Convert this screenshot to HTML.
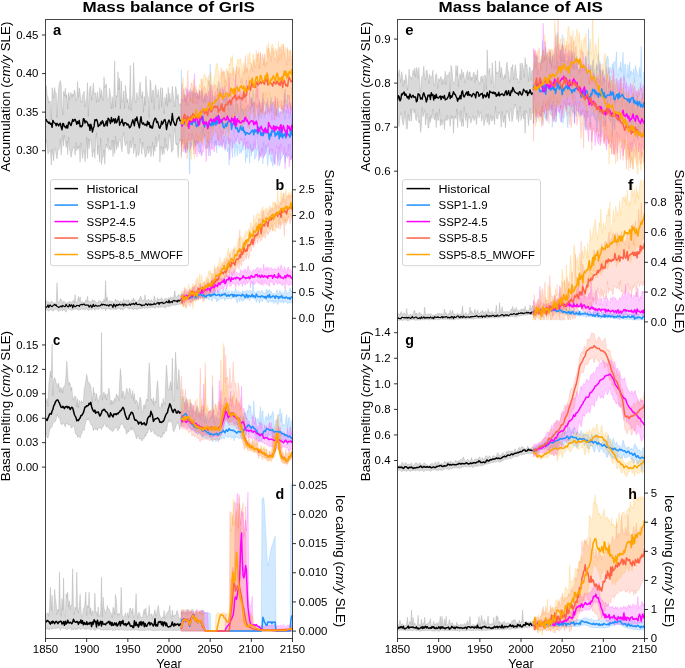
<!DOCTYPE html>
<html><head><meta charset="utf-8"><style>html,body{margin:0;padding:0;background:#fff;}svg{display:block;will-change:transform;}</style></head><body><svg width="685" height="668" viewBox="0 0 685 668" font-family='"Liberation Sans", sans-serif'>
<rect width="685" height="668" fill="#fff"/>
<clipPath id="clipa"><rect x="45.5" y="19.2" width="247.0" height="154.8"/></clipPath><g clip-path="url(#clipa)"><path d="M45.5,99.3L46.3,85.5L47.1,94.7L48.0,97.0L48.8,103.0L49.6,101.1L50.4,101.7L51.3,120.0L52.1,87.7L52.9,91.5L53.7,98.1L54.6,87.5L55.4,92.6L56.2,93.2L57.0,117.3L57.9,98.3L58.7,87.7L59.5,82.7L60.3,80.7L61.1,84.2L62.0,106.2L62.8,115.0L63.6,91.5L64.4,96.1L65.3,88.2L66.1,97.4L66.9,94.5L67.7,109.1L68.6,92.5L69.4,100.1L70.2,93.4L71.0,92.4L71.8,97.3L72.7,93.6L73.5,96.4L74.3,89.9L75.1,92.1L76.0,101.0L76.8,98.7L77.6,81.5L78.4,97.2L79.3,87.9L80.1,93.0L80.9,101.1L81.7,102.7L82.5,95.3L83.4,94.1L84.2,91.1L85.0,107.1L85.8,101.4L86.7,97.1L87.5,82.7L88.3,116.4L89.1,92.6L90.0,86.7L90.8,85.9L91.6,100.5L92.4,93.2L93.3,83.0L94.1,93.3L94.9,92.6L95.7,93.2L96.5,102.7L97.4,91.7L98.2,98.1L99.0,101.8L99.8,87.6L100.7,98.3L101.5,89.9L102.3,96.7L103.1,100.8L104.0,76.9L104.8,87.9L105.6,85.6L106.4,83.7L107.2,97.3L108.1,99.9L108.9,98.7L109.7,88.3L110.5,95.4L111.4,108.9L112.2,96.7L113.0,108.3L113.8,94.9L114.7,60.7L115.5,107.1L116.3,95.3L117.1,97.0L118.0,71.7L118.8,90.0L119.6,78.0L120.4,108.9L121.2,80.9L122.1,102.2L122.9,100.5L123.7,91.0L124.5,108.6L125.4,85.3L126.2,92.1L127.0,102.7L127.8,98.7L128.7,109.2L129.5,98.8L130.3,65.2L131.1,110.9L131.9,100.0L132.8,95.1L133.6,62.6L134.4,84.9L135.2,100.2L136.1,102.6L136.9,92.5L137.7,99.4L138.5,99.0L139.4,87.2L140.2,82.0L141.0,94.1L141.8,98.0L142.7,91.5L143.5,112.3L144.3,96.5L145.1,105.3L145.9,76.1L146.8,90.2L147.6,95.1L148.4,98.0L149.2,117.7L150.1,79.8L150.9,82.5L151.7,102.5L152.5,90.5L153.4,90.2L154.2,109.5L155.0,88.4L155.8,84.8L156.7,94.4L157.5,96.9L158.3,89.6L159.1,109.4L159.9,95.5L160.8,87.4L161.6,106.9L162.4,87.9L163.2,99.9L164.1,114.0L164.9,97.2L165.7,104.6L166.5,93.6L167.4,106.3L168.2,87.4L169.0,102.6L169.8,93.3L170.6,101.4L171.5,99.1L172.3,86.2L173.1,94.5L173.9,99.7L174.8,106.9L175.6,86.5L176.4,90.1L177.2,99.1L178.1,94.3L178.9,105.1L179.7,104.9L180.5,103.3L180.5,141.2L179.7,139.0L178.9,146.1L178.1,157.5L177.2,143.1L176.4,145.0L175.6,143.0L174.8,128.6L173.9,133.3L173.1,150.1L172.3,150.2L171.5,152.4L170.6,140.3L169.8,134.4L169.0,138.0L168.2,148.6L167.4,150.8L166.5,144.4L165.7,148.7L164.9,137.9L164.1,154.2L163.2,146.5L162.4,155.0L161.6,149.0L160.8,146.3L159.9,162.2L159.1,134.1L158.3,140.6L157.5,140.8L156.7,147.2L155.8,136.7L155.0,151.4L154.2,145.6L153.4,156.1L152.5,142.1L151.7,150.8L150.9,156.8L150.1,146.2L149.2,151.0L148.4,153.7L147.6,146.0L146.8,153.6L145.9,156.4L145.1,157.3L144.3,150.1L143.5,147.6L142.7,142.0L141.8,154.3L141.0,144.6L140.2,138.6L139.4,152.3L138.5,155.7L137.7,153.3L136.9,152.6L136.1,157.2L135.2,144.0L134.4,148.0L133.6,153.5L132.8,137.4L131.9,146.0L131.1,147.9L130.3,140.8L129.5,152.5L128.7,154.1L127.8,153.3L127.0,141.7L126.2,142.9L125.4,145.9L124.5,141.3L123.7,132.6L122.9,137.1L122.1,151.7L121.2,147.8L120.4,139.6L119.6,139.5L118.8,142.8L118.0,147.6L117.1,141.6L116.3,149.9L115.5,136.3L114.7,153.5L113.8,140.3L113.0,156.5L112.2,140.0L111.4,149.8L110.5,149.6L109.7,146.6L108.9,150.6L108.1,137.8L107.2,148.3L106.4,144.0L105.6,147.9L104.8,164.2L104.0,149.9L103.1,157.4L102.3,158.2L101.5,164.5L100.7,138.1L99.8,162.2L99.0,155.9L98.2,145.4L97.4,154.7L96.5,132.8L95.7,140.8L94.9,158.3L94.1,149.4L93.3,151.3L92.4,157.0L91.6,146.9L90.8,140.7L90.0,139.1L89.1,148.9L88.3,138.8L87.5,158.7L86.7,136.9L85.8,154.1L85.0,161.8L84.2,150.4L83.4,151.5L82.5,158.6L81.7,149.1L80.9,142.7L80.1,162.1L79.3,145.5L78.4,149.0L77.6,146.7L76.8,150.9L76.0,142.7L75.1,155.2L74.3,146.9L73.5,147.9L72.7,148.9L71.8,153.7L71.0,157.4L70.2,151.2L69.4,149.1L68.6,137.1L67.7,154.7L66.9,140.9L66.1,147.4L65.3,140.3L64.4,135.2L63.6,146.2L62.8,135.3L62.0,145.5L61.1,155.0L60.3,138.9L59.5,147.9L58.7,149.8L57.9,149.4L57.0,159.0L56.2,154.5L55.4,149.1L54.6,147.6L53.7,160.8L52.9,154.5L52.1,149.0L51.3,165.2L50.4,150.7L49.6,150.7L48.8,151.7L48.0,154.0L47.1,148.2L46.3,139.5L45.5,142.8Z" fill="#808080" fill-opacity="0.3" stroke="#808080" stroke-opacity="0.3" stroke-width="0.8"/><path d="M181.3,69.7L182.2,98.6L183.0,100.8L183.8,101.5L184.6,95.3L185.5,95.2L186.3,105.1L187.1,90.4L187.9,106.1L188.8,101.2L189.6,96.7L190.4,88.9L191.2,101.6L192.1,97.7L192.9,91.4L193.7,95.6L194.5,92.5L195.3,93.1L196.2,97.9L197.0,95.6L197.8,93.9L198.6,99.7L199.5,89.7L200.3,111.8L201.1,105.3L201.9,90.7L202.8,97.0L203.6,103.6L204.4,97.3L205.2,93.0L206.1,103.1L206.9,95.0L207.7,100.5L208.5,100.5L209.3,100.2L210.2,63.7L211.0,106.7L211.8,102.1L212.6,95.8L213.5,107.4L214.3,109.7L215.1,96.4L215.9,100.0L216.8,100.9L217.6,99.2L218.4,106.1L219.2,82.1L220.0,106.2L220.9,102.9L221.7,109.0L222.5,103.0L223.3,89.3L224.2,100.7L225.0,97.5L225.8,104.5L226.6,90.6L227.5,101.2L228.3,110.2L229.1,98.1L229.9,105.5L230.8,99.8L231.6,103.0L232.4,102.4L233.2,103.4L234.0,110.0L234.9,113.9L235.7,98.8L236.5,105.8L237.3,103.4L238.2,108.2L239.0,118.0L239.8,113.6L240.6,97.2L241.5,110.9L242.3,108.5L243.1,115.4L243.9,109.7L244.7,108.9L245.6,108.1L246.4,107.3L247.2,110.9L248.0,110.7L248.9,107.4L249.7,105.4L250.5,108.4L251.3,96.9L252.2,106.5L253.0,90.1L253.8,112.1L254.6,101.8L255.4,114.6L256.3,118.4L257.1,114.6L257.9,104.8L258.7,115.8L259.6,99.0L260.4,109.2L261.2,118.5L262.0,107.5L262.9,98.4L263.7,114.8L264.5,117.7L265.3,106.5L266.2,101.7L267.0,103.6L267.8,112.1L268.6,109.0L269.4,108.2L270.3,103.1L271.1,97.2L271.9,111.2L272.7,102.6L273.6,112.9L274.4,107.2L275.2,100.7L276.0,115.7L276.9,108.6L277.7,116.8L278.5,105.8L279.3,114.8L280.1,111.0L281.0,112.1L281.8,113.7L282.6,110.9L283.4,105.2L284.3,92.7L285.1,119.3L285.9,110.2L286.7,113.2L287.6,94.6L288.4,110.5L289.2,117.8L290.0,112.9L290.9,104.8L291.7,125.0L292.5,111.1L292.5,159.0L291.7,155.8L290.9,160.0L290.0,144.1L289.2,156.1L288.4,154.3L287.6,158.3L286.7,155.1L285.9,154.3L285.1,162.7L284.3,154.2L283.4,154.7L282.6,155.2L281.8,158.1L281.0,157.8L280.1,163.7L279.3,165.8L278.5,159.6L277.7,159.5L276.9,153.0L276.0,152.1L275.2,164.6L274.4,160.7L273.6,161.1L272.7,166.4L271.9,157.0L271.1,162.4L270.3,158.2L269.4,150.2L268.6,155.5L267.8,166.1L267.0,157.1L266.2,144.9L265.3,154.3L264.5,156.1L263.7,142.3L262.9,163.9L262.0,147.4L261.2,155.1L260.4,155.8L259.6,152.3L258.7,161.4L257.9,150.4L257.1,148.0L256.3,156.0L255.4,158.1L254.6,159.4L253.8,143.8L253.0,151.8L252.2,148.5L251.3,156.2L250.5,143.9L249.7,163.1L248.9,152.3L248.0,146.3L247.2,157.8L246.4,154.8L245.6,162.7L244.7,142.2L243.9,144.9L243.1,150.8L242.3,145.5L241.5,153.0L240.6,149.8L239.8,153.9L239.0,147.9L238.2,146.4L237.3,155.8L236.5,149.0L235.7,144.3L234.9,156.9L234.0,140.8L233.2,147.9L232.4,157.6L231.6,149.6L230.8,144.2L229.9,139.8L229.1,165.1L228.3,147.9L227.5,151.9L226.6,145.7L225.8,140.5L225.0,151.0L224.2,136.0L223.3,142.4L222.5,145.9L221.7,143.0L220.9,145.9L220.0,146.2L219.2,147.3L218.4,138.5L217.6,139.2L216.8,153.1L215.9,140.3L215.1,146.6L214.3,146.6L213.5,142.5L212.6,142.2L211.8,147.8L211.0,138.3L210.2,143.6L209.3,147.1L208.5,156.0L207.7,139.8L206.9,146.8L206.1,149.1L205.2,147.9L204.4,145.1L203.6,128.2L202.8,138.3L201.9,127.3L201.1,155.3L200.3,145.7L199.5,145.7L198.6,151.9L197.8,141.9L197.0,144.6L196.2,140.3L195.3,145.7L194.5,140.1L193.7,149.2L192.9,141.2L192.1,142.8L191.2,147.0L190.4,142.8L189.6,185.1L188.8,148.1L187.9,146.6L187.1,152.6L186.3,145.2L185.5,152.5L184.6,145.3L183.8,137.6L183.0,135.1L182.2,142.1L181.3,155.5Z" fill="#1e90ff" fill-opacity="0.2" stroke="#1e90ff" stroke-opacity="0.2" stroke-width="0.8"/><path d="M181.3,98.7L182.2,101.0L183.0,98.8L183.8,88.6L184.6,101.7L185.5,96.6L186.3,101.8L187.1,88.8L187.9,97.5L188.8,91.1L189.6,92.8L190.4,99.9L191.2,91.8L192.1,90.3L192.9,103.1L193.7,91.6L194.5,73.8L195.3,97.7L196.2,91.8L197.0,104.0L197.8,92.8L198.6,99.3L199.5,90.8L200.3,95.8L201.1,102.1L201.9,88.6L202.8,96.7L203.6,101.6L204.4,94.9L205.2,101.3L206.1,92.8L206.9,95.6L207.7,97.5L208.5,91.0L209.3,103.1L210.2,89.1L211.0,107.6L211.8,85.1L212.6,93.9L213.5,96.7L214.3,99.6L215.1,91.6L215.9,96.0L216.8,96.1L217.6,88.6L218.4,97.7L219.2,96.5L220.0,92.3L220.9,88.3L221.7,95.9L222.5,86.8L223.3,94.7L224.2,90.4L225.0,85.7L225.8,100.9L226.6,95.9L227.5,95.4L228.3,91.5L229.1,76.5L229.9,95.3L230.8,93.9L231.6,88.3L232.4,103.1L233.2,100.2L234.0,98.3L234.9,95.6L235.7,74.4L236.5,99.0L237.3,84.8L238.2,100.3L239.0,97.2L239.8,89.3L240.6,91.3L241.5,96.3L242.3,94.0L243.1,91.3L243.9,96.6L244.7,92.7L245.6,102.7L246.4,80.1L247.2,108.0L248.0,103.7L248.9,105.8L249.7,91.3L250.5,102.4L251.3,98.0L252.2,106.0L253.0,101.7L253.8,102.4L254.6,106.2L255.4,95.7L256.3,86.0L257.1,97.5L257.9,85.0L258.7,107.0L259.6,101.8L260.4,112.0L261.2,102.5L262.0,113.4L262.9,92.7L263.7,106.0L264.5,114.7L265.3,111.4L266.2,113.4L267.0,105.4L267.8,98.4L268.6,106.4L269.4,111.5L270.3,109.5L271.1,103.7L271.9,119.8L272.7,101.0L273.6,102.3L274.4,120.4L275.2,96.0L276.0,115.5L276.9,106.7L277.7,98.1L278.5,115.9L279.3,117.3L280.1,112.8L281.0,112.7L281.8,100.0L282.6,109.4L283.4,109.2L284.3,109.2L285.1,89.1L285.9,111.7L286.7,104.3L287.6,106.4L288.4,112.8L289.2,95.0L290.0,114.5L290.9,101.8L291.7,111.2L292.5,104.2L292.5,156.7L291.7,156.1L290.9,160.1L290.0,155.7L289.2,167.0L288.4,144.6L287.6,154.5L286.7,156.6L285.9,151.8L285.1,168.8L284.3,147.2L283.4,154.7L282.6,152.6L281.8,151.3L281.0,143.7L280.1,160.3L279.3,146.5L278.5,156.4L277.7,165.8L276.9,145.7L276.0,149.1L275.2,158.3L274.4,164.7L273.6,159.3L272.7,149.3L271.9,154.8L271.1,148.4L270.3,150.7L269.4,154.7L268.6,143.4L267.8,146.5L267.0,146.2L266.2,152.3L265.3,153.6L264.5,154.5L263.7,158.2L262.9,153.7L262.0,148.9L261.2,157.4L260.4,154.5L259.6,159.4L258.7,148.7L257.9,148.0L257.1,136.1L256.3,136.2L255.4,148.9L254.6,141.4L253.8,150.0L253.0,149.8L252.2,151.3L251.3,151.3L250.5,148.2L249.7,146.7L248.9,148.8L248.0,141.0L247.2,148.5L246.4,141.5L245.6,149.4L244.7,137.6L243.9,144.2L243.1,145.8L242.3,139.7L241.5,140.5L240.6,138.0L239.8,144.2L239.0,143.7L238.2,139.1L237.3,134.7L236.5,141.3L235.7,138.4L234.9,143.5L234.0,130.1L233.2,141.5L232.4,148.2L231.6,139.4L230.8,139.3L229.9,159.5L229.1,137.8L228.3,144.3L227.5,137.9L226.6,138.5L225.8,148.7L225.0,148.9L224.2,146.1L223.3,139.8L222.5,147.9L221.7,147.0L220.9,140.7L220.0,145.3L219.2,144.2L218.4,145.5L217.6,134.8L216.8,144.7L215.9,145.3L215.1,141.0L214.3,152.0L213.5,149.7L212.6,147.2L211.8,149.9L211.0,147.7L210.2,156.4L209.3,150.9L208.5,141.2L207.7,148.5L206.9,145.4L206.1,161.8L205.2,139.2L204.4,133.7L203.6,151.7L202.8,150.8L201.9,156.1L201.1,152.7L200.3,150.1L199.5,154.0L198.6,140.0L197.8,143.0L197.0,156.9L196.2,141.1L195.3,154.1L194.5,141.7L193.7,138.3L192.9,140.3L192.1,133.7L191.2,145.6L190.4,149.6L189.6,137.0L188.8,133.7L187.9,149.3L187.1,146.9L186.3,142.3L185.5,153.3L184.6,146.4L183.8,151.9L183.0,139.2L182.2,143.5L181.3,146.5Z" fill="#ff00ff" fill-opacity="0.2" stroke="#ff00ff" stroke-opacity="0.2" stroke-width="0.8"/><path d="M181.3,93.3L182.2,83.6L183.0,99.4L183.8,98.7L184.6,91.7L185.5,86.8L186.3,90.4L187.1,85.3L187.9,70.1L188.8,95.8L189.6,90.0L190.4,89.6L191.2,83.1L192.1,83.5L192.9,104.0L193.7,87.6L194.5,96.2L195.3,104.7L196.2,89.0L197.0,92.1L197.8,92.9L198.6,98.3L199.5,96.3L200.3,91.1L201.1,98.6L201.9,79.0L202.8,88.1L203.6,89.4L204.4,86.3L205.2,88.2L206.1,94.6L206.9,93.5L207.7,86.0L208.5,80.6L209.3,85.2L210.2,88.9L211.0,84.5L211.8,96.3L212.6,90.9L213.5,86.8L214.3,84.5L215.1,85.8L215.9,85.1L216.8,90.4L217.6,86.3L218.4,80.8L219.2,93.3L220.0,89.0L220.9,83.4L221.7,71.8L222.5,76.4L223.3,70.5L224.2,71.5L225.0,82.1L225.8,79.4L226.6,85.8L227.5,71.0L228.3,73.3L229.1,73.8L229.9,72.9L230.8,73.7L231.6,74.9L232.4,74.1L233.2,67.9L234.0,79.8L234.9,80.9L235.7,74.1L236.5,66.5L237.3,71.7L238.2,74.1L239.0,67.2L239.8,71.2L240.6,83.2L241.5,77.2L242.3,83.5L243.1,71.5L243.9,72.4L244.7,66.5L245.6,55.7L246.4,71.9L247.2,67.6L248.0,69.4L248.9,83.8L249.7,70.6L250.5,69.7L251.3,63.0L252.2,69.3L253.0,71.5L253.8,59.4L254.6,62.9L255.4,67.5L256.3,66.3L257.1,53.9L257.9,55.9L258.7,51.9L259.6,68.5L260.4,53.1L261.2,59.7L262.0,57.7L262.9,53.8L263.7,65.5L264.5,54.1L265.3,67.3L266.2,62.0L267.0,64.2L267.8,48.5L268.6,48.6L269.4,53.9L270.3,55.2L271.1,61.5L271.9,47.5L272.7,49.4L273.6,52.4L274.4,58.5L275.2,59.8L276.0,58.1L276.9,49.3L277.7,63.2L278.5,56.5L279.3,47.1L280.1,51.7L281.0,46.3L281.8,54.4L282.6,54.2L283.4,45.0L284.3,52.7L285.1,54.5L285.9,59.7L286.7,65.6L287.6,47.4L288.4,59.0L289.2,61.0L290.0,51.1L290.9,61.8L291.7,64.6L292.5,52.3L292.5,104.0L291.7,87.8L290.9,109.3L290.0,109.6L289.2,103.2L288.4,105.4L287.6,108.4L286.7,100.2L285.9,107.4L285.1,99.7L284.3,102.6L283.4,112.7L282.6,105.8L281.8,110.2L281.0,108.7L280.1,103.7L279.3,108.2L278.5,106.1L277.7,101.3L276.9,114.3L276.0,98.6L275.2,103.0L274.4,108.0L273.6,101.0L272.7,98.3L271.9,99.4L271.1,112.4L270.3,101.0L269.4,114.9L268.6,107.8L267.8,113.2L267.0,106.7L266.2,104.1L265.3,115.2L264.5,101.4L263.7,106.1L262.9,111.0L262.0,113.2L261.2,108.9L260.4,110.4L259.6,114.9L258.7,120.7L257.9,114.9L257.1,114.7L256.3,104.4L255.4,116.1L254.6,119.1L253.8,124.6L253.0,109.7L252.2,102.9L251.3,113.9L250.5,108.0L249.7,129.2L248.9,123.8L248.0,127.6L247.2,119.2L246.4,117.6L245.6,115.5L244.7,123.5L243.9,123.5L243.1,123.6L242.3,129.4L241.5,124.7L240.6,122.0L239.8,123.9L239.0,118.3L238.2,128.0L237.3,125.3L236.5,118.5L235.7,122.9L234.9,114.1L234.0,121.1L233.2,123.1L232.4,127.4L231.6,127.2L230.8,115.2L229.9,117.0L229.1,132.3L228.3,127.1L227.5,123.4L226.6,129.1L225.8,114.5L225.0,120.2L224.2,127.7L223.3,134.8L222.5,131.5L221.7,140.8L220.9,129.8L220.0,138.7L219.2,140.8L218.4,139.5L217.6,136.4L216.8,131.6L215.9,133.8L215.1,131.3L214.3,123.8L213.5,135.7L212.6,135.9L211.8,140.5L211.0,124.1L210.2,136.8L209.3,148.2L208.5,131.9L207.7,142.8L206.9,141.0L206.1,137.0L205.2,136.1L204.4,125.0L203.6,129.9L202.8,145.7L201.9,143.7L201.1,139.1L200.3,141.2L199.5,136.5L198.6,138.9L197.8,143.6L197.0,139.9L196.2,133.2L195.3,146.9L194.5,140.0L193.7,154.4L192.9,136.3L192.1,133.6L191.2,140.1L190.4,140.2L189.6,138.0L188.8,141.9L187.9,138.2L187.1,159.0L186.3,143.4L185.5,150.0L184.6,144.7L183.8,128.5L183.0,144.2L182.2,138.4L181.3,158.4Z" fill="#ff6347" fill-opacity="0.2" stroke="#ff6347" stroke-opacity="0.2" stroke-width="0.8"/><path d="M181.3,105.0L182.2,93.0L183.0,77.2L183.8,97.9L184.6,93.5L185.5,106.1L186.3,95.5L187.1,104.7L187.9,105.4L188.8,94.1L189.6,101.8L190.4,98.6L191.2,91.8L192.1,101.6L192.9,90.5L193.7,79.5L194.5,94.0L195.3,85.9L196.2,86.3L197.0,98.2L197.8,98.1L198.6,88.9L199.5,84.4L200.3,87.4L201.1,78.3L201.9,83.4L202.8,82.9L203.6,76.7L204.4,74.1L205.2,75.3L206.1,79.7L206.9,77.4L207.7,82.7L208.5,75.1L209.3,85.1L210.2,75.2L211.0,72.2L211.8,82.7L212.6,83.9L213.5,82.0L214.3,77.0L215.1,73.9L215.9,66.7L216.8,63.2L217.6,64.4L218.4,72.3L219.2,76.0L220.0,80.6L220.9,67.5L221.7,69.0L222.5,73.6L223.3,72.5L224.2,71.8L225.0,86.8L225.8,70.7L226.6,67.9L227.5,70.4L228.3,76.0L229.1,63.5L229.9,65.7L230.8,57.1L231.6,61.4L232.4,55.3L233.2,65.4L234.0,75.5L234.9,69.8L235.7,75.1L236.5,66.9L237.3,59.3L238.2,59.1L239.0,59.7L239.8,60.6L240.6,58.5L241.5,66.1L242.3,76.3L243.1,62.9L243.9,63.2L244.7,73.7L245.6,66.0L246.4,73.0L247.2,64.8L248.0,53.9L248.9,64.4L249.7,52.4L250.5,58.7L251.3,64.4L252.2,70.4L253.0,54.2L253.8,54.4L254.6,67.5L255.4,60.5L256.3,50.6L257.1,61.8L257.9,54.4L258.7,68.9L259.6,62.2L260.4,51.7L261.2,63.5L262.0,64.9L262.9,64.4L263.7,57.9L264.5,65.2L265.3,55.9L266.2,51.5L267.0,45.3L267.8,57.2L268.6,42.8L269.4,50.9L270.3,53.4L271.1,50.8L271.9,44.4L272.7,44.4L273.6,48.9L274.4,54.0L275.2,48.1L276.0,51.9L276.9,52.0L277.7,51.3L278.5,41.5L279.3,60.2L280.1,53.1L281.0,59.4L281.8,43.8L282.6,45.4L283.4,43.8L284.3,54.4L285.1,51.8L285.9,47.3L286.7,50.9L287.6,50.1L288.4,50.7L289.2,50.2L290.0,52.6L290.9,49.1L291.7,60.9L292.5,54.4L292.5,103.5L291.7,102.5L290.9,108.7L290.0,108.3L289.2,94.6L288.4,99.3L287.6,95.2L286.7,103.0L285.9,103.1L285.1,104.7L284.3,106.0L283.4,114.5L282.6,90.4L281.8,88.1L281.0,109.5L280.1,107.5L279.3,101.4L278.5,106.9L277.7,103.9L276.9,103.6L276.0,118.9L275.2,103.9L274.4,116.2L273.6,105.8L272.7,104.6L271.9,101.5L271.1,104.4L270.3,101.9L269.4,92.0L268.6,105.2L267.8,107.8L267.0,106.0L266.2,92.0L265.3,102.5L264.5,105.2L263.7,92.7L262.9,115.1L262.0,109.6L261.2,112.9L260.4,115.3L259.6,102.6L258.7,101.5L257.9,108.6L257.1,109.9L256.3,105.3L255.4,103.3L254.6,116.1L253.8,94.6L253.0,98.5L252.2,107.4L251.3,103.9L250.5,103.1L249.7,100.9L248.9,111.8L248.0,108.0L247.2,108.3L246.4,121.1L245.6,116.1L244.7,123.5L243.9,105.1L243.1,113.4L242.3,103.0L241.5,115.8L240.6,127.7L239.8,114.1L239.0,113.5L238.2,107.6L237.3,114.8L236.5,104.9L235.7,118.5L234.9,124.0L234.0,114.0L233.2,121.4L232.4,113.9L231.6,120.2L230.8,114.7L229.9,112.8L229.1,110.9L228.3,141.6L227.5,119.0L226.6,123.8L225.8,136.6L225.0,105.7L224.2,114.2L223.3,126.6L222.5,121.1L221.7,120.6L220.9,117.9L220.0,121.5L219.2,129.4L218.4,121.4L217.6,122.9L216.8,111.5L215.9,122.8L215.1,119.7L214.3,114.0L213.5,126.1L212.6,131.6L211.8,126.3L211.0,128.5L210.2,118.2L209.3,134.4L208.5,141.2L207.7,139.3L206.9,148.7L206.1,131.2L205.2,117.9L204.4,133.8L203.6,138.9L202.8,140.2L201.9,144.0L201.1,139.0L200.3,133.4L199.5,143.1L198.6,142.2L197.8,135.6L197.0,141.5L196.2,138.5L195.3,148.9L194.5,159.0L193.7,143.5L192.9,144.0L192.1,146.8L191.2,159.6L190.4,147.6L189.6,152.8L188.8,142.7L187.9,143.5L187.1,150.0L186.3,139.3L185.5,144.8L184.6,142.0L183.8,148.8L183.0,139.4L182.2,152.3L181.3,144.4Z" fill="#ffa500" fill-opacity="0.2" stroke="#ffa500" stroke-opacity="0.2" stroke-width="0.8"/><path d="M45.5,120.3L46.3,119.6L47.1,121.8L48.0,121.8L48.8,123.3L49.6,122.3L50.4,124.2L51.3,123.5L52.1,127.3L52.9,120.4L53.7,122.1L54.6,123.1L55.4,123.4L56.2,125.8L57.0,123.3L57.9,124.2L58.7,125.9L59.5,124.3L60.3,123.2L61.1,126.9L62.0,129.8L62.8,123.4L63.6,123.9L64.4,126.8L65.3,126.5L66.1,128.1L66.9,125.3L67.7,128.1L68.6,122.2L69.4,122.3L70.2,124.4L71.0,125.6L71.8,122.8L72.7,119.4L73.5,121.4L74.3,119.9L75.1,119.3L76.0,121.6L76.8,124.4L77.6,121.4L78.4,123.5L79.3,120.5L80.1,126.7L80.9,125.8L81.7,126.7L82.5,125.3L83.4,118.7L84.2,119.2L85.0,123.1L85.8,121.0L86.7,121.6L87.5,122.8L88.3,125.9L89.1,124.4L90.0,130.4L90.8,124.3L91.6,126.8L92.4,132.0L93.3,128.3L94.1,126.2L94.9,119.6L95.7,120.6L96.5,119.4L97.4,121.5L98.2,126.6L99.0,125.1L99.8,125.4L100.7,122.1L101.5,123.9L102.3,120.6L103.1,122.1L104.0,126.2L104.8,125.8L105.6,123.6L106.4,121.0L107.2,125.8L108.1,118.2L108.9,119.1L109.7,120.6L110.5,123.5L111.4,117.5L112.2,121.9L113.0,120.3L113.8,118.8L114.7,123.0L115.5,118.8L116.3,122.7L117.1,121.7L118.0,118.6L118.8,116.2L119.6,125.2L120.4,122.5L121.2,122.4L122.1,119.1L122.9,123.6L123.7,125.8L124.5,122.7L125.4,122.8L126.2,123.1L127.0,125.1L127.8,124.0L128.7,125.2L129.5,127.8L130.3,127.1L131.1,125.5L131.9,122.7L132.8,119.8L133.6,122.7L134.4,125.7L135.2,118.7L136.1,120.7L136.9,116.9L137.7,121.8L138.5,124.5L139.4,127.9L140.2,121.1L141.0,116.7L141.8,122.6L142.7,124.0L143.5,122.8L144.3,124.7L145.1,125.1L145.9,124.2L146.8,125.8L147.6,121.2L148.4,124.4L149.2,122.6L150.1,127.5L150.9,125.8L151.7,128.1L152.5,128.1L153.4,122.6L154.2,120.3L155.0,118.3L155.8,118.4L156.7,122.6L157.5,121.4L158.3,124.1L159.1,127.5L159.9,128.3L160.8,125.8L161.6,121.3L162.4,124.2L163.2,122.8L164.1,120.1L164.9,119.5L165.7,122.2L166.5,129.5L167.4,124.9L168.2,121.8L169.0,119.9L169.8,121.9L170.6,125.2L171.5,121.7L172.3,113.5L173.1,120.2L173.9,122.2L174.8,124.7L175.6,125.5L176.4,123.2L177.2,119.0L178.1,118.4L178.9,116.9L179.7,120.1L180.5,121.5" fill="none" stroke="#000" stroke-width="1.4" stroke-linejoin="round" stroke-linecap="butt"/><path d="M181.3,124.4L182.2,120.0L183.0,121.0L183.8,124.6L184.6,120.3L185.5,119.2L186.3,118.7L187.1,123.7L187.9,125.7L188.8,121.4L189.6,119.7L190.4,124.4L191.2,123.4L192.1,124.6L192.9,121.3L193.7,121.0L194.5,122.0L195.3,118.5L196.2,126.5L197.0,126.4L197.8,124.2L198.6,121.5L199.5,124.4L200.3,118.8L201.1,119.7L201.9,118.9L202.8,116.3L203.6,121.5L204.4,127.1L205.2,123.6L206.1,123.0L206.9,124.3L207.7,127.3L208.5,124.6L209.3,121.8L210.2,125.5L211.0,123.9L211.8,125.6L212.6,120.2L213.5,125.1L214.3,119.3L215.1,122.5L215.9,125.1L216.8,116.4L217.6,123.6L218.4,120.4L219.2,117.0L220.0,121.9L220.9,122.7L221.7,119.8L222.5,122.6L223.3,127.0L224.2,127.9L225.0,126.2L225.8,123.8L226.6,126.4L227.5,123.3L228.3,121.0L229.1,120.4L229.9,121.4L230.8,121.1L231.6,129.5L232.4,123.7L233.2,123.8L234.0,123.4L234.9,124.6L235.7,128.7L236.5,127.8L237.3,128.1L238.2,132.0L239.0,131.9L239.8,129.3L240.6,126.2L241.5,129.2L242.3,130.3L243.1,127.1L243.9,131.9L244.7,131.3L245.6,134.9L246.4,132.7L247.2,132.7L248.0,133.4L248.9,134.1L249.7,134.1L250.5,132.4L251.3,131.8L252.2,130.1L253.0,130.8L253.8,134.8L254.6,129.5L255.4,131.7L256.3,129.9L257.1,132.3L257.9,133.8L258.7,127.2L259.6,129.2L260.4,132.6L261.2,135.5L262.0,132.5L262.9,135.8L263.7,133.9L264.5,131.3L265.3,128.2L266.2,133.0L267.0,129.7L267.8,131.3L268.6,134.6L269.4,139.4L270.3,133.1L271.1,135.8L271.9,130.4L272.7,131.7L273.6,131.8L274.4,130.1L275.2,136.3L276.0,133.7L276.9,134.8L277.7,131.5L278.5,132.1L279.3,138.8L280.1,128.4L281.0,136.4L281.8,132.9L282.6,137.8L283.4,134.4L284.3,135.6L285.1,132.9L285.9,137.9L286.7,130.3L287.6,133.8L288.4,134.9L289.2,135.1L290.0,137.1L290.9,128.6L291.7,133.9L292.5,135.9" fill="none" stroke="#1e90ff" stroke-width="1.5" stroke-linejoin="round" stroke-linecap="butt"/><path d="M181.3,120.9L182.2,126.3L183.0,119.8L183.8,117.9L184.6,122.6L185.5,122.8L186.3,122.7L187.1,124.4L187.9,122.2L188.8,128.3L189.6,118.7L190.4,120.2L191.2,122.2L192.1,117.1L192.9,121.5L193.7,117.2L194.5,119.9L195.3,120.9L196.2,116.7L197.0,117.6L197.8,121.4L198.6,125.6L199.5,122.2L200.3,116.2L201.1,118.3L201.9,116.3L202.8,122.9L203.6,124.1L204.4,122.1L205.2,124.2L206.1,121.8L206.9,123.1L207.7,128.7L208.5,126.2L209.3,120.8L210.2,120.3L211.0,118.7L211.8,121.8L212.6,121.3L213.5,119.3L214.3,119.2L215.1,121.8L215.9,117.5L216.8,119.8L217.6,118.8L218.4,115.2L219.2,123.4L220.0,119.5L220.9,122.4L221.7,121.4L222.5,119.8L223.3,118.3L224.2,117.8L225.0,119.5L225.8,120.0L226.6,118.8L227.5,116.1L228.3,119.5L229.1,119.7L229.9,121.4L230.8,122.3L231.6,118.1L232.4,120.6L233.2,118.8L234.0,124.4L234.9,116.8L235.7,126.4L236.5,123.9L237.3,118.7L238.2,121.7L239.0,120.7L239.8,122.7L240.6,122.8L241.5,122.6L242.3,120.7L243.1,121.1L243.9,121.6L244.7,118.0L245.6,117.5L246.4,121.1L247.2,120.0L248.0,122.0L248.9,124.2L249.7,122.5L250.5,121.9L251.3,120.8L252.2,121.0L253.0,121.0L253.8,124.8L254.6,122.3L255.4,123.9L256.3,121.1L257.1,123.5L257.9,131.7L258.7,131.4L259.6,128.8L260.4,128.0L261.2,126.3L262.0,129.5L262.9,130.0L263.7,132.7L264.5,129.6L265.3,128.2L266.2,132.3L267.0,131.0L267.8,132.6L268.6,122.4L269.4,126.0L270.3,126.1L271.1,127.9L271.9,128.9L272.7,129.1L273.6,125.8L274.4,131.0L275.2,126.5L276.0,129.7L276.9,126.6L277.7,127.9L278.5,127.8L279.3,130.2L280.1,126.3L281.0,124.7L281.8,132.4L282.6,128.5L283.4,125.6L284.3,128.9L285.1,131.0L285.9,131.4L286.7,136.0L287.6,125.5L288.4,128.3L289.2,126.6L290.0,130.5L290.9,130.0L291.7,125.4L292.5,128.3" fill="none" stroke="#ff00ff" stroke-width="1.5" stroke-linejoin="round" stroke-linecap="butt"/><path d="M181.3,123.1L182.2,123.3L183.0,121.7L183.8,116.3L184.6,114.4L185.5,116.0L186.3,118.7L187.1,121.8L187.9,116.2L188.8,119.4L189.6,118.0L190.4,119.7L191.2,115.8L192.1,120.0L192.9,113.5L193.7,115.8L194.5,115.1L195.3,115.8L196.2,113.3L197.0,116.4L197.8,117.5L198.6,118.4L199.5,118.0L200.3,114.0L201.1,111.4L201.9,112.3L202.8,110.0L203.6,108.9L204.4,113.9L205.2,112.4L206.1,111.0L206.9,112.7L207.7,115.7L208.5,110.2L209.3,109.3L210.2,107.8L211.0,111.9L211.8,111.2L212.6,108.2L213.5,107.4L214.3,107.0L215.1,106.0L215.9,107.7L216.8,106.6L217.6,106.1L218.4,112.2L219.2,109.6L220.0,110.1L220.9,107.2L221.7,103.9L222.5,110.7L223.3,107.9L224.2,111.5L225.0,106.0L225.8,104.7L226.6,104.0L227.5,104.8L228.3,101.8L229.1,102.2L229.9,100.1L230.8,104.7L231.6,100.7L232.4,98.9L233.2,97.2L234.0,97.9L234.9,94.2L235.7,97.3L236.5,100.1L237.3,98.5L238.2,97.4L239.0,96.0L239.8,98.8L240.6,98.1L241.5,97.6L242.3,100.0L243.1,97.8L243.9,91.6L244.7,97.3L245.6,95.1L246.4,95.2L247.2,89.7L248.0,85.9L248.9,88.9L249.7,87.1L250.5,90.4L251.3,85.0L252.2,82.0L253.0,87.0L253.8,85.4L254.6,87.5L255.4,87.3L256.3,82.0L257.1,83.0L257.9,85.1L258.7,84.2L259.6,83.0L260.4,81.9L261.2,83.5L262.0,82.1L262.9,81.4L263.7,83.3L264.5,84.2L265.3,78.7L266.2,80.9L267.0,77.7L267.8,85.1L268.6,83.2L269.4,83.0L270.3,83.1L271.1,83.3L271.9,84.3L272.7,86.2L273.6,81.8L274.4,82.5L275.2,83.7L276.0,84.0L276.9,81.0L277.7,81.8L278.5,84.5L279.3,82.7L280.1,85.6L281.0,81.6L281.8,77.1L282.6,87.4L283.4,82.9L284.3,80.1L285.1,83.1L285.9,85.8L286.7,84.7L287.6,86.5L288.4,80.1L289.2,77.2L290.0,79.2L290.9,81.4L291.7,82.0L292.5,79.7" fill="none" stroke="#ff6347" stroke-width="1.5" stroke-linejoin="round" stroke-linecap="butt"/><path d="M181.3,124.2L182.2,118.3L183.0,124.1L183.8,121.0L184.6,119.7L185.5,119.7L186.3,126.0L187.1,123.3L187.9,121.1L188.8,119.1L189.6,119.1L190.4,119.4L191.2,120.4L192.1,116.8L192.9,115.9L193.7,117.2L194.5,118.2L195.3,116.0L196.2,109.7L197.0,117.8L197.8,117.2L198.6,115.6L199.5,112.8L200.3,117.3L201.1,112.5L201.9,110.5L202.8,110.5L203.6,108.5L204.4,110.0L205.2,110.9L206.1,108.7L206.9,110.3L207.7,108.2L208.5,105.2L209.3,102.4L210.2,104.3L211.0,109.5L211.8,109.5L212.6,102.4L213.5,103.2L214.3,103.2L215.1,100.2L215.9,100.9L216.8,99.3L217.6,99.4L218.4,95.5L219.2,95.9L220.0,92.5L220.9,96.2L221.7,94.3L222.5,99.0L223.3,98.0L224.2,96.6L225.0,96.5L225.8,93.5L226.6,93.1L227.5,94.1L228.3,96.7L229.1,94.7L229.9,96.1L230.8,88.1L231.6,90.6L232.4,89.7L233.2,93.6L234.0,88.5L234.9,94.1L235.7,88.2L236.5,87.6L237.3,87.5L238.2,91.1L239.0,91.1L239.8,87.3L240.6,87.4L241.5,85.4L242.3,88.6L243.1,88.9L243.9,85.9L244.7,92.3L245.6,88.0L246.4,90.6L247.2,90.8L248.0,89.4L248.9,88.3L249.7,80.9L250.5,82.3L251.3,81.2L252.2,78.1L253.0,83.8L253.8,86.5L254.6,86.9L255.4,80.3L256.3,76.8L257.1,76.8L257.9,81.5L258.7,81.8L259.6,81.6L260.4,75.4L261.2,76.1L262.0,80.2L262.9,81.0L263.7,81.7L264.5,80.1L265.3,75.6L266.2,78.9L267.0,73.0L267.8,76.0L268.6,81.4L269.4,84.6L270.3,81.4L271.1,79.0L271.9,80.0L272.7,77.0L273.6,75.7L274.4,78.6L275.2,81.4L276.0,77.6L276.9,73.3L277.7,74.4L278.5,81.8L279.3,78.3L280.1,78.3L281.0,79.5L281.8,77.4L282.6,81.2L283.4,76.2L284.3,71.1L285.1,75.3L285.9,71.2L286.7,78.4L287.6,73.4L288.4,76.5L289.2,71.5L290.0,72.4L290.9,73.5L291.7,69.6L292.5,80.3" fill="none" stroke="#ffa500" stroke-width="1.5" stroke-linejoin="round" stroke-linecap="butt"/></g>
<clipPath id="clipb"><rect x="45.5" y="174.0" width="247.0" height="154.7"/></clipPath><g clip-path="url(#clipb)"><path d="M45.5,301.1L46.3,300.3L47.1,302.2L48.0,301.9L48.8,302.1L49.6,302.8L50.4,303.3L51.3,300.9L52.1,301.5L52.9,302.9L53.7,302.7L54.6,303.0L55.4,303.1L56.2,303.4L57.0,282.8L57.9,301.2L58.7,302.6L59.5,301.7L60.3,299.1L61.1,299.1L62.0,301.4L62.8,303.7L63.6,300.9L64.4,301.4L65.3,302.5L66.1,302.9L66.9,303.9L67.7,301.8L68.6,303.2L69.4,301.3L70.2,301.8L71.0,302.5L71.8,302.2L72.7,301.2L73.5,300.1L74.3,303.1L75.1,294.6L76.0,302.4L76.8,302.3L77.6,301.4L78.4,296.5L79.3,300.8L80.1,296.8L80.9,301.9L81.7,302.3L82.5,301.5L83.4,302.2L84.2,302.3L85.0,302.8L85.8,299.7L86.7,302.1L87.5,296.4L88.3,301.4L89.1,301.5L90.0,301.7L90.8,302.0L91.6,301.4L92.4,299.6L93.3,302.0L94.1,300.0L94.9,301.0L95.7,301.8L96.5,302.4L97.4,302.2L98.2,302.2L99.0,300.4L99.8,301.2L100.7,301.0L101.5,302.7L102.3,301.1L103.1,302.2L104.0,298.9L104.8,301.6L105.6,280.8L106.4,301.0L107.2,297.0L108.1,301.9L108.9,301.9L109.7,300.5L110.5,302.2L111.4,301.1L112.2,301.0L113.0,301.8L113.8,302.8L114.7,302.0L115.5,298.9L116.3,301.0L117.1,300.2L118.0,301.2L118.8,301.3L119.6,302.3L120.4,300.6L121.2,301.6L122.1,302.2L122.9,301.8L123.7,298.5L124.5,301.7L125.4,302.0L126.2,299.8L127.0,300.2L127.8,301.3L128.7,299.5L129.5,302.6L130.3,301.4L131.1,302.7L131.9,299.4L132.8,300.8L133.6,298.0L134.4,300.3L135.2,300.3L136.1,302.0L136.9,302.0L137.7,301.2L138.5,299.7L139.4,300.6L140.2,296.5L141.0,296.5L141.8,299.6L142.7,300.5L143.5,300.1L144.3,299.3L145.1,294.7L145.9,302.2L146.8,300.2L147.6,301.2L148.4,298.8L149.2,300.2L150.1,301.6L150.9,300.1L151.7,299.6L152.5,301.9L153.4,301.6L154.2,295.7L155.0,298.7L155.8,300.6L156.7,302.0L157.5,297.8L158.3,299.9L159.1,299.3L159.9,299.3L160.8,299.5L161.6,297.5L162.4,299.7L163.2,299.9L164.1,300.1L164.9,298.6L165.7,298.8L166.5,298.6L167.4,299.1L168.2,298.1L169.0,297.9L169.8,298.4L170.6,296.8L171.5,299.6L172.3,296.9L173.1,297.7L173.9,296.3L174.8,290.5L175.6,297.0L176.4,297.1L177.2,296.7L178.1,295.0L178.9,294.6L179.7,296.0L180.5,295.3L180.5,304.6L179.7,303.5L178.9,304.5L178.1,304.0L177.2,305.1L176.4,304.6L175.6,305.3L174.8,304.7L173.9,305.4L173.1,305.6L172.3,305.1L171.5,304.7L170.6,306.2L169.8,305.5L169.0,307.2L168.2,305.4L167.4,306.3L166.5,306.3L165.7,308.4L164.9,307.3L164.1,307.1L163.2,307.4L162.4,306.4L161.6,307.2L160.8,307.0L159.9,307.6L159.1,306.3L158.3,308.0L157.5,306.9L156.7,306.4L155.8,307.9L155.0,307.8L154.2,308.2L153.4,306.5L152.5,307.8L151.7,306.6L150.9,308.0L150.1,308.4L149.2,307.2L148.4,307.2L147.6,308.6L146.8,308.0L145.9,307.8L145.1,308.1L144.3,308.5L143.5,307.0L142.7,308.4L141.8,308.8L141.0,307.7L140.2,308.9L139.4,308.1L138.5,308.7L137.7,309.2L136.9,309.0L136.1,309.7L135.2,308.1L134.4,308.9L133.6,309.5L132.8,309.8L131.9,308.0L131.1,309.0L130.3,307.6L129.5,309.1L128.7,309.3L127.8,308.0L127.0,308.0L126.2,306.8L125.4,308.1L124.5,308.6L123.7,309.1L122.9,310.3L122.1,309.2L121.2,308.3L120.4,309.9L119.6,308.5L118.8,308.2L118.0,308.8L117.1,308.4L116.3,309.8L115.5,308.9L114.7,309.0L113.8,309.4L113.0,309.3L112.2,309.0L111.4,309.2L110.5,309.9L109.7,309.3L108.9,308.9L108.1,308.2L107.2,308.9L106.4,308.3L105.6,310.8L104.8,308.7L104.0,308.4L103.1,309.1L102.3,309.3L101.5,309.1L100.7,307.4L99.8,308.7L99.0,309.0L98.2,309.3L97.4,308.8L96.5,309.4L95.7,308.2L94.9,310.6L94.1,309.1L93.3,308.1L92.4,309.4L91.6,310.2L90.8,308.9L90.0,309.3L89.1,310.2L88.3,310.8L87.5,309.5L86.7,308.6L85.8,309.6L85.0,309.6L84.2,309.6L83.4,309.2L82.5,309.6L81.7,308.8L80.9,309.6L80.1,309.8L79.3,309.7L78.4,310.3L77.6,309.8L76.8,308.0L76.0,309.6L75.1,309.2L74.3,308.5L73.5,310.0L72.7,309.5L71.8,310.6L71.0,309.8L70.2,309.8L69.4,309.5L68.6,308.9L67.7,309.2L66.9,309.5L66.1,312.3L65.3,311.3L64.4,310.3L63.6,309.1L62.8,311.1L62.0,309.9L61.1,310.0L60.3,310.6L59.5,309.9L58.7,311.6L57.9,310.1L57.0,309.7L56.2,309.1L55.4,309.5L54.6,308.4L53.7,310.9L52.9,310.7L52.1,310.4L51.3,310.0L50.4,309.5L49.6,310.6L48.8,310.9L48.0,311.1L47.1,308.9L46.3,310.3L45.5,309.6Z" fill="#808080" fill-opacity="0.3" stroke="#808080" stroke-opacity="0.3" stroke-width="0.8"/><path d="M181.3,293.3L182.2,298.0L183.0,293.3L183.8,293.7L184.6,294.1L185.5,296.5L186.3,293.4L187.1,296.5L187.9,294.5L188.8,293.1L189.6,293.3L190.4,291.7L191.2,293.2L192.1,293.8L192.9,293.0L193.7,294.4L194.5,294.9L195.3,293.8L196.2,294.8L197.0,291.0L197.8,286.7L198.6,288.8L199.5,290.3L200.3,294.0L201.1,292.4L201.9,293.9L202.8,291.0L203.6,291.8L204.4,293.4L205.2,289.6L206.1,291.8L206.9,290.4L207.7,290.2L208.5,282.6L209.3,289.5L210.2,291.5L211.0,291.9L211.8,290.9L212.6,293.1L213.5,288.8L214.3,292.4L215.1,289.4L215.9,292.9L216.8,292.7L217.6,290.1L218.4,291.9L219.2,292.9L220.0,289.2L220.9,293.7L221.7,293.0L222.5,290.7L223.3,289.4L224.2,291.8L225.0,293.1L225.8,288.4L226.6,290.7L227.5,292.8L228.3,291.7L229.1,290.1L229.9,296.3L230.8,293.5L231.6,290.8L232.4,291.1L233.2,291.8L234.0,292.2L234.9,291.0L235.7,288.2L236.5,292.8L237.3,292.6L238.2,290.8L239.0,291.8L239.8,294.0L240.6,292.3L241.5,293.7L242.3,291.0L243.1,290.6L243.9,293.0L244.7,291.3L245.6,291.4L246.4,290.0L247.2,290.4L248.0,291.5L248.9,291.4L249.7,289.8L250.5,290.9L251.3,291.1L252.2,293.5L253.0,281.0L253.8,291.2L254.6,291.8L255.4,293.5L256.3,294.7L257.1,291.0L257.9,291.0L258.7,291.7L259.6,291.1L260.4,292.7L261.2,292.1L262.0,290.1L262.9,291.8L263.7,293.3L264.5,292.8L265.3,293.8L266.2,289.3L267.0,293.2L267.8,289.8L268.6,291.6L269.4,289.3L270.3,293.7L271.1,290.9L271.9,293.5L272.7,293.5L273.6,293.3L274.4,294.2L275.2,293.6L276.0,292.6L276.9,289.7L277.7,293.0L278.5,294.7L279.3,291.4L280.1,290.2L281.0,296.3L281.8,291.7L282.6,294.6L283.4,295.3L284.3,291.5L285.1,290.3L285.9,289.7L286.7,292.5L287.6,293.0L288.4,292.3L289.2,291.7L290.0,287.6L290.9,290.5L291.7,292.0L292.5,287.9L292.5,304.7L291.7,301.1L290.9,302.9L290.0,302.6L289.2,303.1L288.4,303.0L287.6,303.8L286.7,302.5L285.9,300.5L285.1,301.7L284.3,302.5L283.4,303.4L282.6,299.8L281.8,302.8L281.0,302.3L280.1,302.0L279.3,300.4L278.5,303.7L277.7,304.6L276.9,302.9L276.0,300.7L275.2,302.5L274.4,301.6L273.6,303.5L272.7,300.0L271.9,302.0L271.1,302.0L270.3,300.5L269.4,301.2L268.6,303.1L267.8,301.4L267.0,302.2L266.2,298.8L265.3,300.0L264.5,298.5L263.7,298.4L262.9,299.9L262.0,301.7L261.2,299.6L260.4,300.0L259.6,303.3L258.7,300.9L257.9,299.8L257.1,299.1L256.3,302.3L255.4,299.0L254.6,299.5L253.8,298.6L253.0,298.8L252.2,297.8L251.3,297.5L250.5,297.8L249.7,301.1L248.9,298.7L248.0,298.9L247.2,299.6L246.4,298.7L245.6,297.3L244.7,299.7L243.9,299.2L243.1,301.6L242.3,299.8L241.5,300.5L240.6,297.4L239.8,301.9L239.0,298.6L238.2,299.0L237.3,303.3L236.5,300.7L235.7,299.4L234.9,298.0L234.0,296.8L233.2,298.0L232.4,297.8L231.6,299.4L230.8,298.1L229.9,298.8L229.1,298.9L228.3,298.1L227.5,299.1L226.6,298.0L225.8,298.4L225.0,300.7L224.2,298.9L223.3,297.5L222.5,298.1L221.7,299.2L220.9,299.0L220.0,298.0L219.2,299.2L218.4,300.9L217.6,299.0L216.8,302.1L215.9,297.5L215.1,299.0L214.3,296.8L213.5,297.9L212.6,298.5L211.8,301.3L211.0,296.7L210.2,296.3L209.3,300.0L208.5,299.6L207.7,296.7L206.9,299.3L206.1,298.9L205.2,296.8L204.4,299.1L203.6,298.3L202.8,298.7L201.9,296.8L201.1,297.7L200.3,297.9L199.5,298.0L198.6,299.3L197.8,296.4L197.0,300.0L196.2,297.4L195.3,300.5L194.5,297.6L193.7,300.1L192.9,300.6L192.1,299.5L191.2,297.8L190.4,300.5L189.6,299.7L188.8,298.7L187.9,299.8L187.1,299.1L186.3,299.3L185.5,299.6L184.6,302.8L183.8,301.9L183.0,299.8L182.2,302.5L181.3,300.4Z" fill="#1e90ff" fill-opacity="0.2" stroke="#1e90ff" stroke-opacity="0.2" stroke-width="0.8"/><path d="M181.3,294.0L182.2,294.6L183.0,294.9L183.8,295.3L184.6,291.2L185.5,288.3L186.3,289.9L187.1,291.6L187.9,292.2L188.8,292.8L189.6,289.0L190.4,291.7L191.2,291.1L192.1,290.6L192.9,287.0L193.7,289.0L194.5,285.7L195.3,290.1L196.2,289.8L197.0,290.4L197.8,287.4L198.6,289.7L199.5,288.1L200.3,284.0L201.1,285.3L201.9,286.7L202.8,286.3L203.6,292.1L204.4,289.8L205.2,283.8L206.1,287.0L206.9,286.2L207.7,282.5L208.5,286.5L209.3,283.2L210.2,283.8L211.0,282.4L211.8,280.5L212.6,278.4L213.5,280.1L214.3,277.9L215.1,282.0L215.9,280.4L216.8,279.0L217.6,275.9L218.4,277.0L219.2,278.7L220.0,279.3L220.9,277.6L221.7,279.6L222.5,279.0L223.3,277.8L224.2,277.1L225.0,277.2L225.8,273.2L226.6,275.4L227.5,277.0L228.3,274.6L229.1,277.6L229.9,268.7L230.8,272.7L231.6,272.4L232.4,275.7L233.2,271.3L234.0,271.4L234.9,269.2L235.7,271.5L236.5,272.4L237.3,272.7L238.2,273.4L239.0,273.8L239.8,273.2L240.6,269.6L241.5,271.9L242.3,271.3L243.1,272.1L243.9,270.3L244.7,269.2L245.6,269.3L246.4,272.8L247.2,270.8L248.0,265.9L248.9,269.3L249.7,270.0L250.5,270.9L251.3,272.7L252.2,272.1L253.0,270.3L253.8,269.5L254.6,271.2L255.4,269.7L256.3,268.2L257.1,268.2L257.9,267.0L258.7,272.2L259.6,268.7L260.4,268.0L261.2,268.8L262.0,271.6L262.9,272.2L263.7,264.1L264.5,270.2L265.3,268.4L266.2,266.6L267.0,270.6L267.8,267.5L268.6,267.1L269.4,269.0L270.3,269.4L271.1,267.2L271.9,269.3L272.7,269.3L273.6,269.3L274.4,268.4L275.2,269.2L276.0,269.3L276.9,269.3L277.7,268.5L278.5,266.6L279.3,269.2L280.1,270.6L281.0,264.7L281.8,267.0L282.6,269.9L283.4,272.4L284.3,266.7L285.1,269.0L285.9,269.2L286.7,274.3L287.6,267.8L288.4,267.0L289.2,269.7L290.0,269.8L290.9,269.6L291.7,271.9L292.5,271.8L292.5,286.9L291.7,284.6L290.9,283.7L290.0,285.1L289.2,285.4L288.4,285.2L287.6,284.2L286.7,283.8L285.9,277.1L285.1,289.7L284.3,284.3L283.4,283.0L282.6,285.8L281.8,284.5L281.0,284.5L280.1,282.4L279.3,283.8L278.5,281.1L277.7,284.6L276.9,283.5L276.0,280.9L275.2,282.3L274.4,285.0L273.6,285.5L272.7,283.1L271.9,280.9L271.1,282.4L270.3,280.5L269.4,286.7L268.6,284.3L267.8,285.0L267.0,283.4L266.2,284.1L265.3,280.6L264.5,283.7L263.7,282.3L262.9,285.8L262.0,280.0L261.2,284.9L260.4,282.4L259.6,284.4L258.7,281.1L257.9,283.5L257.1,280.6L256.3,281.3L255.4,283.3L254.6,284.3L253.8,284.5L253.0,284.0L252.2,283.8L251.3,281.0L250.5,287.8L249.7,279.9L248.9,280.3L248.0,283.1L247.2,283.7L246.4,280.7L245.6,285.0L244.7,284.9L243.9,280.8L243.1,284.3L242.3,286.7L241.5,282.3L240.6,283.9L239.8,283.0L239.0,285.3L238.2,285.6L237.3,282.1L236.5,283.3L235.7,287.6L234.9,284.6L234.0,283.5L233.2,283.8L232.4,283.1L231.6,285.3L230.8,285.3L229.9,286.7L229.1,282.6L228.3,284.1L227.5,286.0L226.6,289.3L225.8,285.1L225.0,285.5L224.2,287.0L223.3,289.4L222.5,289.5L221.7,288.8L220.9,289.0L220.0,289.0L219.2,289.7L218.4,292.3L217.6,293.0L216.8,288.1L215.9,291.4L215.1,292.2L214.3,291.6L213.5,293.2L212.6,293.1L211.8,294.0L211.0,291.3L210.2,293.1L209.3,293.7L208.5,293.5L207.7,292.2L206.9,294.7L206.1,298.2L205.2,295.3L204.4,293.0L203.6,297.6L202.8,297.6L201.9,294.1L201.1,294.6L200.3,299.3L199.5,295.7L198.6,299.9L197.8,297.2L197.0,297.8L196.2,299.9L195.3,295.7L194.5,300.0L193.7,298.4L192.9,298.3L192.1,301.6L191.2,301.0L190.4,303.0L189.6,300.8L188.8,299.1L187.9,300.9L187.1,300.9L186.3,301.9L185.5,299.9L184.6,302.9L183.8,299.7L183.0,305.3L182.2,300.4L181.3,301.5Z" fill="#ff00ff" fill-opacity="0.2" stroke="#ff00ff" stroke-opacity="0.2" stroke-width="0.8"/><path d="M181.3,296.8L182.2,293.8L183.0,295.5L183.8,290.7L184.6,289.9L185.5,295.3L186.3,294.1L187.1,291.6L187.9,292.9L188.8,290.8L189.6,291.6L190.4,289.9L191.2,293.9L192.1,288.9L192.9,286.1L193.7,292.9L194.5,287.3L195.3,287.4L196.2,279.2L197.0,294.1L197.8,287.3L198.6,287.7L199.5,283.9L200.3,282.9L201.1,294.2L201.9,287.0L202.8,283.1L203.6,282.2L204.4,281.7L205.2,285.7L206.1,283.8L206.9,280.4L207.7,278.3L208.5,279.6L209.3,282.9L210.2,289.3L211.0,280.4L211.8,273.6L212.6,277.6L213.5,274.7L214.3,273.5L215.1,267.6L215.9,273.5L216.8,271.3L217.6,266.3L218.4,267.8L219.2,272.1L220.0,266.7L220.9,272.3L221.7,264.7L222.5,263.4L223.3,266.8L224.2,260.5L225.0,261.2L225.8,263.6L226.6,258.1L227.5,262.1L228.3,258.8L229.1,262.6L229.9,253.6L230.8,258.0L231.6,258.8L232.4,256.4L233.2,251.3L234.0,248.3L234.9,252.9L235.7,254.5L236.5,251.8L237.3,251.5L238.2,249.0L239.0,243.1L239.8,229.4L240.6,254.9L241.5,251.9L242.3,247.7L243.1,241.5L243.9,248.5L244.7,241.3L245.6,243.7L246.4,242.6L247.2,241.5L248.0,241.8L248.9,240.6L249.7,238.0L250.5,234.3L251.3,234.4L252.2,232.4L253.0,227.0L253.8,227.4L254.6,225.5L255.4,225.6L256.3,222.5L257.1,227.5L257.9,227.3L258.7,218.3L259.6,220.6L260.4,218.2L261.2,224.4L262.0,211.0L262.9,218.2L263.7,210.3L264.5,217.5L265.3,216.7L266.2,221.8L267.0,212.4L267.8,213.0L268.6,213.7L269.4,209.9L270.3,213.0L271.1,207.6L271.9,208.1L272.7,207.8L273.6,210.2L274.4,209.7L275.2,202.7L276.0,206.1L276.9,205.3L277.7,205.0L278.5,205.2L279.3,208.4L280.1,202.2L281.0,204.3L281.8,199.4L282.6,197.9L283.4,193.4L284.3,201.4L285.1,198.8L285.9,204.0L286.7,195.9L287.6,195.1L288.4,195.7L289.2,194.8L290.0,198.5L290.9,195.1L291.7,197.4L292.5,191.8L292.5,218.7L291.7,217.1L290.9,222.0L290.0,224.2L289.2,218.8L288.4,216.0L287.6,221.2L286.7,220.3L285.9,224.7L285.1,219.3L284.3,236.6L283.4,221.3L282.6,215.1L281.8,225.2L281.0,222.5L280.1,229.2L279.3,216.7L278.5,228.9L277.7,226.0L276.9,227.7L276.0,226.5L275.2,224.0L274.4,223.7L273.6,224.9L272.7,230.9L271.9,225.1L271.1,228.2L270.3,230.8L269.4,231.8L268.6,233.4L267.8,235.0L267.0,231.4L266.2,233.9L265.3,238.5L264.5,236.9L263.7,236.0L262.9,236.4L262.0,236.7L261.2,238.3L260.4,241.2L259.6,238.4L258.7,234.6L257.9,243.6L257.1,241.6L256.3,234.7L255.4,243.7L254.6,243.4L253.8,247.3L253.0,246.0L252.2,245.9L251.3,251.3L250.5,248.6L249.7,253.7L248.9,259.1L248.0,255.8L247.2,253.8L246.4,259.3L245.6,256.1L244.7,259.7L243.9,260.7L243.1,261.7L242.3,259.3L241.5,266.3L240.6,263.8L239.8,262.5L239.0,269.6L238.2,259.6L237.3,267.3L236.5,267.8L235.7,269.7L234.9,267.4L234.0,274.3L233.2,268.5L232.4,274.7L231.6,274.8L230.8,267.8L229.9,269.1L229.1,273.1L228.3,272.2L227.5,277.4L226.6,277.4L225.8,272.2L225.0,276.1L224.2,280.3L223.3,279.3L222.5,283.2L221.7,279.8L220.9,283.4L220.0,283.0L219.2,282.5L218.4,285.8L217.6,287.7L216.8,283.8L215.9,284.1L215.1,291.0L214.3,285.8L213.5,290.8L212.6,288.6L211.8,290.6L211.0,292.1L210.2,294.6L209.3,294.0L208.5,288.0L207.7,292.7L206.9,290.4L206.1,295.8L205.2,296.1L204.4,297.8L203.6,302.1L202.8,301.1L201.9,295.7L201.1,298.7L200.3,296.1L199.5,294.8L198.6,298.3L197.8,298.7L197.0,297.6L196.2,299.3L195.3,298.2L194.5,298.9L193.7,300.8L192.9,299.3L192.1,303.2L191.2,302.1L190.4,306.2L189.6,306.1L188.8,304.7L187.9,302.5L187.1,304.3L186.3,308.1L185.5,306.1L184.6,303.1L183.8,306.8L183.0,305.7L182.2,303.3L181.3,304.0Z" fill="#ff6347" fill-opacity="0.2" stroke="#ff6347" stroke-opacity="0.2" stroke-width="0.8"/><path d="M181.3,290.4L182.2,291.2L183.0,292.5L183.8,291.3L184.6,286.9L185.5,293.2L186.3,294.9L187.1,292.1L187.9,287.7L188.8,284.4L189.6,291.4L190.4,287.5L191.2,290.2L192.1,286.0L192.9,283.2L193.7,285.3L194.5,286.6L195.3,284.3L196.2,286.6L197.0,286.9L197.8,276.8L198.6,285.7L199.5,274.3L200.3,287.1L201.1,274.6L201.9,278.3L202.8,282.2L203.6,283.5L204.4,281.5L205.2,283.5L206.1,276.6L206.9,285.5L207.7,276.6L208.5,270.7L209.3,274.1L210.2,270.3L211.0,274.0L211.8,272.8L212.6,274.2L213.5,274.2L214.3,265.2L215.1,272.8L215.9,272.7L216.8,267.5L217.6,268.1L218.4,263.6L219.2,262.7L220.0,257.3L220.9,274.0L221.7,262.0L222.5,262.8L223.3,262.7L224.2,258.3L225.0,258.8L225.8,257.0L226.6,256.4L227.5,251.4L228.3,248.1L229.1,256.5L229.9,253.1L230.8,250.6L231.6,251.7L232.4,253.2L233.2,249.0L234.0,251.6L234.9,246.0L235.7,251.2L236.5,248.9L237.3,245.8L238.2,238.3L239.0,238.1L239.8,240.2L240.6,236.2L241.5,237.5L242.3,240.7L243.1,237.2L243.9,235.9L244.7,236.2L245.6,231.0L246.4,233.3L247.2,232.9L248.0,230.2L248.9,228.5L249.7,231.3L250.5,222.7L251.3,223.1L252.2,229.5L253.0,224.6L253.8,214.8L254.6,224.8L255.4,218.8L256.3,215.4L257.1,213.9L257.9,212.8L258.7,215.9L259.6,214.1L260.4,214.9L261.2,210.1L262.0,209.0L262.9,206.7L263.7,212.3L264.5,211.9L265.3,208.3L266.2,211.2L267.0,207.8L267.8,211.7L268.6,210.0L269.4,205.6L270.3,206.4L271.1,211.0L271.9,210.4L272.7,202.2L273.6,202.9L274.4,201.6L275.2,203.2L276.0,209.8L276.9,201.7L277.7,190.4L278.5,201.0L279.3,203.6L280.1,203.9L281.0,190.6L281.8,194.6L282.6,202.5L283.4,193.1L284.3,192.7L285.1,197.1L285.9,189.4L286.7,197.7L287.6,197.8L288.4,195.0L289.2,191.5L290.0,194.9L290.9,194.6L291.7,190.5L292.5,196.6L292.5,215.5L291.7,215.4L290.9,217.7L290.0,214.7L289.2,213.8L288.4,218.3L287.6,218.4L286.7,222.7L285.9,217.9L285.1,222.7L284.3,219.1L283.4,222.5L282.6,223.0L281.8,218.4L281.0,215.6L280.1,225.3L279.3,222.9L278.5,225.1L277.7,220.9L276.9,221.9L276.0,228.2L275.2,231.9L274.4,229.3L273.6,230.4L272.7,231.0L271.9,222.3L271.1,229.9L270.3,228.3L269.4,230.1L268.6,226.1L267.8,224.4L267.0,227.0L266.2,231.5L265.3,230.8L264.5,234.2L263.7,230.5L262.9,236.4L262.0,240.5L261.2,233.9L260.4,235.3L259.6,237.5L258.7,235.2L257.9,237.2L257.1,238.6L256.3,236.4L255.4,239.5L254.6,234.9L253.8,241.0L253.0,245.0L252.2,239.5L251.3,243.2L250.5,247.0L249.7,247.4L248.9,249.7L248.0,248.0L247.2,247.9L246.4,255.1L245.6,254.4L244.7,254.6L243.9,251.7L243.1,255.4L242.3,256.7L241.5,258.3L240.6,256.6L239.8,263.2L239.0,260.7L238.2,262.9L237.3,264.6L236.5,260.9L235.7,266.2L234.9,264.2L234.0,261.7L233.2,265.0L232.4,267.7L231.6,267.2L230.8,269.2L229.9,270.4L229.1,273.7L228.3,271.0L227.5,270.0L226.6,276.8L225.8,276.7L225.0,277.3L224.2,276.9L223.3,274.5L222.5,276.0L221.7,280.5L220.9,279.8L220.0,283.0L219.2,281.6L218.4,280.5L217.6,282.6L216.8,287.8L215.9,284.5L215.1,283.2L214.3,290.9L213.5,285.9L212.6,292.7L211.8,288.1L211.0,291.2L210.2,294.3L209.3,289.6L208.5,293.7L207.7,296.4L206.9,293.3L206.1,292.8L205.2,292.4L204.4,300.9L203.6,290.4L202.8,296.3L201.9,298.2L201.1,298.5L200.3,294.9L199.5,298.1L198.6,299.2L197.8,300.5L197.0,298.2L196.2,301.0L195.3,301.4L194.5,300.1L193.7,302.2L192.9,308.8L192.1,301.5L191.2,303.2L190.4,300.6L189.6,302.8L188.8,303.1L187.9,300.0L187.1,299.5L186.3,304.8L185.5,308.4L184.6,305.0L183.8,306.0L183.0,307.1L182.2,301.6L181.3,304.6Z" fill="#ffa500" fill-opacity="0.2" stroke="#ffa500" stroke-opacity="0.2" stroke-width="0.8"/><path d="M45.5,307.2L46.3,307.3L47.1,306.7L48.0,305.0L48.8,307.5L49.6,305.4L50.4,305.1L51.3,306.5L52.1,306.7L52.9,305.8L53.7,305.1L54.6,304.4L55.4,305.4L56.2,304.8L57.0,306.5L57.9,306.8L58.7,307.5L59.5,307.0L60.3,306.4L61.1,305.9L62.0,307.1L62.8,305.4L63.6,306.1L64.4,306.6L65.3,306.6L66.1,304.3L66.9,305.9L67.7,306.7L68.6,306.8L69.4,304.4L70.2,306.4L71.0,305.0L71.8,304.8L72.7,307.8L73.5,304.8L74.3,306.1L75.1,306.8L76.0,306.3L76.8,305.4L77.6,305.5L78.4,305.5L79.3,306.4L80.1,304.8L80.9,304.6L81.7,304.3L82.5,304.9L83.4,304.2L84.2,304.0L85.0,305.2L85.8,305.0L86.7,305.2L87.5,305.2L88.3,305.0L89.1,307.1L90.0,305.9L90.8,305.2L91.6,307.4L92.4,306.8L93.3,304.3L94.1,306.5L94.9,306.0L95.7,305.2L96.5,305.9L97.4,306.2L98.2,305.9L99.0,305.9L99.8,306.0L100.7,305.3L101.5,304.1L102.3,305.1L103.1,304.1L104.0,304.8L104.8,304.7L105.6,304.9L106.4,305.6L107.2,305.0L108.1,305.1L108.9,306.2L109.7,304.7L110.5,304.8L111.4,304.9L112.2,305.7L113.0,307.4L113.8,304.0L114.7,305.2L115.5,306.9L116.3,304.6L117.1,305.7L118.0,304.5L118.8,305.2L119.6,304.1L120.4,304.8L121.2,304.8L122.1,304.9L122.9,304.0L123.7,306.0L124.5,304.0L125.4,304.3L126.2,305.3L127.0,304.9L127.8,305.2L128.7,304.8L129.5,304.0L130.3,305.3L131.1,304.1L131.9,303.9L132.8,304.2L133.6,303.4L134.4,304.7L135.2,304.0L136.1,302.6L136.9,304.5L137.7,304.7L138.5,304.5L139.4,304.0L140.2,305.0L141.0,304.6L141.8,305.8L142.7,305.2L143.5,305.2L144.3,305.3L145.1,304.6L145.9,303.7L146.8,304.5L147.6,305.3L148.4,303.9L149.2,304.0L150.1,305.2L150.9,303.9L151.7,304.9L152.5,304.4L153.4,304.5L154.2,303.2L155.0,304.5L155.8,304.0L156.7,303.5L157.5,302.8L158.3,302.6L159.1,304.4L159.9,302.5L160.8,303.1L161.6,302.3L162.4,302.4L163.2,303.6L164.1,303.0L164.9,303.1L165.7,302.4L166.5,301.3L167.4,302.4L168.2,302.8L169.0,300.1L169.8,302.8L170.6,301.8L171.5,301.7L172.3,302.5L173.1,300.7L173.9,300.3L174.8,301.1L175.6,300.8L176.4,300.8L177.2,302.0L178.1,300.1L178.9,301.2L179.7,300.8L180.5,299.5" fill="none" stroke="#000" stroke-width="1.2" stroke-linejoin="round" stroke-linecap="butt"/><path d="M181.3,298.8L182.2,298.9L183.0,299.0L183.8,297.5L184.6,298.3L185.5,297.5L186.3,296.8L187.1,297.2L187.9,298.6L188.8,297.7L189.6,295.1L190.4,298.1L191.2,295.4L192.1,297.4L192.9,296.2L193.7,295.2L194.5,296.9L195.3,295.0L196.2,297.8L197.0,295.9L197.8,296.2L198.6,295.2L199.5,294.8L200.3,294.4L201.1,294.3L201.9,295.6L202.8,296.0L203.6,294.8L204.4,295.6L205.2,296.9L206.1,296.9L206.9,295.3L207.7,295.3L208.5,294.8L209.3,294.7L210.2,296.3L211.0,294.6L211.8,295.9L212.6,294.5L213.5,294.9L214.3,293.5L215.1,294.6L215.9,295.4L216.8,295.2L217.6,295.0L218.4,294.5L219.2,294.4L220.0,295.8L220.9,296.0L221.7,294.4L222.5,295.1L223.3,294.2L224.2,294.7L225.0,293.7L225.8,294.6L226.6,296.3L227.5,295.6L228.3,294.8L229.1,296.2L229.9,295.3L230.8,294.7L231.6,294.4L232.4,294.6L233.2,296.7L234.0,294.4L234.9,296.2L235.7,295.4L236.5,296.2L237.3,294.7L238.2,295.6L239.0,295.3L239.8,295.2L240.6,295.6L241.5,296.2L242.3,294.4L243.1,295.1L243.9,295.0L244.7,297.3L245.6,297.5L246.4,294.3L247.2,295.2L248.0,297.4L248.9,295.5L249.7,295.8L250.5,296.8L251.3,296.3L252.2,294.4L253.0,296.7L253.8,295.6L254.6,296.8L255.4,297.5L256.3,294.0L257.1,295.6L257.9,296.7L258.7,296.6L259.6,296.5L260.4,297.3L261.2,296.0L262.0,295.9L262.9,296.8L263.7,296.5L264.5,297.7L265.3,296.3L266.2,298.3L267.0,296.7L267.8,295.4L268.6,297.0L269.4,294.4L270.3,297.7L271.1,297.0L271.9,296.9L272.7,296.1L273.6,295.9L274.4,296.8L275.2,298.3L276.0,295.8L276.9,296.5L277.7,296.4L278.5,298.6L279.3,296.8L280.1,297.4L281.0,296.4L281.8,295.8L282.6,298.1L283.4,297.5L284.3,297.4L285.1,298.2L285.9,297.1L286.7,297.1L287.6,298.4L288.4,298.4L289.2,297.5L290.0,299.3L290.9,297.5L291.7,297.1L292.5,297.1" fill="none" stroke="#1e90ff" stroke-width="1.5" stroke-linejoin="round" stroke-linecap="butt"/><path d="M181.3,297.7L182.2,299.8L183.0,298.9L183.8,298.5L184.6,296.3L185.5,296.9L186.3,295.6L187.1,296.0L187.9,295.7L188.8,298.2L189.6,298.1L190.4,294.1L191.2,292.7L192.1,296.3L192.9,295.9L193.7,293.1L194.5,291.8L195.3,295.0L196.2,294.2L197.0,292.1L197.8,292.5L198.6,292.2L199.5,291.4L200.3,293.3L201.1,292.7L201.9,289.8L202.8,293.0L203.6,289.9L204.4,291.1L205.2,288.8L206.1,290.1L206.9,289.9L207.7,288.1L208.5,289.1L209.3,288.8L210.2,291.0L211.0,287.5L211.8,287.9L212.6,286.2L213.5,287.4L214.3,287.8L215.1,284.7L215.9,285.7L216.8,285.6L217.6,286.4L218.4,282.9L219.2,283.0L220.0,284.8L220.9,282.4L221.7,282.3L222.5,281.1L223.3,282.1L224.2,279.3L225.0,283.6L225.8,282.9L226.6,280.0L227.5,279.5L228.3,279.8L229.1,277.3L229.9,279.4L230.8,281.4L231.6,277.6L232.4,279.0L233.2,279.3L234.0,278.1L234.9,277.9L235.7,278.9L236.5,277.3L237.3,277.6L238.2,278.1L239.0,278.0L239.8,280.0L240.6,278.6L241.5,278.4L242.3,277.9L243.1,275.7L243.9,277.3L244.7,277.6L245.6,278.6L246.4,277.6L247.2,278.0L248.0,278.0L248.9,276.8L249.7,278.6L250.5,277.5L251.3,275.5L252.2,276.4L253.0,277.4L253.8,276.9L254.6,277.1L255.4,274.8L256.3,274.9L257.1,274.4L257.9,276.7L258.7,276.4L259.6,275.3L260.4,277.5L261.2,276.9L262.0,275.1L262.9,276.9L263.7,277.2L264.5,275.7L265.3,276.5L266.2,276.9L267.0,276.1L267.8,278.1L268.6,275.4L269.4,276.0L270.3,275.8L271.1,276.0L271.9,275.5L272.7,278.2L273.6,276.2L274.4,274.7L275.2,277.1L276.0,277.3L276.9,277.2L277.7,278.0L278.5,273.6L279.3,276.8L280.1,275.7L281.0,277.7L281.8,277.5L282.6,277.8L283.4,278.5L284.3,277.4L285.1,275.6L285.9,277.7L286.7,275.8L287.6,274.8L288.4,276.5L289.2,275.7L290.0,275.6L290.9,277.7L291.7,277.6L292.5,279.1" fill="none" stroke="#ff00ff" stroke-width="1.5" stroke-linejoin="round" stroke-linecap="butt"/><path d="M181.3,299.0L182.2,303.0L183.0,296.1L183.8,298.3L184.6,299.0L185.5,295.9L186.3,297.2L187.1,298.3L187.9,298.2L188.8,295.0L189.6,294.1L190.4,295.5L191.2,295.4L192.1,290.8L192.9,295.1L193.7,295.9L194.5,292.4L195.3,294.4L196.2,295.5L197.0,291.9L197.8,292.8L198.6,288.4L199.5,290.4L200.3,288.9L201.1,287.9L201.9,288.7L202.8,287.5L203.6,291.1L204.4,290.3L205.2,288.4L206.1,285.7L206.9,286.1L207.7,285.3L208.5,284.3L209.3,285.8L210.2,286.3L211.0,285.8L211.8,281.0L212.6,286.0L213.5,284.9L214.3,280.9L215.1,282.8L215.9,279.1L216.8,280.9L217.6,278.7L218.4,279.4L219.2,276.0L220.0,275.4L220.9,272.3L221.7,273.0L222.5,272.2L223.3,273.8L224.2,271.8L225.0,271.3L225.8,272.5L226.6,270.9L227.5,267.8L228.3,266.0L229.1,262.6L229.9,266.3L230.8,266.9L231.6,262.2L232.4,263.6L233.2,263.7L234.0,262.5L234.9,265.2L235.7,260.5L236.5,259.3L237.3,259.0L238.2,259.4L239.0,257.9L239.8,254.8L240.6,257.6L241.5,251.4L242.3,254.4L243.1,253.0L243.9,247.3L244.7,251.1L245.6,251.4L246.4,249.2L247.2,250.9L248.0,244.8L248.9,245.9L249.7,244.7L250.5,244.7L251.3,241.4L252.2,239.1L253.0,244.3L253.8,240.6L254.6,235.6L255.4,236.3L256.3,234.3L257.1,235.2L257.9,233.9L258.7,228.6L259.6,229.1L260.4,227.8L261.2,233.7L262.0,226.8L262.9,225.7L263.7,224.7L264.5,226.0L265.3,222.2L266.2,221.1L267.0,222.6L267.8,226.6L268.6,221.3L269.4,220.2L270.3,218.6L271.1,220.1L271.9,217.5L272.7,218.4L273.6,217.5L274.4,217.2L275.2,215.2L276.0,213.3L276.9,213.3L277.7,216.4L278.5,212.5L279.3,214.0L280.1,212.3L281.0,217.3L281.8,210.4L282.6,212.0L283.4,211.5L284.3,210.2L285.1,212.1L285.9,211.2L286.7,214.0L287.6,208.0L288.4,209.3L289.2,207.6L290.0,206.8L290.9,208.2L291.7,205.7L292.5,210.6" fill="none" stroke="#ff6347" stroke-width="1.5" stroke-linejoin="round" stroke-linecap="butt"/><path d="M181.3,298.1L182.2,295.6L183.0,299.7L183.8,298.7L184.6,300.0L185.5,296.5L186.3,296.9L187.1,299.2L187.9,297.2L188.8,296.4L189.6,296.6L190.4,291.5L191.2,293.8L192.1,294.0L192.9,292.3L193.7,291.7L194.5,296.0L195.3,294.4L196.2,292.4L197.0,296.5L197.8,291.0L198.6,291.6L199.5,291.9L200.3,290.0L201.1,287.9L201.9,288.0L202.8,288.8L203.6,288.0L204.4,286.2L205.2,288.3L206.1,285.4L206.9,287.1L207.7,285.6L208.5,283.6L209.3,284.2L210.2,286.1L211.0,282.8L211.8,284.4L212.6,282.5L213.5,281.3L214.3,279.4L215.1,280.0L215.9,275.0L216.8,276.4L217.6,275.1L218.4,275.0L219.2,273.5L220.0,275.1L220.9,273.4L221.7,269.5L222.5,268.8L223.3,269.1L224.2,265.5L225.0,270.0L225.8,269.4L226.6,267.8L227.5,263.7L228.3,267.6L229.1,261.9L229.9,263.5L230.8,259.8L231.6,258.6L232.4,259.5L233.2,261.1L234.0,260.0L234.9,254.9L235.7,254.9L236.5,255.9L237.3,254.4L238.2,250.4L239.0,251.9L239.8,248.8L240.6,251.1L241.5,250.1L242.3,248.8L243.1,246.9L243.9,243.0L244.7,246.1L245.6,240.6L246.4,243.2L247.2,239.4L248.0,241.2L248.9,238.7L249.7,232.0L250.5,237.4L251.3,234.7L252.2,234.5L253.0,236.5L253.8,230.6L254.6,231.8L255.4,232.4L256.3,230.0L257.1,226.3L257.9,231.0L258.7,224.3L259.6,229.3L260.4,223.9L261.2,226.1L262.0,226.2L262.9,219.3L263.7,222.0L264.5,221.0L265.3,223.1L266.2,218.2L267.0,218.1L267.8,219.1L268.6,219.8L269.4,216.9L270.3,219.0L271.1,215.6L271.9,215.2L272.7,214.3L273.6,219.6L274.4,214.5L275.2,215.1L276.0,215.3L276.9,212.0L277.7,214.2L278.5,212.7L279.3,211.2L280.1,211.9L281.0,208.4L281.8,209.8L282.6,208.2L283.4,212.2L284.3,207.9L285.1,208.7L285.9,206.0L286.7,208.3L287.6,206.7L288.4,208.6L289.2,207.7L290.0,208.2L290.9,202.6L291.7,206.8L292.5,205.3" fill="none" stroke="#ffa500" stroke-width="1.5" stroke-linejoin="round" stroke-linecap="butt"/></g>
<clipPath id="clipc"><rect x="45.5" y="328.7" width="247.0" height="154.8"/></clipPath><g clip-path="url(#clipc)"><path d="M45.5,398.7L46.3,402.7L47.1,398.4L48.0,406.7L48.8,384.8L49.6,377.9L50.4,371.0L51.3,377.7L52.1,344.1L52.9,395.6L53.7,380.3L54.6,377.5L55.4,379.9L56.2,383.7L57.0,383.7L57.9,387.5L58.7,382.9L59.5,391.6L60.3,386.9L61.1,392.7L62.0,387.8L62.8,393.2L63.6,386.7L64.4,386.5L65.3,383.5L66.1,372.1L66.9,361.2L67.7,374.2L68.6,385.0L69.4,382.4L70.2,384.0L71.0,390.6L71.8,387.0L72.7,397.4L73.5,400.1L74.3,396.5L75.1,396.2L76.0,396.8L76.8,407.0L77.6,398.7L78.4,407.8L79.3,400.4L80.1,402.3L80.9,402.9L81.7,400.5L82.5,403.1L83.4,401.8L84.2,389.5L85.0,385.7L85.8,380.3L86.7,374.3L87.5,378.0L88.3,383.2L89.1,382.4L90.0,384.6L90.8,386.8L91.6,394.5L92.4,402.5L93.3,387.3L94.1,394.8L94.9,393.0L95.7,400.7L96.5,393.5L97.4,399.5L98.2,402.2L99.0,399.3L99.8,395.6L100.7,396.0L101.5,332.7L102.3,400.2L103.1,394.5L104.0,391.9L104.8,397.5L105.6,393.6L106.4,400.1L107.2,394.1L108.1,394.0L108.9,388.1L109.7,392.9L110.5,404.6L111.4,400.0L112.2,404.3L113.0,400.5L113.8,403.2L114.7,397.9L115.5,400.9L116.3,393.8L117.1,396.4L118.0,395.6L118.8,400.9L119.6,382.2L120.4,368.6L121.2,376.7L122.1,397.7L122.9,391.0L123.7,391.8L124.5,399.1L125.4,395.8L126.2,391.1L127.0,388.1L127.8,393.8L128.7,394.0L129.5,388.1L130.3,390.3L131.1,394.9L131.9,397.9L132.8,390.6L133.6,400.7L134.4,393.7L135.2,403.7L136.1,399.8L136.9,402.0L137.7,402.2L138.5,409.4L139.4,400.8L140.2,397.1L141.0,400.2L141.8,412.8L142.7,411.8L143.5,405.5L144.3,404.6L145.1,408.8L145.9,400.9L146.8,398.9L147.6,401.0L148.4,379.7L149.2,362.9L150.1,377.9L150.9,400.3L151.7,398.9L152.5,403.2L153.4,397.7L154.2,405.6L155.0,400.9L155.8,402.5L156.7,388.4L157.5,380.8L158.3,390.0L159.1,408.1L159.9,407.4L160.8,408.1L161.6,402.9L162.4,406.5L163.2,398.5L164.1,402.6L164.9,404.9L165.7,379.8L166.5,365.3L167.4,377.6L168.2,390.1L169.0,389.6L169.8,385.7L170.6,381.6L171.5,390.2L172.3,358.0L173.1,398.6L173.9,401.4L174.8,371.2L175.6,352.3L176.4,367.9L177.2,389.4L178.1,379.2L178.9,369.4L179.7,380.9L180.5,393.1L180.5,426.0L179.7,429.7L178.9,425.6L178.1,421.8L177.2,423.7L176.4,424.4L175.6,427.3L174.8,429.6L173.9,431.7L173.1,430.7L172.3,425.3L171.5,420.8L170.6,420.4L169.8,422.3L169.0,419.6L168.2,422.3L167.4,425.2L166.5,431.2L165.7,430.8L164.9,431.3L164.1,434.3L163.2,432.2L162.4,436.8L161.6,436.1L160.8,438.1L159.9,436.5L159.1,435.4L158.3,436.7L157.5,436.0L156.7,435.4L155.8,433.6L155.0,434.3L154.2,433.7L153.4,431.5L152.5,430.6L151.7,431.1L150.9,432.4L150.1,428.0L149.2,429.2L148.4,429.4L147.6,433.1L146.8,432.2L145.9,436.4L145.1,434.4L144.3,438.2L143.5,439.0L142.7,439.6L141.8,441.1L141.0,438.1L140.2,439.2L139.4,439.1L138.5,435.7L137.7,434.8L136.9,439.0L136.1,437.6L135.2,433.7L134.4,431.9L133.6,429.8L132.8,427.7L131.9,430.4L131.1,427.6L130.3,429.9L129.5,429.9L128.7,432.1L127.8,430.2L127.0,434.2L126.2,433.3L125.4,427.3L124.5,428.5L123.7,426.8L122.9,424.5L122.1,423.4L121.2,424.4L120.4,424.5L119.6,428.5L118.8,427.4L118.0,431.2L117.1,428.3L116.3,427.4L115.5,427.7L114.7,428.2L113.8,430.3L113.0,431.1L112.2,431.6L111.4,430.4L110.5,429.4L109.7,429.3L108.9,428.6L108.1,427.1L107.2,425.3L106.4,427.3L105.6,424.7L104.8,423.8L104.0,424.6L103.1,427.0L102.3,426.9L101.5,429.6L100.7,427.6L99.8,428.3L99.0,427.4L98.2,428.4L97.4,430.8L96.5,428.0L95.7,429.8L94.9,428.3L94.1,428.0L93.3,430.9L92.4,425.0L91.6,425.2L90.8,424.2L90.0,421.6L89.1,420.8L88.3,418.5L87.5,420.0L86.7,419.2L85.8,422.1L85.0,425.5L84.2,430.6L83.4,429.9L82.5,430.6L81.7,433.9L80.9,434.7L80.1,438.2L79.3,436.5L78.4,435.9L77.6,437.5L76.8,434.0L76.0,434.5L75.1,432.6L74.3,426.4L73.5,426.0L72.7,426.6L71.8,428.3L71.0,427.5L70.2,425.1L69.4,424.3L68.6,425.3L67.7,423.7L66.9,424.0L66.1,423.3L65.3,427.0L64.4,424.7L63.6,423.5L62.8,422.7L62.0,424.7L61.1,424.3L60.3,421.2L59.5,417.8L58.7,418.0L57.9,416.0L57.0,414.8L56.2,419.3L55.4,421.6L54.6,421.5L53.7,422.3L52.9,423.7L52.1,426.7L51.3,427.5L50.4,428.1L49.6,430.5L48.8,434.0L48.0,438.2L47.1,437.3L46.3,433.4L45.5,434.4Z" fill="#808080" fill-opacity="0.3" stroke="#808080" stroke-opacity="0.3" stroke-width="0.8"/><path d="M181.3,409.1L182.2,399.8L183.0,396.0L183.8,403.6L184.6,401.6L185.5,401.3L186.3,397.8L187.1,404.2L187.9,406.1L188.8,406.7L189.6,412.3L190.4,403.0L191.2,402.8L192.1,409.4L192.9,409.8L193.7,410.0L194.5,411.3L195.3,414.9L196.2,409.8L197.0,405.6L197.8,409.3L198.6,417.4L199.5,413.4L200.3,419.9L201.1,407.6L201.9,421.5L202.8,416.3L203.6,409.8L204.4,423.2L205.2,416.1L206.1,423.6L206.9,413.6L207.7,419.0L208.5,420.2L209.3,422.0L210.2,416.7L211.0,417.6L211.8,417.1L212.6,386.6L213.5,422.3L214.3,416.8L215.1,414.6L215.9,417.6L216.8,417.9L217.6,418.9L218.4,420.5L219.2,418.8L220.0,418.8L220.9,408.3L221.7,418.8L222.5,421.3L223.3,415.5L224.2,417.7L225.0,419.1L225.8,413.1L226.6,416.9L227.5,419.3L228.3,413.6L229.1,408.0L229.9,410.5L230.8,414.7L231.6,414.6L232.4,416.0L233.2,413.2L234.0,417.1L234.9,415.1L235.7,417.4L236.5,416.2L237.3,425.2L238.2,417.4L239.0,419.6L239.8,418.7L240.6,415.7L241.5,422.0L242.3,421.0L243.1,416.4L243.9,416.4L244.7,412.0L245.6,412.7L246.4,418.9L247.2,410.2L248.0,412.5L248.9,404.5L249.7,408.1L250.5,406.0L251.3,413.2L252.2,419.0L253.0,414.7L253.8,400.7L254.6,412.5L255.4,420.5L256.3,422.2L257.1,419.5L257.9,417.8L258.7,423.9L259.6,416.2L260.4,406.7L261.2,424.9L262.0,411.3L262.9,410.6L263.7,425.8L264.5,423.8L265.3,417.4L266.2,416.3L267.0,419.5L267.8,416.0L268.6,412.9L269.4,419.7L270.3,415.6L271.1,417.9L271.9,413.7L272.7,411.4L273.6,413.7L274.4,429.8L275.2,423.8L276.0,419.6L276.9,422.6L277.7,417.0L278.5,414.4L279.3,415.6L280.1,408.4L281.0,421.6L281.8,412.6L282.6,425.7L283.4,424.7L284.3,425.1L285.1,424.5L285.9,418.5L286.7,414.6L287.6,427.5L288.4,418.8L289.2,417.0L290.0,420.9L290.9,430.3L291.7,420.5L292.5,418.7L292.5,442.0L291.7,441.3L290.9,442.5L290.0,443.5L289.2,441.3L288.4,442.7L287.6,445.1L286.7,440.9L285.9,440.7L285.1,440.6L284.3,441.3L283.4,443.2L282.6,439.3L281.8,440.7L281.0,438.8L280.1,440.3L279.3,439.8L278.5,438.0L277.7,438.3L276.9,439.3L276.0,437.9L275.2,437.8L274.4,441.2L273.6,437.8L272.7,437.9L271.9,436.7L271.1,436.1L270.3,435.2L269.4,435.0L268.6,435.5L267.8,435.4L267.0,437.1L266.2,435.8L265.3,435.6L264.5,436.0L263.7,439.2L262.9,437.6L262.0,439.5L261.2,441.2L260.4,440.8L259.6,441.4L258.7,440.9L257.9,438.3L257.1,437.8L256.3,439.1L255.4,435.1L254.6,434.7L253.8,432.8L253.0,432.0L252.2,432.9L251.3,431.6L250.5,431.1L249.7,432.3L248.9,434.3L248.0,431.1L247.2,430.6L246.4,434.5L245.6,435.1L244.7,435.4L243.9,436.3L243.1,436.8L242.3,439.4L241.5,437.2L240.6,438.4L239.8,438.5L239.0,438.6L238.2,438.1L237.3,437.7L236.5,436.7L235.7,437.8L234.9,436.6L234.0,440.9L233.2,436.6L232.4,437.5L231.6,437.8L230.8,437.7L229.9,435.7L229.1,437.0L228.3,437.5L227.5,437.4L226.6,435.9L225.8,436.0L225.0,436.6L224.2,439.1L223.3,437.7L222.5,437.9L221.7,438.9L220.9,438.7L220.0,439.8L219.2,438.9L218.4,440.3L217.6,440.3L216.8,439.8L215.9,442.0L215.1,439.7L214.3,439.5L213.5,440.3L212.6,442.0L211.8,439.1L211.0,439.8L210.2,438.0L209.3,438.0L208.5,438.1L207.7,438.0L206.9,437.8L206.1,438.8L205.2,436.2L204.4,436.9L203.6,437.6L202.8,437.2L201.9,437.0L201.1,435.8L200.3,435.0L199.5,433.7L198.6,433.1L197.8,434.9L197.0,432.5L196.2,432.5L195.3,432.7L194.5,431.1L193.7,430.9L192.9,430.2L192.1,429.7L191.2,428.8L190.4,428.9L189.6,427.7L188.8,426.6L187.9,425.7L187.1,422.7L186.3,422.1L185.5,421.7L184.6,421.8L183.8,422.2L183.0,422.4L182.2,422.0L181.3,424.5Z" fill="#1e90ff" fill-opacity="0.2" stroke="#1e90ff" stroke-opacity="0.2" stroke-width="0.8"/><path d="M181.3,412.1L182.2,410.8L183.0,411.9L183.8,410.8L184.6,402.5L185.5,408.8L186.3,405.4L187.1,399.6L187.9,411.2L188.8,411.2L189.6,416.0L190.4,404.6L191.2,408.0L192.1,417.2L192.9,404.8L193.7,406.3L194.5,422.1L195.3,416.3L196.2,408.5L197.0,416.9L197.8,414.3L198.6,411.3L199.5,412.9L200.3,416.7L201.1,411.9L201.9,409.2L202.8,416.3L203.6,384.2L204.4,412.5L205.2,413.6L206.1,420.6L206.9,419.7L207.7,419.3L208.5,412.0L209.3,412.3L210.2,410.4L211.0,411.7L211.8,418.4L212.6,412.8L213.5,409.3L214.3,419.1L215.1,424.4L215.9,418.5L216.8,414.9L217.6,411.6L218.4,413.3L219.2,380.4L220.0,410.4L220.9,390.7L221.7,407.0L222.5,405.1L223.3,406.5L224.2,400.0L225.0,397.2L225.8,397.4L226.6,399.6L227.5,406.4L228.3,403.7L229.1,406.8L229.9,399.6L230.8,391.1L231.6,406.7L232.4,397.3L233.2,403.3L234.0,408.4L234.9,406.0L235.7,403.5L236.5,398.5L237.3,405.7L238.2,404.7L239.0,402.5L239.8,404.5L240.6,408.9L241.5,385.8L242.3,409.7L243.1,410.2L243.9,408.0L244.7,411.8L245.6,415.9L246.4,418.7L247.2,418.1L248.0,429.1L248.9,420.7L249.7,423.4L250.5,428.2L251.3,433.0L252.2,421.8L253.0,415.2L253.8,421.6L254.6,423.8L255.4,417.0L256.3,425.4L257.1,426.1L257.9,430.2L258.7,426.4L259.6,422.7L260.4,422.5L261.2,428.2L262.0,423.5L262.9,432.3L263.7,430.6L264.5,425.3L265.3,427.9L266.2,425.2L267.0,430.6L267.8,438.7L268.6,425.3L269.4,422.2L270.3,428.7L271.1,422.6L271.9,433.5L272.7,427.5L273.6,438.1L274.4,432.1L275.2,432.1L276.0,439.8L276.9,433.2L277.7,431.7L278.5,426.3L279.3,433.5L280.1,426.9L281.0,435.7L281.8,431.6L282.6,431.6L283.4,434.3L284.3,432.5L285.1,435.0L285.9,435.2L286.7,434.8L287.6,427.8L288.4,433.7L289.2,435.9L290.0,427.4L290.9,434.4L291.7,431.2L292.5,433.1L292.5,449.3L291.7,448.6L290.9,448.5L290.0,450.8L289.2,449.2L288.4,451.5L287.6,447.7L286.7,447.9L285.9,448.2L285.1,447.6L284.3,447.0L283.4,446.4L282.6,446.8L281.8,448.4L281.0,447.0L280.1,448.5L279.3,450.2L278.5,449.8L277.7,447.1L276.9,449.5L276.0,447.6L275.2,446.5L274.4,446.3L273.6,446.7L272.7,447.5L271.9,446.5L271.1,446.5L270.3,445.9L269.4,446.9L268.6,445.2L267.8,444.8L267.0,445.5L266.2,443.4L265.3,443.6L264.5,444.1L263.7,442.6L262.9,442.4L262.0,442.9L261.2,441.6L260.4,440.7L259.6,441.8L258.7,441.9L257.9,440.8L257.1,441.2L256.3,438.9L255.4,439.4L254.6,438.1L253.8,438.0L253.0,438.1L252.2,439.4L251.3,437.5L250.5,437.8L249.7,437.2L248.9,437.1L248.0,437.7L247.2,436.5L246.4,436.1L245.6,434.2L244.7,431.2L243.9,430.3L243.1,429.1L242.3,428.5L241.5,428.4L240.6,428.8L239.8,428.5L239.0,429.8L238.2,426.4L237.3,425.6L236.5,423.8L235.7,424.1L234.9,424.0L234.0,424.2L233.2,422.6L232.4,421.2L231.6,421.8L230.8,422.0L229.9,422.1L229.1,422.5L228.3,423.3L227.5,422.0L226.6,421.5L225.8,418.4L225.0,420.5L224.2,424.8L223.3,429.0L222.5,431.3L221.7,432.8L220.9,435.8L220.0,434.7L219.2,436.0L218.4,435.6L217.6,436.8L216.8,436.8L215.9,435.5L215.1,436.4L214.3,435.8L213.5,436.7L212.6,436.5L211.8,437.7L211.0,436.7L210.2,437.2L209.3,434.6L208.5,434.6L207.7,435.8L206.9,434.4L206.1,435.0L205.2,434.3L204.4,434.8L203.6,434.7L202.8,436.5L201.9,435.2L201.1,433.5L200.3,433.5L199.5,432.5L198.6,432.9L197.8,431.7L197.0,432.5L196.2,433.3L195.3,430.3L194.5,431.5L193.7,430.2L192.9,428.7L192.1,430.5L191.2,430.5L190.4,428.1L189.6,428.0L188.8,427.3L187.9,428.7L187.1,428.4L186.3,428.1L185.5,427.1L184.6,427.0L183.8,427.0L183.0,426.5L182.2,426.2L181.3,426.7Z" fill="#ff00ff" fill-opacity="0.2" stroke="#ff00ff" stroke-opacity="0.2" stroke-width="0.8"/><path d="M181.3,375.9L182.2,394.6L183.0,389.3L183.8,400.0L184.6,397.2L185.5,389.7L186.3,403.9L187.1,405.3L187.9,402.8L188.8,403.9L189.6,403.6L190.4,399.2L191.2,404.0L192.1,406.0L192.9,404.9L193.7,406.2L194.5,405.7L195.3,400.5L196.2,407.9L197.0,406.4L197.8,408.2L198.6,410.3L199.5,401.1L200.3,368.3L201.1,408.3L201.9,405.3L202.8,408.0L203.6,404.6L204.4,410.8L205.2,363.1L206.1,406.6L206.9,409.6L207.7,411.0L208.5,411.8L209.3,412.9L210.2,411.0L211.0,410.8L211.8,410.2L212.6,375.3L213.5,409.5L214.3,412.7L215.1,403.4L215.9,405.0L216.8,411.4L217.6,405.9L218.4,402.0L219.2,402.7L220.0,409.4L220.9,359.6L221.7,394.6L222.5,393.2L223.3,387.5L224.2,346.6L225.0,382.7L225.8,354.9L226.6,379.1L227.5,376.8L228.3,383.1L229.1,388.2L229.9,367.7L230.8,388.0L231.6,383.1L232.4,379.8L233.2,361.9L234.0,378.9L234.9,384.3L235.7,383.1L236.5,390.5L237.3,402.4L238.2,382.8L239.0,387.1L239.8,395.3L240.6,399.4L241.5,404.5L242.3,413.3L243.1,418.7L243.9,417.6L244.7,423.3L245.6,440.5L246.4,436.9L247.2,446.2L248.0,442.1L248.9,433.9L249.7,442.6L250.5,448.7L251.3,442.7L252.2,444.8L253.0,440.3L253.8,446.9L254.6,437.7L255.4,441.3L256.3,438.8L257.1,445.0L257.9,441.1L258.7,456.0L259.6,449.9L260.4,447.9L261.2,447.4L262.0,450.1L262.9,448.9L263.7,448.4L264.5,448.9L265.3,458.5L266.2,449.0L267.0,450.5L267.8,454.4L268.6,456.3L269.4,450.9L270.3,453.8L271.1,453.9L271.9,449.0L272.7,432.4L273.6,438.2L274.4,438.7L275.2,433.9L276.0,428.4L276.9,424.7L277.7,418.8L278.5,425.9L279.3,436.5L280.1,438.3L281.0,441.4L281.8,458.4L282.6,451.3L283.4,454.4L284.3,460.9L285.1,463.6L285.9,449.1L286.7,465.6L287.6,452.9L288.4,454.2L289.2,451.5L290.0,457.1L290.9,453.7L291.7,452.6L292.5,442.9L292.5,456.4L291.7,457.8L290.9,459.9L290.0,460.2L289.2,460.8L288.4,461.4L287.6,463.8L286.7,461.9L285.9,463.5L285.1,462.7L284.3,463.3L283.4,464.0L282.6,460.7L281.8,461.9L281.0,459.0L280.1,455.0L279.3,451.3L278.5,445.5L277.7,440.1L276.9,440.3L276.0,449.8L275.2,453.1L274.4,456.6L273.6,456.3L272.7,457.1L271.9,457.7L271.1,459.1L270.3,459.6L269.4,458.9L268.6,460.9L267.8,460.4L267.0,460.7L266.2,458.2L265.3,457.8L264.5,457.3L263.7,456.4L262.9,456.9L262.0,457.5L261.2,455.0L260.4,454.3L259.6,455.1L258.7,458.5L257.9,455.1L257.1,452.9L256.3,452.7L255.4,451.9L254.6,451.2L253.8,452.7L253.0,450.2L252.2,449.5L251.3,449.1L250.5,450.1L249.7,449.2L248.9,447.7L248.0,448.8L247.2,448.9L246.4,445.9L245.6,444.2L244.7,449.9L243.9,447.6L243.1,443.9L242.3,440.8L241.5,439.4L240.6,435.8L239.8,432.0L239.0,431.3L238.2,428.5L237.3,427.9L236.5,428.8L235.7,426.5L234.9,424.4L234.0,426.7L233.2,423.9L232.4,424.7L231.6,424.9L230.8,424.7L229.9,424.2L229.1,425.5L228.3,422.1L227.5,420.7L226.6,417.6L225.8,420.3L225.0,420.5L224.2,423.2L223.3,426.1L222.5,429.9L221.7,433.3L220.9,435.7L220.0,437.7L219.2,440.0L218.4,442.3L217.6,438.9L216.8,439.3L215.9,438.8L215.1,440.0L214.3,439.1L213.5,439.2L212.6,440.0L211.8,440.0L211.0,440.3L210.2,440.5L209.3,440.5L208.5,439.8L207.7,439.8L206.9,439.4L206.1,439.1L205.2,438.9L204.4,438.6L203.6,440.1L202.8,440.1L201.9,439.9L201.1,439.9L200.3,441.8L199.5,440.9L198.6,437.8L197.8,437.8L197.0,438.6L196.2,436.0L195.3,435.1L194.5,437.0L193.7,435.3L192.9,433.5L192.1,436.6L191.2,432.3L190.4,432.0L189.6,431.0L188.8,433.2L187.9,431.0L187.1,430.4L186.3,429.6L185.5,430.1L184.6,428.4L183.8,428.5L183.0,429.0L182.2,428.3L181.3,427.0Z" fill="#ff6347" fill-opacity="0.2" stroke="#ff6347" stroke-opacity="0.2" stroke-width="0.8"/><path d="M181.3,395.8L182.2,400.2L183.0,397.9L183.8,407.2L184.6,406.1L185.5,402.8L186.3,398.7L187.1,404.1L187.9,401.3L188.8,399.1L189.6,399.3L190.4,404.4L191.2,406.2L192.1,407.1L192.9,408.5L193.7,406.6L194.5,414.4L195.3,411.6L196.2,411.6L197.0,398.6L197.8,412.1L198.6,415.9L199.5,410.9L200.3,416.1L201.1,407.1L201.9,398.0L202.8,411.4L203.6,407.8L204.4,409.6L205.2,377.7L206.1,409.0L206.9,410.4L207.7,404.9L208.5,409.4L209.3,411.6L210.2,410.0L211.0,419.0L211.8,415.9L212.6,408.3L213.5,414.2L214.3,414.6L215.1,408.5L215.9,405.1L216.8,412.4L217.6,415.7L218.4,414.5L219.2,414.1L220.0,398.2L220.9,411.9L221.7,401.1L222.5,395.8L223.3,343.4L224.2,395.4L225.0,391.1L225.8,377.0L226.6,385.5L227.5,385.5L228.3,400.1L229.1,398.2L229.9,403.2L230.8,398.6L231.6,401.2L232.4,395.6L233.2,398.1L234.0,390.9L234.9,397.8L235.7,399.8L236.5,401.2L237.3,404.3L238.2,402.8L239.0,401.0L239.8,410.6L240.6,407.1L241.5,411.2L242.3,417.7L243.1,420.5L243.9,412.5L244.7,418.6L245.6,441.1L246.4,437.4L247.2,448.4L248.0,439.6L248.9,447.2L249.7,441.8L250.5,441.9L251.3,451.3L252.2,439.8L253.0,440.4L253.8,442.7L254.6,443.2L255.4,446.4L256.3,442.8L257.1,445.5L257.9,447.1L258.7,450.1L259.6,449.9L260.4,449.2L261.2,444.7L262.0,447.3L262.9,455.2L263.7,446.3L264.5,446.5L265.3,451.2L266.2,448.5L267.0,456.7L267.8,456.9L268.6,457.6L269.4,450.7L270.3,452.2L271.1,462.1L271.9,453.4L272.7,446.0L273.6,435.6L274.4,434.3L275.2,426.6L276.0,425.3L276.9,419.2L277.7,414.2L278.5,418.4L279.3,432.6L280.1,431.3L281.0,431.4L281.8,451.4L282.6,459.9L283.4,453.1L284.3,456.0L285.1,456.9L285.9,452.1L286.7,454.5L287.6,458.6L288.4,462.4L289.2,451.3L290.0,454.0L290.9,451.3L291.7,455.7L292.5,453.6L292.5,454.8L291.7,457.7L290.9,458.8L290.0,459.2L289.2,460.5L288.4,461.6L287.6,464.3L286.7,463.2L285.9,462.3L285.1,463.5L284.3,462.4L283.4,462.2L282.6,463.1L281.8,462.5L281.0,459.4L280.1,457.6L279.3,454.3L278.5,445.0L277.7,437.3L276.9,438.7L276.0,444.6L275.2,453.4L274.4,453.2L273.6,457.6L272.7,458.7L271.9,460.3L271.1,461.1L270.3,460.6L269.4,460.0L268.6,461.5L267.8,460.1L267.0,459.3L266.2,458.3L265.3,458.3L264.5,458.0L263.7,457.5L262.9,460.1L262.0,459.2L261.2,456.2L260.4,454.7L259.6,454.8L258.7,454.7L257.9,454.5L257.1,452.8L256.3,451.7L255.4,453.0L254.6,451.5L253.8,451.5L253.0,452.1L252.2,450.1L251.3,451.1L250.5,450.8L249.7,450.4L248.9,448.8L248.0,451.9L247.2,446.9L246.4,447.5L245.6,448.1L244.7,446.2L243.9,442.8L243.1,439.0L242.3,436.7L241.5,434.8L240.6,430.4L239.8,429.2L239.0,428.1L238.2,426.4L237.3,422.8L236.5,422.2L235.7,420.2L234.9,418.5L234.0,418.6L233.2,418.8L232.4,419.7L231.6,420.7L230.8,422.1L229.9,421.3L229.1,419.5L228.3,417.0L227.5,411.9L226.6,407.8L225.8,410.9L225.0,412.1L224.2,414.0L223.3,418.2L222.5,420.8L221.7,423.1L220.9,432.2L220.0,432.4L219.2,434.5L218.4,435.4L217.6,435.7L216.8,434.2L215.9,436.0L215.1,433.5L214.3,433.4L213.5,433.6L212.6,434.1L211.8,436.3L211.0,435.1L210.2,434.5L209.3,436.6L208.5,434.4L207.7,433.5L206.9,432.9L206.1,433.1L205.2,434.2L204.4,434.0L203.6,434.1L202.8,436.1L201.9,433.9L201.1,433.3L200.3,432.9L199.5,432.3L198.6,431.9L197.8,431.8L197.0,430.9L196.2,431.1L195.3,429.7L194.5,429.3L193.7,428.4L192.9,427.2L192.1,426.2L191.2,425.3L190.4,424.4L189.6,423.1L188.8,424.1L187.9,423.1L187.1,421.9L186.3,421.3L185.5,423.9L184.6,424.5L183.8,426.3L183.0,425.9L182.2,423.4L181.3,421.3Z" fill="#ffa500" fill-opacity="0.2" stroke="#ffa500" stroke-opacity="0.2" stroke-width="0.8"/><path d="M45.5,418.5L46.3,419.5L47.1,420.4L48.0,418.0L48.8,416.3L49.6,414.1L50.4,413.6L51.3,414.1L52.1,411.0L52.9,409.4L53.7,405.9L54.6,404.4L55.4,402.0L56.2,400.8L57.0,400.0L57.9,400.0L58.7,401.8L59.5,403.2L60.3,405.4L61.1,407.2L62.0,407.5L62.8,406.3L63.6,407.3L64.4,408.7L65.3,406.7L66.1,407.0L66.9,406.3L67.7,408.0L68.6,406.8L69.4,407.4L70.2,409.6L71.0,408.0L71.8,407.2L72.7,408.1L73.5,411.0L74.3,414.2L75.1,416.0L76.0,417.6L76.8,420.7L77.6,420.0L78.4,420.6L79.3,418.8L80.1,418.1L80.9,415.6L81.7,415.6L82.5,414.1L83.4,412.8L84.2,409.9L85.0,407.0L85.8,407.0L86.7,405.8L87.5,406.0L88.3,405.4L89.1,403.3L90.0,404.3L90.8,402.4L91.6,406.5L92.4,409.2L93.3,410.8L94.1,411.8L94.9,410.1L95.7,413.2L96.5,412.1L97.4,412.4L98.2,411.9L99.0,413.9L99.8,416.1L100.7,414.8L101.5,412.7L102.3,410.3L103.1,410.3L104.0,409.2L104.8,409.9L105.6,411.5L106.4,411.9L107.2,412.5L108.1,414.8L108.9,416.7L109.7,416.8L110.5,412.8L111.4,414.7L112.2,415.6L113.0,417.0L113.8,414.0L114.7,414.4L115.5,413.8L116.3,414.6L117.1,413.3L118.0,413.9L118.8,412.4L119.6,412.1L120.4,410.4L121.2,410.5L122.1,408.7L122.9,407.4L123.7,408.4L124.5,411.6L125.4,415.3L126.2,417.1L127.0,419.1L127.8,419.2L128.7,418.9L129.5,415.2L130.3,414.7L131.1,412.4L131.9,412.3L132.8,413.2L133.6,415.9L134.4,418.9L135.2,420.4L136.1,420.0L136.9,420.8L137.7,421.5L138.5,424.1L139.4,422.4L140.2,422.7L141.0,422.1L141.8,424.6L142.7,423.6L143.5,423.7L144.3,422.8L145.1,424.8L145.9,425.1L146.8,423.1L147.6,418.5L148.4,417.3L149.2,416.3L150.1,416.6L150.9,411.3L151.7,413.4L152.5,415.4L153.4,421.4L154.2,420.2L155.0,419.0L155.8,418.7L156.7,418.5L157.5,417.8L158.3,418.5L159.1,419.8L159.9,422.3L160.8,422.1L161.6,422.5L162.4,421.6L163.2,421.4L164.1,419.8L164.9,417.3L165.7,415.3L166.5,413.5L167.4,412.9L168.2,409.0L169.0,406.7L169.8,403.8L170.6,405.3L171.5,408.6L172.3,410.9L173.1,412.5L173.9,410.1L174.8,409.2L175.6,410.6L176.4,413.0L177.2,413.1L178.1,411.0L178.9,411.7L179.7,413.2L180.5,411.9" fill="none" stroke="#000" stroke-width="1.5" stroke-linejoin="round" stroke-linecap="butt"/><path d="M181.3,418.8L182.2,416.5L183.0,415.9L183.8,415.2L184.6,414.3L185.5,413.8L186.3,414.0L187.1,417.3L187.9,419.4L188.8,420.9L189.6,421.0L190.4,421.5L191.2,423.1L192.1,424.3L192.9,424.7L193.7,425.7L194.5,427.0L195.3,426.0L196.2,427.3L197.0,428.3L197.8,426.9L198.6,427.5L199.5,427.7L200.3,427.5L201.1,428.4L201.9,430.4L202.8,431.2L203.6,430.8L204.4,430.2L205.2,430.4L206.1,431.4L206.9,432.4L207.7,432.7L208.5,432.2L209.3,433.9L210.2,434.6L211.0,433.6L211.8,434.2L212.6,434.7L213.5,434.9L214.3,434.2L215.1,434.2L215.9,433.9L216.8,433.2L217.6,434.9L218.4,435.1L219.2,433.7L220.0,432.7L220.9,432.4L221.7,432.6L222.5,431.8L223.3,430.4L224.2,431.7L225.0,432.8L225.8,430.6L226.6,429.9L227.5,431.3L228.3,430.4L229.1,428.6L229.9,429.6L230.8,430.3L231.6,430.2L232.4,430.5L233.2,430.2L234.0,430.7L234.9,431.6L235.7,431.8L236.5,433.0L237.3,432.8L238.2,431.4L239.0,431.6L239.8,432.0L240.6,431.5L241.5,431.7L242.3,432.4L243.1,431.4L243.9,430.2L244.7,428.5L245.6,427.8L246.4,427.3L247.2,426.5L248.0,425.3L248.9,424.9L249.7,425.8L250.5,427.0L251.3,428.1L252.2,426.6L253.0,426.7L253.8,428.2L254.6,428.5L255.4,429.1L256.3,430.4L257.1,431.7L257.9,433.6L258.7,434.3L259.6,434.0L260.4,434.6L261.2,434.6L262.0,434.5L262.9,434.0L263.7,431.4L264.5,431.0L265.3,431.5L266.2,429.4L267.0,428.3L267.8,428.9L268.6,429.3L269.4,429.8L270.3,430.2L271.1,430.2L271.9,429.8L272.7,429.8L273.6,431.7L274.4,432.0L275.2,431.4L276.0,431.7L276.9,431.5L277.7,431.7L278.5,432.3L279.3,432.0L280.1,431.5L281.0,432.6L281.8,433.6L282.6,433.8L283.4,433.8L284.3,434.2L285.1,435.6L285.9,435.1L286.7,434.9L287.6,436.5L288.4,436.8L289.2,436.3L290.0,436.1L290.9,437.6L291.7,438.4L292.5,438.1" fill="none" stroke="#1e90ff" stroke-width="1.5" stroke-linejoin="round" stroke-linecap="butt"/><path d="M181.3,419.3L182.2,421.7L183.0,421.6L183.8,420.6L184.6,420.8L185.5,421.9L186.3,422.4L187.1,421.2L187.9,420.7L188.8,420.7L189.6,421.1L190.4,422.6L191.2,423.2L192.1,422.8L192.9,422.8L193.7,422.9L194.5,423.3L195.3,423.4L196.2,423.6L197.0,425.1L197.8,425.5L198.6,425.2L199.5,426.5L200.3,427.1L201.1,427.3L201.9,427.5L202.8,428.8L203.6,430.3L204.4,428.9L205.2,428.1L206.1,428.0L206.9,427.0L207.7,427.7L208.5,427.5L209.3,428.3L210.2,429.3L211.0,429.4L211.8,429.4L212.6,428.0L213.5,428.0L214.3,428.5L215.1,429.2L215.9,429.2L216.8,429.1L217.6,429.2L218.4,429.1L219.2,428.7L220.0,427.4L220.9,426.6L221.7,424.9L222.5,422.6L223.3,420.3L224.2,417.4L225.0,414.2L225.8,411.3L226.6,411.9L227.5,415.8L228.3,417.8L229.1,416.3L229.9,415.4L230.8,414.6L231.6,413.2L232.4,414.2L233.2,415.5L234.0,416.4L234.9,416.4L235.7,417.5L236.5,418.4L237.3,418.8L238.2,419.5L239.0,420.7L239.8,423.1L240.6,422.9L241.5,422.8L242.3,422.3L243.1,421.6L243.9,423.6L244.7,426.1L245.6,428.6L246.4,430.7L247.2,430.6L248.0,430.3L248.9,431.2L249.7,430.6L250.5,430.3L251.3,430.3L252.2,431.7L253.0,432.2L253.8,431.2L254.6,431.3L255.4,431.5L256.3,433.1L257.1,433.8L257.9,433.6L258.7,434.5L259.6,435.4L260.4,435.5L261.2,434.3L262.0,433.9L262.9,435.9L263.7,438.3L264.5,438.6L265.3,437.5L266.2,437.8L267.0,437.8L267.8,438.4L268.6,439.5L269.4,439.5L270.3,439.1L271.1,439.3L271.9,439.5L272.7,439.5L273.6,440.3L274.4,440.4L275.2,440.5L276.0,441.2L276.9,441.5L277.7,441.5L278.5,440.2L279.3,440.0L280.1,440.8L281.0,440.9L281.8,441.2L282.6,441.9L283.4,442.8L284.3,442.0L285.1,440.4L285.9,440.1L286.7,441.7L287.6,442.7L288.4,441.5L289.2,441.4L290.0,441.5L290.9,440.9L291.7,442.3L292.5,442.6" fill="none" stroke="#ff00ff" stroke-width="1.5" stroke-linejoin="round" stroke-linecap="butt"/><path d="M181.3,415.7L182.2,415.9L183.0,417.7L183.8,418.4L184.6,419.6L185.5,419.3L186.3,418.2L187.1,418.5L187.9,419.8L188.8,420.7L189.6,420.3L190.4,421.5L191.2,422.9L192.1,423.1L192.9,423.7L193.7,424.1L194.5,425.1L195.3,426.4L196.2,426.5L197.0,425.2L197.8,425.7L198.6,427.5L199.5,428.4L200.3,428.1L201.1,427.5L201.9,426.8L202.8,427.3L203.6,427.6L204.4,428.0L205.2,428.8L206.1,427.8L206.9,428.4L207.7,430.0L208.5,429.6L209.3,428.3L210.2,427.6L211.0,427.2L211.8,426.8L212.6,428.1L213.5,428.2L214.3,427.3L215.1,427.8L215.9,429.3L216.8,429.5L217.6,428.3L218.4,428.5L219.2,426.9L220.0,426.3L220.9,425.5L221.7,421.9L222.5,418.5L223.3,415.9L224.2,413.5L225.0,410.4L225.8,408.2L226.6,406.7L227.5,407.6L228.3,411.7L229.1,412.9L229.9,413.2L230.8,413.8L231.6,413.6L232.4,413.0L233.2,412.7L234.0,414.3L234.9,415.2L235.7,415.7L236.5,417.0L237.3,417.7L238.2,417.4L239.0,418.3L239.8,420.8L240.6,423.9L241.5,427.9L242.3,430.2L243.1,432.5L243.9,435.7L244.7,437.8L245.6,440.2L246.4,441.1L247.2,442.6L248.0,443.8L248.9,444.5L249.7,445.6L250.5,447.3L251.3,447.7L252.2,446.9L253.0,447.1L253.8,448.1L254.6,449.4L255.4,449.2L256.3,449.1L257.1,449.5L257.9,450.5L258.7,452.2L259.6,451.8L260.4,451.2L261.2,451.8L262.0,452.1L262.9,452.6L263.7,453.4L264.5,454.6L265.3,454.9L266.2,454.9L267.0,455.7L267.8,456.8L268.6,457.1L269.4,456.0L270.3,455.2L271.1,456.0L271.9,455.4L272.7,454.2L273.6,453.3L274.4,451.6L275.2,450.4L276.0,442.2L276.9,434.7L277.7,437.8L278.5,442.6L279.3,447.6L280.1,451.8L281.0,455.4L281.8,456.1L282.6,457.9L283.4,458.7L284.3,457.4L285.1,459.0L285.9,460.9L286.7,460.5L287.6,460.2L288.4,458.8L289.2,457.1L290.0,457.0L290.9,456.3L291.7,453.3L292.5,451.7" fill="none" stroke="#ff6347" stroke-width="1.5" stroke-linejoin="round" stroke-linecap="butt"/><path d="M181.3,418.1L182.2,419.2L183.0,418.5L183.8,420.7L184.6,419.7L185.5,417.0L186.3,418.2L187.1,417.6L187.9,416.7L188.8,416.7L189.6,417.5L190.4,419.9L191.2,420.6L192.1,420.2L192.9,421.2L193.7,423.3L194.5,424.5L195.3,425.3L196.2,426.6L197.0,427.2L197.8,426.9L198.6,427.4L199.5,427.4L200.3,427.8L201.1,428.3L201.9,428.9L202.8,430.3L203.6,429.1L204.4,427.9L205.2,428.7L206.1,428.4L206.9,426.6L207.7,426.8L208.5,427.7L209.3,428.6L210.2,429.5L211.0,429.5L211.8,428.2L212.6,427.3L213.5,428.9L214.3,430.1L215.1,427.9L215.9,426.7L216.8,428.3L217.6,429.3L218.4,429.7L219.2,430.0L220.0,428.3L220.9,424.2L221.7,419.6L222.5,415.7L223.3,411.5L224.2,407.9L225.0,407.3L225.8,405.8L226.6,403.2L227.5,405.1L228.3,410.6L229.1,412.9L229.9,414.4L230.8,416.1L231.6,415.3L232.4,413.7L233.2,414.1L234.0,414.5L234.9,414.5L235.7,415.8L236.5,417.2L237.3,417.6L238.2,419.0L239.0,421.4L239.8,423.7L240.6,426.3L241.5,429.7L242.3,431.5L243.1,433.9L243.9,437.7L244.7,440.2L245.6,441.8L246.4,444.0L247.2,445.1L248.0,444.7L248.9,445.8L249.7,447.1L250.5,446.8L251.3,445.8L252.2,446.5L253.0,447.5L253.8,448.9L254.6,449.5L255.4,448.7L256.3,448.6L257.1,448.9L257.9,449.3L258.7,449.9L259.6,449.9L260.4,450.5L261.2,452.5L262.0,453.3L262.9,453.1L263.7,452.9L264.5,453.1L265.3,453.8L266.2,454.7L267.0,455.5L267.8,456.0L268.6,457.1L269.4,456.9L270.3,456.4L271.1,455.9L271.9,456.6L272.7,457.0L273.6,452.9L274.4,449.0L275.2,446.2L276.0,440.4L276.9,434.0L277.7,433.3L278.5,442.3L279.3,449.6L280.1,452.8L281.0,456.3L281.8,458.0L282.6,458.4L283.4,458.6L284.3,459.4L285.1,459.3L285.9,460.0L286.7,460.6L287.6,460.9L288.4,459.1L289.2,456.5L290.0,456.6L290.9,455.9L291.7,454.1L292.5,452.1" fill="none" stroke="#ffa500" stroke-width="2.0" stroke-linejoin="round" stroke-linecap="butt"/></g>
<clipPath id="clipd"><rect x="45.5" y="483.5" width="247.0" height="155.0"/></clipPath><g clip-path="url(#clipd)"><path d="M45.5,614.5L46.3,613.7L47.1,614.2L48.0,612.8L48.8,616.4L49.6,607.3L50.4,587.4L51.3,610.4L52.1,595.3L52.9,613.9L53.7,614.5L54.6,589.3L55.4,598.4L56.2,604.0L57.0,614.6L57.9,609.2L58.7,611.8L59.5,572.2L60.3,604.6L61.1,616.6L62.0,598.7L62.8,610.4L63.6,578.0L64.4,615.5L65.3,616.4L66.1,593.9L66.9,597.1L67.7,592.0L68.6,607.0L69.4,600.8L70.2,609.7L71.0,605.3L71.8,605.0L72.7,568.7L73.5,608.2L74.3,614.5L75.1,607.1L76.0,609.8L76.8,572.2L77.6,607.9L78.4,613.2L79.3,605.5L80.1,594.4L80.9,609.0L81.7,617.0L82.5,616.3L83.4,608.4L84.2,608.1L85.0,602.2L85.8,592.0L86.7,615.6L87.5,605.6L88.3,608.0L89.1,592.0L90.0,613.5L90.8,607.8L91.6,615.7L92.4,610.7L93.3,612.3L94.1,612.1L94.9,593.2L95.7,612.6L96.5,611.8L97.4,616.3L98.2,607.1L99.0,616.9L99.8,615.4L100.7,611.0L101.5,577.4L102.3,617.3L103.1,597.3L104.0,609.4L104.8,609.8L105.6,613.2L106.4,613.0L107.2,605.4L108.1,609.2L108.9,608.7L109.7,611.1L110.5,612.7L111.4,613.6L112.2,617.8L113.0,607.2L113.8,608.2L114.7,614.6L115.5,594.4L116.3,599.8L117.1,613.1L118.0,616.1L118.8,613.1L119.6,614.6L120.4,613.4L121.2,587.4L122.1,614.6L122.9,616.5L123.7,616.8L124.5,616.0L125.4,612.9L126.2,616.5L127.0,616.1L127.8,612.6L128.7,617.8L129.5,608.9L130.3,607.8L131.1,610.1L131.9,613.5L132.8,608.3L133.6,617.9L134.4,616.4L135.2,610.4L136.1,593.7L136.9,613.0L137.7,618.3L138.5,612.8L139.4,612.5L140.2,615.6L141.0,618.0L141.8,617.3L142.7,616.6L143.5,611.5L144.3,609.1L145.1,614.4L145.9,607.8L146.8,617.4L147.6,615.9L148.4,614.2L149.2,605.4L150.1,616.0L150.9,615.6L151.7,613.7L152.5,618.2L153.4,615.0L154.2,612.8L155.0,609.6L155.8,616.4L156.7,613.1L157.5,608.8L158.3,605.4L159.1,611.7L159.9,615.5L160.8,618.5L161.6,618.3L162.4,616.8L163.2,618.0L164.1,610.4L164.9,618.6L165.7,615.7L166.5,613.5L167.4,612.2L168.2,612.1L169.0,609.9L169.8,605.4L170.6,615.5L171.5,618.2L172.3,610.1L173.1,617.0L173.9,615.2L174.8,615.4L175.6,615.7L176.4,612.0L177.2,610.4L178.1,613.8L178.9,617.5L179.7,618.8L180.5,617.8L180.5,630.5L179.7,630.2L178.9,630.5L178.1,630.0L177.2,630.5L176.4,630.5L175.6,630.5L174.8,630.2L173.9,630.5L173.1,630.5L172.3,630.5L171.5,630.2L170.6,630.3L169.8,630.5L169.0,630.5L168.2,630.5L167.4,630.5L166.5,630.5L165.7,630.5L164.9,630.5L164.1,630.5L163.2,630.1L162.4,630.5L161.6,630.5L160.8,630.0L159.9,630.1L159.1,630.5L158.3,630.4L157.5,630.3L156.7,630.3L155.8,630.5L155.0,630.3L154.2,630.5L153.4,630.5L152.5,630.5L151.7,630.5L150.9,630.0L150.1,630.0L149.2,629.8L148.4,630.5L147.6,629.7L146.8,630.1L145.9,629.8L145.1,630.5L144.3,630.5L143.5,630.5L142.7,630.5L141.8,630.1L141.0,630.5L140.2,630.5L139.4,630.5L138.5,629.9L137.7,630.5L136.9,629.7L136.1,629.7L135.2,629.8L134.4,630.4L133.6,630.3L132.8,629.5L131.9,630.3L131.1,629.9L130.3,630.5L129.5,630.0L128.7,630.0L127.8,630.4L127.0,630.5L126.2,629.4L125.4,630.1L124.5,630.5L123.7,629.8L122.9,629.4L122.1,630.5L121.2,629.2L120.4,629.7L119.6,630.0L118.8,630.0L118.0,629.9L117.1,629.2L116.3,629.6L115.5,630.1L114.7,630.5L113.8,629.3L113.0,630.5L112.2,630.5L111.4,629.3L110.5,629.2L109.7,630.2L108.9,629.0L108.1,630.0L107.2,630.2L106.4,628.9L105.6,629.9L104.8,629.4L104.0,630.5L103.1,630.1L102.3,629.5L101.5,629.8L100.7,630.5L99.8,628.7L99.0,628.7L98.2,628.7L97.4,629.2L96.5,628.9L95.7,630.1L94.9,630.4L94.1,630.2L93.3,628.6L92.4,628.8L91.6,629.4L90.8,630.3L90.0,628.8L89.1,628.8L88.3,628.9L87.5,628.4L86.7,629.7L85.8,629.2L85.0,629.1L84.2,629.6L83.4,628.1L82.5,628.6L81.7,628.5L80.9,629.8L80.1,628.9L79.3,628.3L78.4,628.1L77.6,629.8L76.8,628.5L76.0,629.7L75.1,629.6L74.3,628.4L73.5,629.8L72.7,628.9L71.8,630.2L71.0,628.9L70.2,628.0L69.4,628.5L68.6,628.6L67.7,629.5L66.9,629.3L66.1,629.8L65.3,628.2L64.4,628.3L63.6,628.7L62.8,628.2L62.0,627.8L61.1,629.1L60.3,630.4L59.5,628.0L58.7,627.9L57.9,627.8L57.0,628.4L56.2,628.5L55.4,628.9L54.6,628.2L53.7,628.9L52.9,628.5L52.1,628.9L51.3,629.4L50.4,627.7L49.6,629.8L48.8,629.3L48.0,629.6L47.1,627.7L46.3,629.5L45.5,627.7Z" fill="#808080" fill-opacity="0.3" stroke="#808080" stroke-opacity="0.3" stroke-width="0.8"/><path d="M181.3,612.1L182.2,613.7L183.0,611.8L183.8,613.8L184.6,611.9L185.5,613.7L186.3,609.0L187.1,615.0L187.9,610.0L188.8,609.7L189.6,613.2L190.4,612.0L191.2,611.3L192.1,612.6L192.9,609.1L193.7,611.5L194.5,615.1L195.3,613.4L196.2,611.7L197.0,612.1L197.8,615.1L198.6,614.4L199.5,611.3L200.3,613.3L201.1,612.9L201.9,609.8L202.8,614.6L203.6,610.0L204.4,612.2L205.2,613.3L206.1,612.2L206.9,612.3L207.7,612.1L208.5,612.6L209.3,613.2L210.2,613.4L211.0,631.1L211.8,631.1L212.6,631.1L213.5,631.1L214.3,631.1L215.1,631.1L215.9,631.1L216.8,631.1L217.6,631.1L218.4,631.1L219.2,631.1L220.0,631.1L220.9,631.1L221.7,631.1L222.5,631.1L223.3,631.1L224.2,631.1L225.0,631.1L225.8,631.1L226.6,631.1L227.5,631.1L228.3,631.1L229.1,631.1L229.9,631.1L230.8,631.1L231.6,631.1L232.4,631.1L233.2,631.1L234.0,631.1L234.9,631.1L235.7,631.1L236.5,631.1L237.3,631.1L238.2,631.1L239.0,631.1L239.8,631.1L240.6,631.1L241.5,631.1L242.3,631.1L243.1,631.1L243.9,631.1L244.7,631.1L245.6,631.1L246.4,631.1L247.2,631.1L248.0,631.1L248.9,631.1L249.7,631.1L250.5,631.1L251.3,631.1L252.2,631.1L253.0,631.1L253.8,631.1L254.6,631.1L255.4,631.1L256.3,631.1L257.1,631.1L257.9,631.1L258.7,631.1L259.6,631.1L260.4,631.1L261.2,631.1L262.0,499.3L262.9,497.8L263.7,497.5L264.5,506.4L265.3,524.0L266.2,539.8L267.0,557.2L267.8,565.8L268.6,563.1L269.4,557.4L270.3,552.4L271.1,549.1L271.9,546.3L272.7,543.6L273.6,541.0L274.4,538.4L275.2,536.0L276.0,631.1L276.9,631.1L277.7,631.1L278.5,631.1L279.3,631.1L280.1,631.1L281.0,631.1L281.8,631.1L282.6,631.1L283.4,631.1L284.3,631.1L285.1,631.1L285.9,631.1L286.7,631.1L287.6,631.1L288.4,631.1L289.2,631.1L290.0,631.1L290.9,479.5L291.7,479.5L292.5,479.5L292.5,631.1L291.7,631.1L290.9,631.1L290.0,631.1L289.2,631.1L288.4,631.1L287.6,631.1L286.7,631.1L285.9,631.1L285.1,631.1L284.3,631.1L283.4,631.1L282.6,631.1L281.8,631.1L281.0,631.1L280.1,631.1L279.3,631.1L278.5,631.1L277.7,631.1L276.9,631.1L276.0,631.1L275.2,631.1L274.4,631.1L273.6,631.1L272.7,631.1L271.9,631.1L271.1,631.1L270.3,631.1L269.4,631.1L268.6,631.1L267.8,631.1L267.0,631.1L266.2,631.1L265.3,631.1L264.5,631.1L263.7,631.1L262.9,631.1L262.0,631.1L261.2,631.1L260.4,631.1L259.6,631.1L258.7,631.1L257.9,631.1L257.1,631.1L256.3,631.1L255.4,631.1L254.6,631.1L253.8,631.1L253.0,631.1L252.2,631.1L251.3,631.1L250.5,631.1L249.7,631.1L248.9,631.1L248.0,631.1L247.2,631.1L246.4,631.1L245.6,631.1L244.7,631.1L243.9,631.1L243.1,631.1L242.3,631.1L241.5,631.1L240.6,631.1L239.8,631.1L239.0,631.1L238.2,631.1L237.3,631.1L236.5,631.1L235.7,631.1L234.9,631.1L234.0,631.1L233.2,631.1L232.4,631.1L231.6,631.1L230.8,631.1L229.9,631.1L229.1,631.1L228.3,631.1L227.5,631.1L226.6,631.1L225.8,631.1L225.0,631.1L224.2,631.1L223.3,631.1L222.5,631.1L221.7,631.1L220.9,631.1L220.0,631.1L219.2,631.1L218.4,631.1L217.6,631.1L216.8,631.1L215.9,631.1L215.1,631.1L214.3,631.1L213.5,631.1L212.6,631.1L211.8,631.1L211.0,631.1L210.2,631.1L209.3,631.1L208.5,631.1L207.7,631.1L206.9,631.1L206.1,631.1L205.2,631.1L204.4,631.1L203.6,631.1L202.8,631.1L201.9,631.1L201.1,631.1L200.3,631.1L199.5,631.1L198.6,631.1L197.8,631.1L197.0,631.1L196.2,631.1L195.3,631.1L194.5,631.1L193.7,631.1L192.9,631.1L192.1,631.1L191.2,631.1L190.4,631.1L189.6,631.1L188.8,631.1L187.9,631.1L187.1,631.1L186.3,631.1L185.5,631.1L184.6,631.1L183.8,631.1L183.0,631.1L182.2,631.1L181.3,631.1Z" fill="#1e90ff" fill-opacity="0.2" stroke="#1e90ff" stroke-opacity="0.2" stroke-width="0.8"/><path d="M181.3,610.6L182.2,613.4L183.0,611.3L183.8,609.8L184.6,611.1L185.5,612.8L186.3,613.8L187.1,611.5L187.9,611.8L188.8,612.6L189.6,610.5L190.4,612.7L191.2,610.5L192.1,613.0L192.9,614.0L193.7,611.0L194.5,614.6L195.3,615.0L196.2,612.8L197.0,609.3L197.8,611.7L198.6,611.5L199.5,612.2L200.3,610.2L201.1,614.4L201.9,609.7L202.8,612.3L203.6,614.0L204.4,612.4L205.2,612.0L206.1,613.5L206.9,613.0L207.7,613.6L208.5,631.1L209.3,631.1L210.2,631.1L211.0,631.1L211.8,631.1L212.6,631.1L213.5,631.1L214.3,631.1L215.1,631.1L215.9,631.1L216.8,631.1L217.6,631.1L218.4,631.1L219.2,631.1L220.0,631.1L220.9,631.1L221.7,631.1L222.5,631.1L223.3,631.1L224.2,631.1L225.0,631.1L225.8,614.2L226.6,621.5L227.5,620.8L228.3,619.0L229.1,617.1L229.9,620.5L230.8,579.7L231.6,581.3L232.4,567.0L233.2,569.7L234.0,591.7L234.9,532.4L235.7,503.2L236.5,504.5L237.3,493.0L238.2,528.3L239.0,494.4L239.8,513.6L240.6,524.7L241.5,511.0L242.3,515.5L243.1,512.1L243.9,538.3L244.7,528.4L245.6,519.8L246.4,531.3L247.2,512.4L248.0,492.3L248.9,600.9L249.7,606.4L250.5,606.2L251.3,605.6L252.2,596.3L253.0,626.5L253.8,625.1L254.6,625.2L255.4,624.4L256.3,626.1L257.1,625.7L257.9,627.0L258.7,626.3L259.6,625.1L260.4,626.7L261.2,625.5L262.0,625.5L262.9,626.3L263.7,626.4L264.5,627.3L265.3,624.8L266.2,626.1L267.0,625.4L267.8,625.3L268.6,625.8L269.4,625.6L270.3,626.1L271.1,624.8L271.9,626.8L272.7,625.3L273.6,625.6L274.4,624.3L275.2,625.9L276.0,627.2L276.9,627.5L277.7,625.3L278.5,625.5L279.3,626.2L280.1,625.9L281.0,624.7L281.8,626.5L282.6,626.7L283.4,624.4L284.3,625.7L285.1,626.7L285.9,626.7L286.7,626.6L287.6,625.1L288.4,626.1L289.2,624.8L290.0,625.8L290.9,625.9L291.7,624.5L292.5,626.6L292.5,631.1L291.7,631.1L290.9,631.1L290.0,631.1L289.2,631.1L288.4,631.1L287.6,631.1L286.7,631.1L285.9,631.1L285.1,631.1L284.3,631.1L283.4,631.1L282.6,631.1L281.8,631.1L281.0,631.1L280.1,631.1L279.3,631.1L278.5,631.1L277.7,631.1L276.9,631.1L276.0,631.1L275.2,631.1L274.4,631.1L273.6,631.1L272.7,631.1L271.9,631.1L271.1,631.1L270.3,631.1L269.4,631.1L268.6,631.1L267.8,631.1L267.0,631.1L266.2,631.1L265.3,631.1L264.5,631.1L263.7,631.1L262.9,631.1L262.0,631.1L261.2,631.1L260.4,631.1L259.6,631.1L258.7,631.1L257.9,631.1L257.1,631.1L256.3,631.1L255.4,631.1L254.6,631.1L253.8,631.1L253.0,631.1L252.2,631.1L251.3,631.1L250.5,631.1L249.7,631.1L248.9,631.1L248.0,631.1L247.2,631.1L246.4,631.1L245.6,631.1L244.7,631.1L243.9,631.1L243.1,631.1L242.3,631.1L241.5,631.1L240.6,631.1L239.8,631.1L239.0,631.1L238.2,631.1L237.3,631.1L236.5,631.1L235.7,631.1L234.9,631.1L234.0,631.1L233.2,631.1L232.4,631.1L231.6,631.1L230.8,631.1L229.9,631.1L229.1,631.1L228.3,631.1L227.5,631.1L226.6,631.1L225.8,631.1L225.0,631.1L224.2,631.1L223.3,631.1L222.5,631.1L221.7,631.1L220.9,631.1L220.0,631.1L219.2,631.1L218.4,631.1L217.6,631.1L216.8,631.1L215.9,631.1L215.1,631.1L214.3,631.1L213.5,631.1L212.6,631.1L211.8,631.1L211.0,631.1L210.2,631.1L209.3,631.1L208.5,631.1L207.7,631.1L206.9,631.1L206.1,631.1L205.2,631.1L204.4,631.1L203.6,631.1L202.8,631.1L201.9,631.1L201.1,631.1L200.3,631.1L199.5,631.1L198.6,631.1L197.8,631.1L197.0,631.1L196.2,631.1L195.3,631.1L194.5,631.1L193.7,631.1L192.9,631.1L192.1,631.1L191.2,631.1L190.4,631.1L189.6,631.1L188.8,631.1L187.9,631.1L187.1,631.1L186.3,631.1L185.5,631.1L184.6,631.1L183.8,631.1L183.0,631.1L182.2,631.1L181.3,631.1Z" fill="#ff00ff" fill-opacity="0.2" stroke="#ff00ff" stroke-opacity="0.2" stroke-width="0.8"/><path d="M181.3,609.7L182.2,614.6L183.0,609.6L183.8,612.8L184.6,614.6L185.5,614.5L186.3,613.7L187.1,609.5L187.9,609.2L188.8,614.9L189.6,614.3L190.4,613.1L191.2,610.9L192.1,612.4L192.9,612.5L193.7,614.6L194.5,614.6L195.3,612.5L196.2,609.3L197.0,611.8L197.8,612.5L198.6,613.7L199.5,611.0L200.3,614.4L201.1,612.2L201.9,611.0L202.8,611.5L203.6,610.6L204.4,631.1L205.2,631.1L206.1,631.1L206.9,631.1L207.7,631.1L208.5,631.1L209.3,631.1L210.2,631.1L211.0,631.1L211.8,631.1L212.6,631.1L213.5,631.1L214.3,631.1L215.1,631.1L215.9,631.1L216.8,631.1L217.6,631.1L218.4,631.1L219.2,631.1L220.0,631.1L220.9,631.1L221.7,631.1L222.5,631.1L223.3,631.1L224.2,631.1L225.0,631.1L225.8,631.1L226.6,631.1L227.5,631.1L228.3,631.1L229.1,631.1L229.9,511.2L230.8,531.4L231.6,529.1L232.4,514.8L233.2,526.1L234.0,502.6L234.9,501.1L235.7,524.6L236.5,510.9L237.3,531.2L238.2,523.7L239.0,504.0L239.8,503.7L240.6,532.5L241.5,508.6L242.3,508.7L243.1,502.8L243.9,536.1L244.7,530.9L245.6,506.4L246.4,614.2L247.2,613.5L248.0,608.9L248.9,609.9L249.7,617.5L250.5,613.9L251.3,612.0L252.2,631.1L253.0,631.1L253.8,631.1L254.6,631.1L255.4,631.1L256.3,631.1L257.1,631.1L257.9,631.1L258.7,631.1L259.6,631.1L260.4,631.1L261.2,631.1L262.0,631.1L262.9,631.1L263.7,631.1L264.5,631.1L265.3,631.1L266.2,631.1L267.0,631.1L267.8,631.1L268.6,631.1L269.4,631.1L270.3,631.1L271.1,631.1L271.9,631.1L272.7,631.1L273.6,631.1L274.4,631.1L275.2,631.1L276.0,631.1L276.9,631.1L277.7,631.1L278.5,631.1L279.3,631.1L280.1,631.1L281.0,631.1L281.8,631.1L282.6,631.1L283.4,631.1L284.3,631.1L285.1,631.1L285.9,631.1L286.7,631.1L287.6,631.1L288.4,631.1L289.2,631.1L290.0,631.1L290.9,631.1L291.7,631.1L292.5,631.1L292.5,631.1L291.7,631.1L290.9,631.1L290.0,631.1L289.2,631.1L288.4,631.1L287.6,631.1L286.7,631.1L285.9,631.1L285.1,631.1L284.3,631.1L283.4,631.1L282.6,631.1L281.8,631.1L281.0,631.1L280.1,631.1L279.3,631.1L278.5,631.1L277.7,631.1L276.9,631.1L276.0,631.1L275.2,631.1L274.4,631.1L273.6,631.1L272.7,631.1L271.9,631.1L271.1,631.1L270.3,631.1L269.4,631.1L268.6,631.1L267.8,631.1L267.0,631.1L266.2,631.1L265.3,631.1L264.5,631.1L263.7,631.1L262.9,631.1L262.0,631.1L261.2,631.1L260.4,631.1L259.6,631.1L258.7,631.1L257.9,631.1L257.1,631.1L256.3,631.1L255.4,631.1L254.6,631.1L253.8,631.1L253.0,631.1L252.2,631.1L251.3,631.1L250.5,631.1L249.7,631.1L248.9,631.1L248.0,631.1L247.2,631.1L246.4,631.1L245.6,631.1L244.7,631.1L243.9,631.1L243.1,631.1L242.3,631.1L241.5,631.1L240.6,631.1L239.8,631.1L239.0,631.1L238.2,631.1L237.3,631.1L236.5,631.1L235.7,631.1L234.9,631.1L234.0,631.1L233.2,631.1L232.4,631.1L231.6,631.1L230.8,631.1L229.9,631.1L229.1,631.1L228.3,631.1L227.5,631.1L226.6,631.1L225.8,631.1L225.0,631.1L224.2,631.1L223.3,631.1L222.5,631.1L221.7,631.1L220.9,631.1L220.0,631.1L219.2,631.1L218.4,631.1L217.6,631.1L216.8,631.1L215.9,631.1L215.1,631.1L214.3,631.1L213.5,631.1L212.6,631.1L211.8,631.1L211.0,631.1L210.2,631.1L209.3,631.1L208.5,631.1L207.7,631.1L206.9,631.1L206.1,631.1L205.2,631.1L204.4,631.1L203.6,631.1L202.8,631.1L201.9,631.1L201.1,631.1L200.3,631.1L199.5,631.1L198.6,631.1L197.8,631.1L197.0,631.1L196.2,631.1L195.3,631.1L194.5,631.1L193.7,631.1L192.9,631.1L192.1,631.1L191.2,631.1L190.4,631.1L189.6,631.1L188.8,631.1L187.9,631.1L187.1,631.1L186.3,631.1L185.5,631.1L184.6,631.1L183.8,631.1L183.0,631.1L182.2,631.1L181.3,631.1Z" fill="#ff6347" fill-opacity="0.2" stroke="#ff6347" stroke-opacity="0.2" stroke-width="0.8"/><path d="M181.3,615.1L182.2,609.1L183.0,613.0L183.8,612.3L184.6,609.9L185.5,609.8L186.3,610.7L187.1,615.1L187.9,610.8L188.8,612.0L189.6,614.3L190.4,609.6L191.2,609.0L192.1,609.5L192.9,612.5L193.7,612.4L194.5,613.3L195.3,611.0L196.2,614.7L197.0,612.9L197.8,612.7L198.6,610.9L199.5,612.7L200.3,611.3L201.1,610.7L201.9,614.5L202.8,615.0L203.6,612.9L204.4,631.1L205.2,631.1L206.1,631.1L206.9,631.1L207.7,631.1L208.5,631.1L209.3,631.1L210.2,631.1L211.0,631.1L211.8,631.1L212.6,631.1L213.5,631.1L214.3,631.1L215.1,631.1L215.9,614.8L216.8,613.5L217.6,612.9L218.4,612.7L219.2,613.0L220.0,614.9L220.9,614.3L221.7,614.4L222.5,612.5L223.3,612.7L224.2,612.6L225.0,614.8L225.8,614.6L226.6,613.1L227.5,612.5L228.3,614.8L229.1,614.6L229.9,631.1L230.8,513.3L231.6,512.1L232.4,524.7L233.2,498.9L234.0,518.9L234.9,525.0L235.7,517.7L236.5,512.6L237.3,503.1L238.2,527.7L239.0,496.6L239.8,509.2L240.6,621.6L241.5,619.0L242.3,619.9L243.1,622.2L243.9,621.0L244.7,620.3L245.6,613.7L246.4,617.5L247.2,617.6L248.0,613.7L248.9,615.3L249.7,619.4L250.5,614.0L251.3,620.1L252.2,617.5L253.0,615.4L253.8,631.1L254.6,631.1L255.4,631.1L256.3,631.1L257.1,631.1L257.9,631.1L258.7,631.1L259.6,631.1L260.4,631.1L261.2,631.1L262.0,631.1L262.9,631.1L263.7,631.1L264.5,631.1L265.3,631.1L266.2,631.1L267.0,631.1L267.8,631.1L268.6,631.1L269.4,631.1L270.3,631.1L271.1,631.1L271.9,631.1L272.7,631.1L273.6,631.1L274.4,631.1L275.2,631.1L276.0,631.1L276.9,631.1L277.7,631.1L278.5,631.1L279.3,631.1L280.1,631.1L281.0,631.1L281.8,631.1L282.6,631.1L283.4,631.1L284.3,631.1L285.1,631.1L285.9,631.1L286.7,631.1L287.6,631.1L288.4,631.1L289.2,631.1L290.0,631.1L290.9,631.1L291.7,631.1L292.5,631.1L292.5,631.1L291.7,631.1L290.9,631.1L290.0,631.1L289.2,631.1L288.4,631.1L287.6,631.1L286.7,631.1L285.9,631.1L285.1,631.1L284.3,631.1L283.4,631.1L282.6,631.1L281.8,631.1L281.0,631.1L280.1,631.1L279.3,631.1L278.5,631.1L277.7,631.1L276.9,631.1L276.0,631.1L275.2,631.1L274.4,631.1L273.6,631.1L272.7,631.1L271.9,631.1L271.1,631.1L270.3,631.1L269.4,631.1L268.6,631.1L267.8,631.1L267.0,631.1L266.2,631.1L265.3,631.1L264.5,631.1L263.7,631.1L262.9,631.1L262.0,631.1L261.2,631.1L260.4,631.1L259.6,631.1L258.7,631.1L257.9,631.1L257.1,631.1L256.3,631.1L255.4,631.1L254.6,631.1L253.8,631.1L253.0,631.1L252.2,631.1L251.3,631.1L250.5,631.1L249.7,631.1L248.9,631.1L248.0,631.1L247.2,631.1L246.4,631.1L245.6,631.1L244.7,631.1L243.9,631.1L243.1,631.1L242.3,631.1L241.5,631.1L240.6,631.1L239.8,631.1L239.0,631.1L238.2,631.1L237.3,631.1L236.5,631.1L235.7,631.1L234.9,631.1L234.0,631.1L233.2,631.1L232.4,631.1L231.6,631.1L230.8,631.1L229.9,631.1L229.1,631.1L228.3,631.1L227.5,631.1L226.6,631.1L225.8,631.1L225.0,631.1L224.2,631.1L223.3,631.1L222.5,631.1L221.7,631.1L220.9,631.1L220.0,631.1L219.2,631.1L218.4,631.1L217.6,631.1L216.8,631.1L215.9,631.1L215.1,631.1L214.3,631.1L213.5,631.1L212.6,631.1L211.8,631.1L211.0,631.1L210.2,631.1L209.3,631.1L208.5,631.1L207.7,631.1L206.9,631.1L206.1,631.1L205.2,631.1L204.4,631.1L203.6,631.1L202.8,631.1L201.9,631.1L201.1,631.1L200.3,631.1L199.5,631.1L198.6,631.1L197.8,631.1L197.0,631.1L196.2,631.1L195.3,631.1L194.5,631.1L193.7,631.1L192.9,631.1L192.1,631.1L191.2,631.1L190.4,631.1L189.6,631.1L188.8,631.1L187.9,631.1L187.1,631.1L186.3,631.1L185.5,631.1L184.6,631.1L183.8,631.1L183.0,631.1L182.2,631.1L181.3,631.1Z" fill="#ffa500" fill-opacity="0.2" stroke="#ffa500" stroke-opacity="0.2" stroke-width="0.8"/><path d="M45.5,622.2L46.3,621.8L47.1,620.5L48.0,621.0L48.8,621.4L49.6,623.0L50.4,624.1L51.3,621.8L52.1,623.2L52.9,621.1L53.7,622.1L54.6,623.7L55.4,622.0L56.2,621.3L57.0,622.2L57.9,623.7L58.7,622.1L59.5,621.9L60.3,621.2L61.1,621.3L62.0,624.0L62.8,623.3L63.6,621.6L64.4,625.3L65.3,621.3L66.1,624.0L66.9,623.3L67.7,620.3L68.6,622.7L69.4,623.1L70.2,622.2L71.0,622.8L71.8,623.7L72.7,622.3L73.5,619.2L74.3,621.2L75.1,622.0L76.0,622.3L76.8,621.5L77.6,621.8L78.4,624.2L79.3,622.0L80.1,622.7L80.9,620.0L81.7,623.2L82.5,620.8L83.4,624.8L84.2,622.4L85.0,624.1L85.8,624.4L86.7,621.7L87.5,624.6L88.3,623.2L89.1,624.1L90.0,622.4L90.8,622.6L91.6,626.6L92.4,621.9L93.3,624.1L94.1,619.8L94.9,621.7L95.7,621.6L96.5,627.0L97.4,620.3L98.2,623.1L99.0,625.4L99.8,622.7L100.7,621.2L101.5,625.9L102.3,621.6L103.1,623.9L104.0,624.3L104.8,624.1L105.6,624.8L106.4,623.1L107.2,623.1L108.1,621.9L108.9,621.3L109.7,624.1L110.5,621.9L111.4,625.5L112.2,622.6L113.0,625.4L113.8,624.6L114.7,622.8L115.5,624.9L116.3,623.0L117.1,626.1L118.0,625.0L118.8,623.0L119.6,621.5L120.4,625.8L121.2,621.4L122.1,623.5L122.9,620.4L123.7,624.5L124.5,624.8L125.4,623.5L126.2,625.8L127.0,623.9L127.8,624.2L128.7,622.0L129.5,623.6L130.3,626.1L131.1,626.2L131.9,625.7L132.8,627.4L133.6,627.6L134.4,620.8L135.2,625.5L136.1,622.2L136.9,625.4L137.7,624.9L138.5,627.0L139.4,622.3L140.2,624.9L141.0,621.6L141.8,625.4L142.7,622.3L143.5,622.0L144.3,626.7L145.1,623.6L145.9,626.0L146.8,626.2L147.6,624.2L148.4,623.1L149.2,622.3L150.1,625.0L150.9,622.9L151.7,623.6L152.5,624.5L153.4,626.0L154.2,624.4L155.0,618.8L155.8,626.0L156.7,624.8L157.5,626.0L158.3,622.3L159.1,621.6L159.9,622.4L160.8,621.4L161.6,624.7L162.4,621.9L163.2,625.9L164.1,622.1L164.9,622.2L165.7,625.6L166.5,623.1L167.4,626.4L168.2,626.9L169.0,626.9L169.8,626.4L170.6,626.5L171.5,624.9L172.3,621.9L173.1,625.1L173.9,626.1L174.8,623.6L175.6,625.1L176.4,624.6L177.2,624.1L178.1,624.0L178.9,625.8L179.7,625.1L180.5,623.2" fill="none" stroke="#000" stroke-width="1.5" stroke-linejoin="round" stroke-linecap="butt"/><path d="M181.3,621.8L182.2,619.5L183.0,619.4L183.8,620.5L184.6,619.4L185.5,621.6L186.3,620.8L187.1,619.8L187.9,619.5L188.8,620.1L189.6,626.3L190.4,624.1L191.2,618.4L192.1,618.0L192.9,615.8L193.7,614.7L194.5,619.2L195.3,620.1L196.2,618.4L197.0,620.2L197.8,622.8L198.6,621.2L199.5,620.6L200.3,620.9L201.1,622.6L201.9,624.4L202.8,626.4L203.6,626.7L204.4,629.3L205.2,630.6L206.1,631.1L206.9,631.1L207.7,631.1L208.5,631.1L209.3,631.1L210.2,631.1L211.0,631.1L211.8,631.1L212.6,631.1L213.5,631.1L214.3,631.1L215.1,631.1L215.9,631.1L216.8,631.1L217.6,631.1L218.4,631.1L219.2,631.1L220.0,631.1L220.9,631.1L221.7,631.1L222.5,631.1L223.3,631.1L224.2,631.1L225.0,631.1L225.8,631.1L226.6,631.1L227.5,631.1L228.3,631.1L229.1,631.1L229.9,631.1L230.8,631.1L231.6,631.1L232.4,631.1L233.2,631.1L234.0,631.1L234.9,631.1L235.7,631.1L236.5,631.1L237.3,631.1L238.2,631.1L239.0,631.1L239.8,631.1L240.6,631.1L241.5,631.1L242.3,631.1L243.1,631.1L243.9,631.1L244.7,631.1L245.6,631.1L246.4,631.1L247.2,631.1L248.0,631.1L248.9,631.1L249.7,631.1L250.5,631.1L251.3,631.1L252.2,631.1L253.0,631.1L253.8,631.1L254.6,631.1L255.4,631.1L256.3,631.1L257.1,631.1L257.9,631.1L258.7,631.1L259.6,631.1L260.4,631.1L261.2,631.1L262.0,628.9L262.9,617.2L263.7,619.6L264.5,622.1L265.3,623.3L266.2,625.1L267.0,625.2L267.8,622.1L268.6,622.3L269.4,621.9L270.3,622.2L271.1,621.9L271.9,623.7L272.7,622.0L273.6,622.2L274.4,622.2L275.2,621.9L276.0,631.1L276.9,631.1L277.7,631.1L278.5,631.1L279.3,631.1L280.1,631.1L281.0,631.1L281.8,631.1L282.6,631.1L283.4,631.1L284.3,631.1L285.1,631.1L285.9,631.1L286.7,631.1L287.6,631.1L288.4,631.1L289.2,631.1L290.0,631.1L290.9,620.0L291.7,616.2L292.5,615.4" fill="none" stroke="#1e90ff" stroke-width="1.5" stroke-linejoin="round" stroke-linecap="butt"/><path d="M181.3,628.8L182.2,624.3L183.0,621.0L183.8,618.7L184.6,619.8L185.5,620.6L186.3,621.5L187.1,620.6L187.9,619.7L188.8,620.7L189.6,625.4L190.4,621.6L191.2,618.5L192.1,616.7L192.9,615.1L193.7,615.8L194.5,618.6L195.3,620.5L196.2,618.8L197.0,620.5L197.8,622.1L198.6,621.5L199.5,621.0L200.3,621.4L201.1,621.2L201.9,623.4L202.8,626.9L203.6,626.8L204.4,629.3L205.2,630.6L206.1,631.1L206.9,631.1L207.7,631.1L208.5,631.1L209.3,631.1L210.2,631.1L211.0,631.1L211.8,631.1L212.6,631.1L213.5,631.1L214.3,631.1L215.1,631.1L215.9,631.1L216.8,631.1L217.6,631.1L218.4,631.1L219.2,631.1L220.0,631.1L220.9,631.1L221.7,631.1L222.5,631.1L223.3,631.1L224.2,631.1L225.0,631.1L225.8,628.8L226.6,627.4L227.5,626.1L228.3,625.3L229.1,624.2L229.9,623.6L230.8,620.4L231.6,619.0L232.4,616.8L233.2,615.0L234.0,607.8L234.9,598.2L235.7,596.8L236.5,599.4L237.3,594.9L238.2,589.3L239.0,587.4L239.8,572.5L240.6,547.4L241.5,532.9L242.3,559.8L243.1,575.7L243.9,577.9L244.7,574.3L245.6,565.6L246.4,569.7L247.2,591.3L248.0,607.4L248.9,614.7L249.7,620.9L250.5,623.7L251.3,624.6L252.2,625.4L253.0,624.6L253.8,624.7L254.6,624.9L255.4,625.6L256.3,624.6L257.1,625.6L257.9,626.4L258.7,626.9L259.6,627.1L260.4,628.7L261.2,628.7L262.0,629.3L262.9,629.7L263.7,629.9L264.5,630.0L265.3,630.0L266.2,630.1L267.0,630.1L267.8,630.2L268.6,630.2L269.4,630.2L270.3,630.3L271.1,630.3L271.9,630.3L272.7,630.4L273.6,630.4L274.4,630.4L275.2,630.4L276.0,630.4L276.9,630.5L277.7,630.5L278.5,630.5L279.3,630.5L280.1,630.5L281.0,630.5L281.8,630.5L282.6,630.5L283.4,630.5L284.3,630.5L285.1,630.5L285.9,630.4L286.7,630.2L287.6,630.1L288.4,629.8L289.2,629.6L290.0,629.4L290.9,629.0L291.7,628.6L292.5,628.2" fill="none" stroke="#ff00ff" stroke-width="1.5" stroke-linejoin="round" stroke-linecap="butt"/><path d="M181.3,629.0L182.2,623.7L183.0,621.0L183.8,619.8L184.6,618.8L185.5,619.1L186.3,621.1L187.1,620.0L187.9,619.1L188.8,621.0L189.6,625.1L190.4,622.7L191.2,619.3L192.1,616.6L192.9,615.2L193.7,615.8L194.5,618.8L195.3,620.8L196.2,619.0L197.0,619.9L197.8,622.9L198.6,620.7L199.5,621.2L200.3,620.7L201.1,622.3L201.9,624.0L202.8,625.5L203.6,627.4L204.4,629.3L205.2,630.6L206.1,631.1L206.9,631.1L207.7,631.1L208.5,631.1L209.3,631.1L210.2,631.1L211.0,631.1L211.8,631.1L212.6,631.1L213.5,631.1L214.3,631.1L215.1,631.1L215.9,631.1L216.8,631.1L217.6,631.1L218.4,631.1L219.2,631.1L220.0,631.1L220.9,631.1L221.7,631.1L222.5,631.1L223.3,631.1L224.2,631.1L225.0,631.1L225.8,631.1L226.6,631.1L227.5,631.1L228.3,631.1L229.1,631.1L229.9,625.7L230.8,615.7L231.6,607.9L232.4,600.3L233.2,589.7L234.0,582.2L234.9,585.5L235.7,591.1L236.5,588.3L237.3,586.2L238.2,585.8L239.0,586.0L239.8,587.9L240.6,591.6L241.5,595.8L242.3,601.4L243.1,606.4L243.9,609.2L244.7,614.8L245.6,619.4L246.4,622.4L247.2,625.0L248.0,626.3L248.9,626.9L249.7,627.2L250.5,626.9L251.3,628.2L252.2,628.5L253.0,628.7L253.8,629.0L254.6,629.2L255.4,629.4L256.3,629.6L257.1,629.7L257.9,629.8L258.7,629.9L259.6,629.9L260.4,629.9L261.2,629.9L262.0,629.9L262.9,629.9L263.7,629.9L264.5,629.9L265.3,629.9L266.2,629.9L267.0,629.9L267.8,629.9L268.6,629.9L269.4,629.9L270.3,629.9L271.1,629.9L271.9,629.9L272.7,629.9L273.6,629.8L274.4,629.8L275.2,629.8L276.0,629.8L276.9,629.8L277.7,629.7L278.5,629.7L279.3,629.7L280.1,629.6L281.0,629.6L281.8,629.6L282.6,629.5L283.4,629.5L284.3,629.4L285.1,629.4L285.9,629.3L286.7,629.3L287.6,629.2L288.4,629.2L289.2,629.1L290.0,629.0L290.9,628.9L291.7,628.9L292.5,628.8" fill="none" stroke="#ff6347" stroke-width="1.5" stroke-linejoin="round" stroke-linecap="butt"/><path d="M181.3,628.0L182.2,624.1L183.0,620.2L183.8,620.1L184.6,619.5L185.5,620.5L186.3,620.6L187.1,620.9L187.9,620.0L188.8,621.7L189.6,625.0L190.4,622.5L191.2,620.5L192.1,617.4L192.9,615.5L193.7,616.0L194.5,619.7L195.3,620.5L196.2,617.7L197.0,619.1L197.8,622.7L198.6,621.8L199.5,620.8L200.3,620.5L201.1,621.6L201.9,623.8L202.8,625.4L203.6,626.6L204.4,629.3L205.2,630.6L206.1,631.1L206.9,631.1L207.7,631.1L208.5,631.1L209.3,631.1L210.2,631.1L211.0,631.1L211.8,631.1L212.6,631.1L213.5,631.1L214.3,631.1L215.1,631.1L215.9,631.1L216.8,629.9L217.6,625.9L218.4,622.9L219.2,619.0L220.0,616.4L220.9,614.2L221.7,615.0L222.5,615.5L223.3,615.6L224.2,618.0L225.0,618.6L225.8,619.5L226.6,621.2L227.5,622.1L228.3,622.0L229.1,620.4L229.9,614.1L230.8,603.9L231.6,595.5L232.4,577.6L233.2,571.9L234.0,582.7L234.9,580.9L235.7,566.8L236.5,552.3L237.3,562.0L238.2,578.1L239.0,587.3L239.8,595.5L240.6,599.5L241.5,601.3L242.3,606.6L243.1,615.2L243.9,620.4L244.7,623.6L245.6,624.9L246.4,626.5L247.2,626.6L248.0,626.8L248.9,625.8L249.7,624.6L250.5,624.9L251.3,624.5L252.2,625.4L253.0,625.7L253.8,627.1L254.6,626.9L255.4,627.5L256.3,628.2L257.1,628.6L257.9,629.0L258.7,629.3L259.6,629.6L260.4,629.8L261.2,629.9L262.0,630.0L262.9,630.0L263.7,630.1L264.5,630.1L265.3,630.1L266.2,630.2L267.0,630.2L267.8,630.2L268.6,630.3L269.4,630.3L270.3,630.3L271.1,630.4L271.9,630.4L272.7,630.4L273.6,630.4L274.4,630.4L275.2,630.4L276.0,630.5L276.9,630.5L277.7,630.5L278.5,630.5L279.3,630.5L280.1,630.5L281.0,630.5L281.8,630.5L282.6,630.5L283.4,630.5L284.3,630.5L285.1,630.5L285.9,630.3L286.7,630.1L287.6,629.8L288.4,629.5L289.2,629.2L290.0,628.8L290.9,628.4L291.7,629.7L292.5,627.5" fill="none" stroke="#ffa500" stroke-width="1.5" stroke-linejoin="round" stroke-linecap="butt"/></g>
<clipPath id="clipe"><rect x="397.5" y="19.2" width="247.0" height="154.8"/></clipPath><g clip-path="url(#clipe)"><path d="M397.5,72.7L398.3,75.8L399.1,69.6L400.0,76.0L400.8,82.3L401.6,71.7L402.4,76.2L403.3,86.9L404.1,79.7L404.9,83.2L405.7,74.6L406.6,78.8L407.4,90.1L408.2,84.6L409.0,69.1L409.9,77.4L410.7,76.5L411.5,79.5L412.3,77.0L413.1,70.0L414.0,75.1L414.8,68.1L415.6,77.2L416.4,67.5L417.3,69.7L418.1,78.5L418.9,67.3L419.7,85.0L420.6,92.7L421.4,79.4L422.2,76.2L423.0,75.3L423.8,66.1L424.7,77.7L425.5,80.4L426.3,70.3L427.1,70.7L428.0,76.5L428.8,83.5L429.6,74.4L430.4,76.8L431.3,77.4L432.1,76.0L432.9,70.3L433.7,83.2L434.6,86.0L435.4,75.7L436.2,73.6L437.0,76.7L437.8,88.7L438.7,78.8L439.5,81.2L440.3,77.4L441.1,76.5L442.0,84.6L442.8,78.9L443.6,83.5L444.4,79.4L445.3,71.1L446.1,84.8L446.9,74.8L447.7,75.7L448.5,75.8L449.4,71.7L450.2,93.9L451.0,65.3L451.8,69.0L452.7,79.1L453.5,84.1L454.3,82.6L455.1,80.6L456.0,65.4L456.8,75.7L457.6,65.9L458.4,86.9L459.2,76.7L460.1,73.6L460.9,79.4L461.7,69.1L462.5,76.9L463.4,72.2L464.2,77.4L465.0,83.3L465.8,77.6L466.7,73.4L467.5,70.7L468.3,79.7L469.1,72.3L470.0,71.8L470.8,80.5L471.6,77.0L472.4,79.0L473.2,74.0L474.1,72.0L474.9,82.8L475.7,74.6L476.5,79.6L477.4,69.7L478.2,81.0L479.0,82.0L479.8,84.5L480.7,78.0L481.5,75.9L482.3,81.5L483.1,75.8L483.9,92.3L484.8,74.9L485.6,75.9L486.4,89.6L487.2,49.9L488.1,72.5L488.9,71.5L489.7,68.1L490.5,79.3L491.4,83.4L492.2,62.7L493.0,75.3L493.8,87.6L494.7,88.0L495.5,60.8L496.3,74.0L497.1,72.4L497.9,73.2L498.8,71.4L499.6,61.3L500.4,77.4L501.2,67.3L502.1,73.0L502.9,77.4L503.7,79.5L504.5,74.6L505.4,77.9L506.2,67.2L507.0,61.9L507.8,70.1L508.6,72.1L509.5,82.3L510.3,80.0L511.1,67.2L511.9,68.4L512.8,64.4L513.6,79.5L514.4,73.3L515.2,64.6L516.1,70.7L516.9,79.9L517.7,78.6L518.5,83.0L519.4,81.4L520.2,63.3L521.0,80.1L521.8,62.9L522.6,65.1L523.5,69.5L524.3,77.4L525.1,57.7L525.9,66.1L526.8,64.5L527.6,71.5L528.4,81.6L529.2,68.0L530.1,66.8L530.9,80.7L531.7,71.5L532.5,69.9L532.5,113.0L531.7,112.4L530.9,120.2L530.1,107.9L529.2,118.4L528.4,125.7L527.6,114.0L526.8,113.3L525.9,110.4L525.1,133.4L524.3,110.8L523.5,119.1L522.6,114.4L521.8,115.0L521.0,120.5L520.2,106.5L519.4,115.2L518.5,122.1L517.7,110.8L516.9,119.5L516.1,108.6L515.2,103.9L514.4,107.2L513.6,111.0L512.8,118.8L511.9,121.9L511.1,109.1L510.3,108.5L509.5,121.1L508.6,116.9L507.8,112.7L507.0,110.6L506.2,114.3L505.4,127.8L504.5,115.5L503.7,122.6L502.9,120.7L502.1,111.3L501.2,127.2L500.4,114.8L499.6,114.0L498.8,111.7L497.9,118.6L497.1,119.0L496.3,117.9L495.5,106.2L494.7,124.5L493.8,119.1L493.0,116.5L492.2,121.0L491.4,120.4L490.5,115.0L489.7,123.3L488.9,125.2L488.1,114.1L487.2,122.8L486.4,114.3L485.6,118.3L484.8,121.5L483.9,125.6L483.1,117.5L482.3,116.9L481.5,121.1L480.7,111.7L479.8,113.6L479.0,117.9L478.2,110.7L477.4,115.5L476.5,124.7L475.7,117.0L474.9,117.7L474.1,120.7L473.2,115.7L472.4,117.8L471.6,120.6L470.8,123.2L470.0,119.1L469.1,116.1L468.3,119.0L467.5,128.1L466.7,113.1L465.8,120.8L465.0,116.5L464.2,106.6L463.4,126.6L462.5,119.4L461.7,126.7L460.9,110.7L460.1,121.8L459.2,112.6L458.4,112.1L457.6,127.6L456.8,108.8L456.0,119.1L455.1,116.0L454.3,118.1L453.5,133.4L452.7,116.0L451.8,118.7L451.0,115.3L450.2,126.4L449.4,118.4L448.5,117.6L447.7,120.3L446.9,115.2L446.1,120.7L445.3,118.7L444.4,129.6L443.6,120.8L442.8,119.8L442.0,125.1L441.1,119.8L440.3,126.0L439.5,108.8L438.7,120.1L437.8,120.4L437.0,112.3L436.2,127.7L435.4,113.8L434.6,120.0L433.7,116.9L432.9,109.1L432.1,118.6L431.3,115.4L430.4,122.4L429.6,117.1L428.8,127.9L428.0,128.1L427.1,113.5L426.3,118.6L425.5,125.1L424.7,110.2L423.8,113.3L423.0,116.7L422.2,107.5L421.4,126.8L420.6,132.4L419.7,120.3L418.9,123.0L418.1,116.4L417.3,114.6L416.4,120.7L415.6,119.1L414.8,109.4L414.0,113.2L413.1,108.8L412.3,108.0L411.5,121.3L410.7,109.1L409.9,121.2L409.0,120.3L408.2,114.6L407.4,128.4L406.6,129.3L405.7,120.2L404.9,111.1L404.1,120.5L403.3,125.4L402.4,121.6L401.6,115.5L400.8,112.7L400.0,116.7L399.1,126.8L398.3,124.1L397.5,116.8Z" fill="#808080" fill-opacity="0.3" stroke="#808080" stroke-opacity="0.3" stroke-width="0.8"/><path d="M533.4,71.9L534.2,64.2L535.0,55.9L535.8,68.3L536.6,54.6L537.5,60.2L538.3,70.5L539.1,72.0L539.9,70.8L540.8,59.4L541.6,63.6L542.4,40.7L543.2,62.8L544.1,59.7L544.9,55.5L545.7,47.3L546.5,71.6L547.3,53.4L548.2,61.0L549.0,55.4L549.8,63.8L550.6,51.5L551.5,66.6L552.3,58.0L553.1,57.7L553.9,53.7L554.8,69.6L555.6,62.7L556.4,48.7L557.2,32.6L558.0,63.1L558.9,61.4L559.7,70.0L560.5,49.3L561.3,72.3L562.2,34.7L563.0,61.9L563.8,54.4L564.6,53.7L565.5,69.7L566.3,68.8L567.1,60.2L567.9,73.7L568.8,55.3L569.6,58.5L570.4,76.4L571.2,50.3L572.0,68.6L572.9,56.6L573.7,70.1L574.5,52.7L575.3,65.1L576.2,69.2L577.0,55.9L577.8,66.5L578.6,70.7L579.5,70.4L580.3,62.5L581.1,61.5L581.9,67.6L582.8,68.2L583.6,65.3L584.4,70.1L585.2,56.6L586.0,56.8L586.9,71.8L587.7,70.0L588.5,28.8L589.3,61.5L590.2,72.6L591.0,64.7L591.8,70.2L592.6,68.6L593.5,58.7L594.3,71.4L595.1,69.8L595.9,68.8L596.7,64.7L597.6,69.6L598.4,53.8L599.2,72.8L600.0,60.8L600.9,75.3L601.7,74.9L602.5,69.7L603.3,70.1L604.2,82.5L605.0,76.6L605.8,62.8L606.6,59.1L607.5,56.0L608.3,59.0L609.1,73.8L609.9,67.1L610.7,67.9L611.6,72.8L612.4,63.3L613.2,69.3L614.0,61.6L614.9,62.8L615.7,61.5L616.5,51.8L617.3,74.3L618.2,75.6L619.0,67.4L619.8,69.7L620.6,61.9L621.4,72.3L622.3,63.4L623.1,52.3L623.9,80.9L624.7,64.5L625.6,63.9L626.4,74.9L627.2,77.0L628.0,64.7L628.9,78.4L629.7,61.8L630.5,75.5L631.3,70.9L632.1,73.0L633.0,73.8L633.8,68.5L634.6,82.3L635.4,65.3L636.3,70.2L637.1,72.0L637.9,75.8L638.7,76.4L639.6,67.3L640.4,77.4L641.2,46.2L642.0,83.6L642.9,87.3L643.7,71.7L644.5,75.4L644.5,130.8L643.7,128.2L642.9,131.2L642.0,125.9L641.2,122.3L640.4,135.7L639.6,130.8L638.7,125.1L637.9,139.1L637.1,127.4L636.3,122.1L635.4,125.1L634.6,115.5L633.8,128.6L633.0,124.8L632.1,118.4L631.3,126.1L630.5,117.9L629.7,130.3L628.9,126.6L628.0,127.0L627.2,116.6L626.4,112.2L625.6,123.8L624.7,118.6L623.9,120.3L623.1,124.8L622.3,123.7L621.4,117.3L620.6,119.2L619.8,122.3L619.0,111.5L618.2,118.0L617.3,122.0L616.5,118.5L615.7,110.8L614.9,130.4L614.0,127.2L613.2,111.6L612.4,136.7L611.6,112.2L610.7,122.4L609.9,119.6L609.1,120.2L608.3,116.3L607.5,101.1L606.6,105.4L605.8,124.3L605.0,124.6L604.2,126.7L603.3,117.7L602.5,112.8L601.7,111.8L600.9,137.0L600.0,123.0L599.2,119.3L598.4,110.5L597.6,125.1L596.7,132.1L595.9,117.7L595.1,120.4L594.3,114.3L593.5,117.1L592.6,112.6L591.8,115.0L591.0,116.0L590.2,129.8L589.3,115.4L588.5,115.5L587.7,117.8L586.9,110.7L586.0,129.8L585.2,128.7L584.4,124.2L583.6,116.1L582.8,110.8L581.9,115.8L581.1,114.7L580.3,113.1L579.5,114.4L578.6,113.8L577.8,100.9L577.0,104.5L576.2,116.4L575.3,111.5L574.5,123.1L573.7,103.2L572.9,113.2L572.0,111.6L571.2,106.3L570.4,117.3L569.6,113.5L568.8,111.9L567.9,127.6L567.1,122.9L566.3,103.2L565.5,109.3L564.6,117.8L563.8,118.6L563.0,123.4L562.2,122.3L561.3,121.0L560.5,121.6L559.7,117.0L558.9,113.8L558.0,101.5L557.2,102.6L556.4,122.2L555.6,108.2L554.8,121.6L553.9,113.9L553.1,100.9L552.3,127.3L551.5,104.0L550.6,114.9L549.8,111.4L549.0,102.2L548.2,114.5L547.3,121.5L546.5,114.2L545.7,119.3L544.9,117.2L544.1,115.1L543.2,101.5L542.4,124.4L541.6,109.3L540.8,117.2L539.9,115.9L539.1,112.6L538.3,104.1L537.5,103.3L536.6,122.3L535.8,119.5L535.0,109.2L534.2,106.2L533.4,123.7Z" fill="#1e90ff" fill-opacity="0.2" stroke="#1e90ff" stroke-opacity="0.2" stroke-width="0.8"/><path d="M533.4,48.3L534.2,57.0L535.0,49.7L535.8,55.2L536.6,56.5L537.5,75.1L538.3,62.5L539.1,62.4L539.9,63.7L540.8,64.9L541.6,61.2L542.4,58.8L543.2,23.2L544.1,61.2L544.9,41.1L545.7,44.1L546.5,56.8L547.3,59.5L548.2,65.2L549.0,64.5L549.8,50.6L550.6,56.1L551.5,68.8L552.3,56.0L553.1,68.1L553.9,65.6L554.8,50.0L555.6,35.6L556.4,52.8L557.2,70.5L558.0,51.7L558.9,44.3L559.7,60.6L560.5,50.3L561.3,61.2L562.2,43.9L563.0,46.3L563.8,51.6L564.6,62.2L565.5,48.5L566.3,57.6L567.1,54.4L567.9,53.7L568.8,50.5L569.6,53.9L570.4,65.2L571.2,53.0L572.0,65.7L572.9,50.7L573.7,69.4L574.5,59.9L575.3,63.8L576.2,68.1L577.0,59.4L577.8,70.8L578.6,69.6L579.5,72.2L580.3,60.8L581.1,73.0L581.9,71.2L582.8,51.4L583.6,57.1L584.4,69.1L585.2,70.4L586.0,56.6L586.9,74.2L587.7,73.0L588.5,64.3L589.3,84.9L590.2,66.1L591.0,82.7L591.8,83.2L592.6,77.0L593.5,73.0L594.3,72.5L595.1,96.9L595.9,81.2L596.7,77.1L597.6,78.8L598.4,79.4L599.2,83.0L600.0,64.1L600.9,83.8L601.7,85.9L602.5,71.1L603.3,80.6L604.2,75.3L605.0,78.5L605.8,81.5L606.6,79.4L607.5,107.2L608.3,81.5L609.1,87.9L609.9,76.1L610.7,101.5L611.6,89.1L612.4,92.5L613.2,69.1L614.0,73.4L614.9,103.4L615.7,84.7L616.5,78.4L617.3,79.8L618.2,91.0L619.0,80.1L619.8,96.7L620.6,77.4L621.4,77.9L622.3,97.8L623.1,96.1L623.9,76.0L624.7,80.4L625.6,88.5L626.4,82.3L627.2,102.2L628.0,85.8L628.9,94.9L629.7,88.6L630.5,83.3L631.3,92.9L632.1,84.8L633.0,97.5L633.8,91.1L634.6,86.4L635.4,90.6L636.3,95.5L637.1,90.7L637.9,97.6L638.7,89.8L639.6,95.1L640.4,83.3L641.2,90.6L642.0,88.0L642.9,98.8L643.7,85.7L644.5,89.9L644.5,135.4L643.7,150.4L642.9,145.4L642.0,144.7L641.2,158.0L640.4,148.6L639.6,143.2L638.7,152.0L637.9,141.1L637.1,133.6L636.3,150.1L635.4,145.7L634.6,142.7L633.8,138.5L633.0,151.1L632.1,141.9L631.3,151.8L630.5,142.3L629.7,157.4L628.9,150.6L628.0,148.5L627.2,135.8L626.4,131.4L625.6,138.4L624.7,148.1L623.9,149.3L623.1,156.1L622.3,143.8L621.4,135.9L620.6,136.4L619.8,140.5L619.0,137.8L618.2,133.7L617.3,153.4L616.5,131.8L615.7,137.9L614.9,150.4L614.0,155.2L613.2,153.6L612.4,141.9L611.6,140.6L610.7,148.2L609.9,146.1L609.1,139.6L608.3,143.8L607.5,136.7L606.6,150.0L605.8,119.8L605.0,141.2L604.2,143.9L603.3,140.8L602.5,133.5L601.7,130.8L600.9,141.4L600.0,145.9L599.2,133.8L598.4,144.1L597.6,141.2L596.7,134.0L595.9,137.1L595.1,145.8L594.3,131.4L593.5,128.0L592.6,132.5L591.8,141.8L591.0,125.9L590.2,125.8L589.3,128.6L588.5,141.6L587.7,133.1L586.9,111.3L586.0,130.6L585.2,110.6L584.4,117.3L583.6,112.3L582.8,108.4L581.9,115.4L581.1,110.2L580.3,116.8L579.5,101.9L578.6,112.8L577.8,109.4L577.0,111.5L576.2,105.6L575.3,101.5L574.5,123.7L573.7,106.8L572.9,94.5L572.0,105.9L571.2,107.3L570.4,102.4L569.6,106.0L568.8,103.5L567.9,105.5L567.1,97.3L566.3,109.8L565.5,105.3L564.6,100.2L563.8,107.4L563.0,108.7L562.2,113.8L561.3,122.3L560.5,105.3L559.7,112.9L558.9,110.2L558.0,111.5L557.2,104.7L556.4,115.9L555.6,109.5L554.8,113.6L553.9,122.1L553.1,120.9L552.3,105.3L551.5,111.2L550.6,106.6L549.8,108.2L549.0,110.3L548.2,100.5L547.3,113.1L546.5,120.8L545.7,104.1L544.9,113.7L544.1,110.9L543.2,112.1L542.4,105.9L541.6,116.9L540.8,114.0L539.9,116.5L539.1,111.7L538.3,118.5L537.5,117.5L536.6,116.2L535.8,112.7L535.0,101.7L534.2,94.2L533.4,123.7Z" fill="#ff00ff" fill-opacity="0.2" stroke="#ff00ff" stroke-opacity="0.2" stroke-width="0.8"/><path d="M533.4,72.5L534.2,49.9L535.0,54.3L535.8,59.1L536.6,58.3L537.5,55.7L538.3,59.7L539.1,47.7L539.9,60.0L540.8,70.9L541.6,57.4L542.4,54.3L543.2,50.4L544.1,60.8L544.9,55.3L545.7,60.0L546.5,56.3L547.3,56.4L548.2,52.2L549.0,54.3L549.8,48.9L550.6,58.5L551.5,65.0L552.3,49.9L553.1,55.6L553.9,61.8L554.8,49.8L555.6,47.2L556.4,54.3L557.2,68.5L558.0,8.7L558.9,58.3L559.7,48.9L560.5,74.4L561.3,45.8L562.2,52.3L563.0,66.5L563.8,45.5L564.6,56.9L565.5,63.7L566.3,45.6L567.1,44.7L567.9,64.1L568.8,43.7L569.6,52.1L570.4,54.3L571.2,35.6L572.0,51.2L572.9,57.7L573.7,40.6L574.5,60.7L575.3,47.3L576.2,45.8L577.0,65.3L577.8,70.3L578.6,74.9L579.5,57.9L580.3,62.6L581.1,49.1L581.9,71.2L582.8,63.4L583.6,67.6L584.4,70.1L585.2,69.1L586.0,71.8L586.9,74.6L587.7,72.0L588.5,77.4L589.3,83.9L590.2,70.4L591.0,75.4L591.8,82.1L592.6,60.4L593.5,80.0L594.3,83.4L595.1,75.1L595.9,85.8L596.7,63.5L597.6,79.9L598.4,73.6L599.2,82.5L600.0,82.6L600.9,69.8L601.7,82.1L602.5,83.9L603.3,77.9L604.2,78.9L605.0,98.5L605.8,89.7L606.6,67.1L607.5,78.9L608.3,68.0L609.1,69.9L609.9,77.9L610.7,88.4L611.6,80.3L612.4,86.5L613.2,85.5L614.0,91.7L614.9,106.4L615.7,99.6L616.5,102.9L617.3,99.0L618.2,101.7L619.0,93.0L619.8,89.0L620.6,78.4L621.4,96.0L622.3,107.0L623.1,83.0L623.9,98.8L624.7,100.9L625.6,106.0L626.4,97.9L627.2,111.0L628.0,104.1L628.9,95.3L629.7,106.1L630.5,116.0L631.3,96.9L632.1,94.2L633.0,113.1L633.8,93.1L634.6,106.8L635.4,112.9L636.3,115.9L637.1,95.3L637.9,101.2L638.7,117.5L639.6,109.4L640.4,110.4L641.2,97.9L642.0,107.9L642.9,92.7L643.7,102.8L644.5,101.4L644.5,155.1L643.7,163.0L642.9,155.5L642.0,152.4L641.2,164.2L640.4,163.2L639.6,158.0L638.7,147.7L637.9,148.3L637.1,164.2L636.3,150.2L635.4,157.9L634.6,149.6L633.8,156.7L633.0,168.9L632.1,160.0L631.3,157.5L630.5,168.1L629.7,158.2L628.9,151.5L628.0,160.1L627.2,143.8L626.4,169.4L625.6,154.1L624.7,139.2L623.9,146.9L623.1,160.5L622.3,151.5L621.4,145.3L620.6,159.6L619.8,152.2L619.0,139.8L618.2,147.4L617.3,161.4L616.5,144.8L615.7,143.9L614.9,153.9L614.0,153.9L613.2,139.3L612.4,138.3L611.6,154.0L610.7,134.6L609.9,141.4L609.1,142.7L608.3,143.5L607.5,133.8L606.6,134.6L605.8,146.2L605.0,134.0L604.2,141.4L603.3,121.4L602.5,126.3L601.7,126.3L600.9,142.3L600.0,132.6L599.2,129.6L598.4,138.0L597.6,128.1L596.7,132.4L595.9,133.7L595.1,133.8L594.3,127.3L593.5,126.3L592.6,132.8L591.8,150.3L591.0,122.6L590.2,130.1L589.3,122.2L588.5,130.0L587.7,130.0L586.9,126.9L586.0,127.0L585.2,115.9L584.4,121.0L583.6,148.4L582.8,124.2L581.9,123.5L581.1,139.2L580.3,128.4L579.5,117.5L578.6,114.5L577.8,117.6L577.0,125.4L576.2,115.8L575.3,95.5L574.5,115.0L573.7,112.2L572.9,110.4L572.0,119.3L571.2,127.7L570.4,118.8L569.6,125.2L568.8,104.6L567.9,102.5L567.1,116.2L566.3,111.6L565.5,110.6L564.6,105.2L563.8,101.0L563.0,118.2L562.2,111.1L561.3,105.2L560.5,109.4L559.7,105.3L558.9,100.9L558.0,104.6L557.2,97.2L556.4,109.3L555.6,121.8L554.8,110.4L553.9,93.1L553.1,119.3L552.3,113.4L551.5,116.2L550.6,108.4L549.8,97.3L549.0,123.8L548.2,109.3L547.3,109.5L546.5,110.9L545.7,101.3L544.9,109.6L544.1,110.5L543.2,125.9L542.4,106.6L541.6,127.0L540.8,119.2L539.9,114.6L539.1,113.2L538.3,111.8L537.5,115.9L536.6,109.5L535.8,117.2L535.0,108.8L534.2,116.5L533.4,141.2Z" fill="#ff6347" fill-opacity="0.2" stroke="#ff6347" stroke-opacity="0.2" stroke-width="0.8"/><path d="M533.4,75.8L534.2,62.9L535.0,65.3L535.8,51.5L536.6,55.4L537.5,50.0L538.3,64.9L539.1,63.6L539.9,62.9L540.8,69.7L541.6,55.3L542.4,63.6L543.2,49.9L544.1,52.1L544.9,34.4L545.7,59.3L546.5,52.6L547.3,55.9L548.2,48.5L549.0,62.5L549.8,55.1L550.6,49.0L551.5,49.0L552.3,58.0L553.1,53.9L553.9,49.5L554.8,20.6L555.6,33.6L556.4,35.2L557.2,48.8L558.0,35.6L558.9,42.6L559.7,46.3L560.5,38.6L561.3,49.8L562.2,44.6L563.0,44.2L563.8,37.2L564.6,40.4L565.5,50.2L566.3,40.8L567.1,43.3L567.9,28.6L568.8,26.3L569.6,35.3L570.4,36.8L571.2,44.0L572.0,48.3L572.9,30.6L573.7,44.9L574.5,42.2L575.3,37.4L576.2,35.6L577.0,28.8L577.8,34.5L578.6,41.4L579.5,32.4L580.3,59.8L581.1,39.8L581.9,53.9L582.8,44.0L583.6,39.4L584.4,37.1L585.2,42.9L586.0,32.8L586.9,57.0L587.7,51.3L588.5,54.1L589.3,47.2L590.2,38.6L591.0,54.5L591.8,52.1L592.6,4.7L593.5,48.2L594.3,59.1L595.1,46.0L595.9,43.5L596.7,53.6L597.6,59.7L598.4,37.5L599.2,58.5L600.0,68.5L600.9,84.3L601.7,64.3L602.5,63.4L603.3,74.5L604.2,54.8L605.0,53.4L605.8,57.9L606.6,79.6L607.5,73.7L608.3,84.1L609.1,85.4L609.9,79.2L610.7,85.4L611.6,81.9L612.4,75.2L613.2,80.7L614.0,88.3L614.9,79.0L615.7,95.8L616.5,82.2L617.3,85.7L618.2,92.7L619.0,93.2L619.8,112.3L620.6,98.0L621.4,89.9L622.3,87.4L623.1,101.6L623.9,89.9L624.7,94.7L625.6,94.3L626.4,90.9L627.2,95.6L628.0,106.1L628.9,92.4L629.7,98.6L630.5,109.2L631.3,106.4L632.1,105.3L633.0,100.8L633.8,81.1L634.6,110.9L635.4,112.7L636.3,91.2L637.1,109.7L637.9,107.2L638.7,87.9L639.6,112.6L640.4,116.3L641.2,119.8L642.0,86.9L642.9,100.8L643.7,107.5L644.5,102.6L644.5,169.9L643.7,166.0L642.9,152.9L642.0,157.4L641.2,170.6L640.4,168.1L639.6,160.0L638.7,156.8L637.9,182.3L637.1,168.2L636.3,166.2L635.4,157.6L634.6,155.0L633.8,155.2L633.0,169.8L632.1,156.7L631.3,162.1L630.5,164.2L629.7,147.5L628.9,171.2L628.0,156.6L627.2,148.3L626.4,159.6L625.6,140.2L624.7,149.3L623.9,145.1L623.1,140.5L622.3,139.4L621.4,148.2L620.6,140.7L619.8,143.0L619.0,138.8L618.2,135.5L617.3,142.3L616.5,144.7L615.7,164.1L614.9,133.9L614.0,134.0L613.2,153.5L612.4,132.2L611.6,154.4L610.7,130.1L609.9,132.6L609.1,164.6L608.3,136.5L607.5,125.5L606.6,138.5L605.8,132.3L605.0,123.7L604.2,142.4L603.3,136.3L602.5,128.2L601.7,119.1L600.9,113.7L600.0,130.4L599.2,119.8L598.4,118.2L597.6,120.6L596.7,107.6L595.9,104.0L595.1,111.3L594.3,114.0L593.5,110.3L592.6,105.7L591.8,110.3L591.0,105.5L590.2,98.8L589.3,98.7L588.5,93.1L587.7,103.6L586.9,112.7L586.0,104.8L585.2,107.4L584.4,98.9L583.6,99.7L582.8,105.0L581.9,97.0L581.1,78.4L580.3,101.9L579.5,87.1L578.6,85.1L577.8,91.7L577.0,92.1L576.2,93.7L575.3,91.4L574.5,83.2L573.7,75.9L572.9,102.9L572.0,93.5L571.2,88.5L570.4,94.0L569.6,96.8L568.8,88.7L567.9,99.8L567.1,89.0L566.3,97.3L565.5,88.3L564.6,95.0L563.8,98.8L563.0,94.5L562.2,89.6L561.3,98.8L560.5,103.3L559.7,91.2L558.9,107.0L558.0,107.7L557.2,100.0L556.4,102.8L555.6,107.9L554.8,106.0L553.9,104.6L553.1,86.8L552.3,105.7L551.5,103.8L550.6,94.6L549.8,106.0L549.0,107.7L548.2,110.4L547.3,103.4L546.5,118.9L545.7,109.6L544.9,104.6L544.1,100.4L543.2,108.1L542.4,121.1L541.6,106.5L540.8,113.6L539.9,116.8L539.1,122.3L538.3,111.5L537.5,105.7L536.6,117.2L535.8,126.4L535.0,123.2L534.2,101.9L533.4,120.7Z" fill="#ffa500" fill-opacity="0.2" stroke="#ffa500" stroke-opacity="0.2" stroke-width="0.8"/><path d="M397.5,100.3L398.3,95.6L399.1,96.6L400.0,100.9L400.8,99.5L401.6,93.9L402.4,94.8L403.3,92.8L404.1,92.0L404.9,95.3L405.7,93.9L406.6,96.0L407.4,97.9L408.2,96.3L409.0,99.0L409.9,93.9L410.7,96.0L411.5,97.6L412.3,95.8L413.1,95.3L414.0,97.4L414.8,96.9L415.6,97.0L416.4,101.8L417.3,100.5L418.1,93.8L418.9,94.4L419.7,95.1L420.6,99.0L421.4,98.1L422.2,99.2L423.0,94.6L423.8,92.8L424.7,95.8L425.5,97.3L426.3,102.0L427.1,99.6L428.0,95.2L428.8,95.7L429.6,94.9L430.4,99.5L431.3,92.6L432.1,95.2L432.9,94.4L433.7,100.0L434.6,95.5L435.4,98.3L436.2,94.3L437.0,97.5L437.8,97.9L438.7,98.0L439.5,96.5L440.3,96.0L441.1,99.5L442.0,96.3L442.8,96.8L443.6,98.1L444.4,95.4L445.3,99.9L446.1,99.3L446.9,99.0L447.7,97.7L448.5,95.8L449.4,92.4L450.2,98.6L451.0,95.8L451.8,97.3L452.7,94.6L453.5,91.7L454.3,94.0L455.1,94.2L456.0,96.3L456.8,97.9L457.6,101.2L458.4,98.3L459.2,98.9L460.1,95.6L460.9,98.8L461.7,92.1L462.5,90.8L463.4,95.9L464.2,97.0L465.0,95.2L465.8,93.6L466.7,92.1L467.5,95.2L468.3,91.4L469.1,95.5L470.0,94.6L470.8,95.0L471.6,96.7L472.4,95.3L473.2,93.4L474.1,94.1L474.9,95.0L475.7,97.8L476.5,92.1L477.4,92.0L478.2,92.7L479.0,96.3L479.8,95.4L480.7,94.0L481.5,94.0L482.3,93.3L483.1,98.2L483.9,95.1L484.8,95.0L485.6,97.1L486.4,96.4L487.2,92.5L488.1,95.2L488.9,97.8L489.7,91.0L490.5,92.3L491.4,92.5L492.2,92.3L493.0,93.5L493.8,92.1L494.7,93.8L495.5,92.8L496.3,96.3L497.1,94.5L497.9,95.6L498.8,92.3L499.6,95.9L500.4,94.5L501.2,94.6L502.1,93.7L502.9,94.3L503.7,95.6L504.5,95.0L505.4,91.7L506.2,90.8L507.0,95.1L507.8,93.2L508.6,90.7L509.5,94.9L510.3,95.6L511.1,90.8L511.9,92.0L512.8,87.5L513.6,89.3L514.4,91.4L515.2,92.2L516.1,92.8L516.9,93.3L517.7,93.3L518.5,95.0L519.4,91.7L520.2,91.9L521.0,94.3L521.8,95.1L522.6,93.5L523.5,89.3L524.3,90.4L525.1,91.0L525.9,92.5L526.8,90.7L527.6,95.5L528.4,92.5L529.2,93.0L530.1,89.8L530.9,93.0L531.7,94.4L532.5,92.4" fill="none" stroke="#000" stroke-width="1.4" stroke-linejoin="round" stroke-linecap="butt"/><path d="M533.4,88.8L534.2,85.8L535.0,86.9L535.8,87.2L536.6,89.2L537.5,84.6L538.3,84.0L539.1,88.4L539.9,91.8L540.8,90.8L541.6,90.7L542.4,91.7L543.2,85.3L544.1,88.6L544.9,85.0L545.7,94.2L546.5,87.4L547.3,85.6L548.2,86.8L549.0,88.7L549.8,85.5L550.6,90.3L551.5,88.0L552.3,88.8L553.1,83.3L553.9,89.8L554.8,88.5L555.6,93.4L556.4,89.5L557.2,87.2L558.0,79.6L558.9,87.8L559.7,89.4L560.5,86.1L561.3,86.9L562.2,94.6L563.0,88.4L563.8,90.7L564.6,87.7L565.5,87.9L566.3,85.4L567.1,87.1L567.9,89.1L568.8,84.0L569.6,88.6L570.4,89.8L571.2,89.8L572.0,92.9L572.9,90.6L573.7,89.3L574.5,91.6L575.3,88.4L576.2,88.8L577.0,86.7L577.8,87.1L578.6,88.0L579.5,89.7L580.3,92.4L581.1,97.2L581.9,94.2L582.8,93.6L583.6,91.2L584.4,96.7L585.2,91.7L586.0,90.4L586.9,91.1L587.7,95.3L588.5,98.0L589.3,96.5L590.2,98.4L591.0,93.6L591.8,94.8L592.6,89.2L593.5,91.2L594.3,89.6L595.1,93.4L595.9,91.1L596.7,94.4L597.6,93.4L598.4,97.2L599.2,93.0L600.0,94.1L600.9,96.0L601.7,88.8L602.5,92.5L603.3,97.2L604.2,92.5L605.0,98.0L605.8,97.7L606.6,96.2L607.5,95.0L608.3,95.1L609.1,95.4L609.9,95.2L610.7,91.4L611.6,95.1L612.4,93.9L613.2,92.1L614.0,99.2L614.9,99.8L615.7,97.4L616.5,94.7L617.3,94.3L618.2,98.8L619.0,93.1L619.8,97.4L620.6,96.1L621.4,95.6L622.3,94.4L623.1,95.8L623.9,97.6L624.7,98.5L625.6,98.7L626.4,98.9L627.2,99.6L628.0,101.0L628.9,98.7L629.7,102.7L630.5,100.5L631.3,98.0L632.1,98.1L633.0,97.5L633.8,102.7L634.6,100.3L635.4,103.7L636.3,103.8L637.1,101.2L637.9,105.8L638.7,103.1L639.6,101.5L640.4,106.7L641.2,104.2L642.0,106.4L642.9,107.1L643.7,102.9L644.5,104.5" fill="none" stroke="#1e90ff" stroke-width="1.5" stroke-linejoin="round" stroke-linecap="butt"/><path d="M533.4,89.8L534.2,87.2L535.0,86.0L535.8,83.5L536.6,84.7L537.5,87.0L538.3,85.8L539.1,83.9L539.9,85.1L540.8,81.2L541.6,86.8L542.4,87.1L543.2,91.3L544.1,92.0L544.9,89.2L545.7,88.4L546.5,83.5L547.3,84.3L548.2,85.2L549.0,88.2L549.8,85.1L550.6,87.1L551.5,82.8L552.3,84.3L553.1,85.9L553.9,82.7L554.8,79.1L555.6,85.3L556.4,82.2L557.2,81.3L558.0,80.8L558.9,82.8L559.7,81.7L560.5,80.7L561.3,79.4L562.2,78.1L563.0,79.2L563.8,76.3L564.6,79.4L565.5,77.8L566.3,78.7L567.1,82.1L567.9,84.8L568.8,86.5L569.6,79.9L570.4,85.3L571.2,84.0L572.0,84.0L572.9,80.6L573.7,78.8L574.5,80.3L575.3,82.0L576.2,83.5L577.0,82.4L577.8,89.7L578.6,90.2L579.5,86.9L580.3,88.3L581.1,91.5L581.9,93.6L582.8,90.7L583.6,89.4L584.4,86.9L585.2,92.2L586.0,97.5L586.9,96.1L587.7,98.2L588.5,99.5L589.3,104.8L590.2,103.2L591.0,101.4L591.8,105.2L592.6,101.9L593.5,101.2L594.3,104.7L595.1,103.2L595.9,105.4L596.7,107.1L597.6,107.6L598.4,107.9L599.2,106.5L600.0,110.0L600.9,106.4L601.7,108.6L602.5,113.0L603.3,112.8L604.2,114.0L605.0,111.4L605.8,115.0L606.6,109.7L607.5,110.4L608.3,107.9L609.1,110.4L609.9,110.4L610.7,112.7L611.6,114.7L612.4,113.2L613.2,112.5L614.0,112.2L614.9,114.2L615.7,115.5L616.5,114.9L617.3,114.8L618.2,115.3L619.0,120.1L619.8,116.9L620.6,115.2L621.4,115.2L622.3,112.7L623.1,110.3L623.9,115.1L624.7,115.9L625.6,116.5L626.4,113.9L627.2,114.4L628.0,118.0L628.9,116.4L629.7,121.2L630.5,118.9L631.3,119.3L632.1,117.2L633.0,114.0L633.8,118.4L634.6,118.8L635.4,121.2L636.3,115.7L637.1,115.8L637.9,117.8L638.7,120.9L639.6,121.4L640.4,123.5L641.2,121.1L642.0,118.6L642.9,121.4L643.7,121.6L644.5,124.4" fill="none" stroke="#ff00ff" stroke-width="1.5" stroke-linejoin="round" stroke-linecap="butt"/><path d="M533.4,89.9L534.2,87.5L535.0,86.3L535.8,82.3L536.6,77.9L537.5,86.4L538.3,86.4L539.1,85.6L539.9,78.0L540.8,80.5L541.6,84.6L542.4,84.7L543.2,83.4L544.1,82.5L544.9,81.0L545.7,80.7L546.5,83.2L547.3,82.3L548.2,82.4L549.0,78.7L549.8,84.0L550.6,80.9L551.5,83.4L552.3,84.3L553.1,85.2L553.9,84.9L554.8,87.1L555.6,82.0L556.4,82.3L557.2,80.1L558.0,77.8L558.9,83.6L559.7,82.5L560.5,84.5L561.3,86.3L562.2,88.8L563.0,83.6L563.8,82.1L564.6,76.9L565.5,84.1L566.3,80.1L567.1,80.2L567.9,81.1L568.8,84.8L569.6,83.3L570.4,81.6L571.2,82.8L572.0,85.8L572.9,83.9L573.7,82.8L574.5,82.6L575.3,85.5L576.2,83.4L577.0,85.9L577.8,87.7L578.6,86.5L579.5,91.8L580.3,92.9L581.1,94.1L581.9,96.2L582.8,94.8L583.6,97.7L584.4,97.1L585.2,99.7L586.0,96.9L586.9,94.9L587.7,94.7L588.5,97.4L589.3,98.6L590.2,101.9L591.0,97.5L591.8,104.5L592.6,102.4L593.5,103.4L594.3,103.0L595.1,106.2L595.9,104.4L596.7,109.3L597.6,109.5L598.4,106.4L599.2,107.7L600.0,112.0L600.9,110.0L601.7,111.7L602.5,110.1L603.3,113.9L604.2,111.1L605.0,110.8L605.8,110.7L606.6,108.3L607.5,114.0L608.3,108.9L609.1,111.9L609.9,113.7L610.7,115.9L611.6,115.9L612.4,116.2L613.2,116.3L614.0,116.0L614.9,112.5L615.7,116.2L616.5,117.5L617.3,119.3L618.2,118.0L619.0,120.2L619.8,118.7L620.6,122.2L621.4,122.5L622.3,123.4L623.1,124.6L623.9,127.4L624.7,130.4L625.6,128.1L626.4,124.2L627.2,127.4L628.0,126.5L628.9,127.5L629.7,128.8L630.5,126.3L631.3,134.0L632.1,131.6L633.0,132.3L633.8,130.9L634.6,129.6L635.4,126.8L636.3,131.2L637.1,129.7L637.9,130.9L638.7,135.1L639.6,132.3L640.4,133.2L641.2,135.7L642.0,136.9L642.9,135.7L643.7,132.4L644.5,130.5" fill="none" stroke="#ff6347" stroke-width="1.5" stroke-linejoin="round" stroke-linecap="butt"/><path d="M533.4,87.7L534.2,88.8L535.0,85.4L535.8,90.6L536.6,87.1L537.5,89.3L538.3,86.8L539.1,87.5L539.9,84.3L540.8,85.7L541.6,85.4L542.4,83.4L543.2,84.5L544.1,80.0L544.9,77.5L545.7,80.3L546.5,77.9L547.3,83.2L548.2,80.8L549.0,76.9L549.8,74.7L550.6,75.2L551.5,77.9L552.3,75.0L553.1,74.1L553.9,75.2L554.8,76.6L555.6,75.2L556.4,74.5L557.2,71.9L558.0,72.6L558.9,66.6L559.7,69.9L560.5,66.6L561.3,72.2L562.2,67.0L563.0,68.6L563.8,64.1L564.6,64.3L565.5,67.4L566.3,70.5L567.1,68.1L567.9,66.9L568.8,73.0L569.6,65.9L570.4,68.1L571.2,61.8L572.0,61.8L572.9,62.8L573.7,63.6L574.5,62.5L575.3,61.9L576.2,58.3L577.0,61.4L577.8,59.9L578.6,64.0L579.5,59.3L580.3,60.2L581.1,67.6L581.9,66.4L582.8,67.1L583.6,65.0L584.4,66.6L585.2,67.6L586.0,67.8L586.9,71.2L587.7,72.9L588.5,71.9L589.3,70.6L590.2,70.7L591.0,76.8L591.8,80.3L592.6,78.5L593.5,76.5L594.3,78.3L595.1,80.9L595.9,81.4L596.7,83.8L597.6,85.7L598.4,89.8L599.2,85.4L600.0,92.1L600.9,92.3L601.7,94.6L602.5,96.3L603.3,97.8L604.2,98.8L605.0,103.0L605.8,103.0L606.6,107.0L607.5,105.6L608.3,107.8L609.1,103.9L609.9,107.6L610.7,106.9L611.6,106.6L612.4,104.5L613.2,109.8L614.0,115.5L614.9,111.6L615.7,111.8L616.5,112.2L617.3,113.8L618.2,113.8L619.0,112.4L619.8,116.2L620.6,118.9L621.4,112.8L622.3,117.2L623.1,120.8L623.9,123.2L624.7,119.2L625.6,124.6L626.4,121.2L627.2,125.0L628.0,129.5L628.9,131.6L629.7,130.3L630.5,126.5L631.3,125.5L632.1,130.2L633.0,126.1L633.8,131.0L634.6,129.8L635.4,136.2L636.3,132.0L637.1,131.8L637.9,131.0L638.7,135.6L639.6,132.6L640.4,134.9L641.2,136.3L642.0,135.4L642.9,136.0L643.7,132.0L644.5,135.5" fill="none" stroke="#ffa500" stroke-width="1.5" stroke-linejoin="round" stroke-linecap="butt"/></g>
<clipPath id="clipf"><rect x="397.5" y="174.0" width="247.0" height="154.7"/></clipPath><g clip-path="url(#clipf)"><path d="M397.5,313.3L398.3,313.6L399.1,314.5L400.0,314.6L400.8,312.2L401.6,311.4L402.4,314.8L403.3,314.0L404.1,312.7L404.9,314.3L405.7,315.7L406.6,308.4L407.4,313.8L408.2,315.0L409.0,315.6L409.9,314.6L410.7,313.7L411.5,315.4L412.3,315.7L413.1,313.6L414.0,310.9L414.8,310.3L415.6,315.2L416.4,313.0L417.3,314.1L418.1,314.9L418.9,312.8L419.7,312.1L420.6,314.7L421.4,313.7L422.2,315.4L423.0,315.3L423.8,314.2L424.7,307.0L425.5,315.3L426.3,314.4L427.1,314.4L428.0,314.2L428.8,314.0L429.6,314.1L430.4,313.6L431.3,314.1L432.1,315.1L432.9,315.3L433.7,315.1L434.6,315.2L435.4,314.3L436.2,314.8L437.0,313.8L437.8,313.6L438.7,313.6L439.5,313.4L440.3,314.9L441.1,313.2L442.0,314.2L442.8,314.1L443.6,314.5L444.4,309.0L445.3,312.9L446.1,312.6L446.9,314.8L447.7,314.7L448.5,313.2L449.4,314.6L450.2,310.2L451.0,312.6L451.8,313.6L452.7,310.1L453.5,314.8L454.3,313.8L455.1,314.5L456.0,314.7L456.8,313.8L457.6,313.3L458.4,313.9L459.2,314.6L460.1,314.1L460.9,314.1L461.7,313.6L462.5,305.7L463.4,314.8L464.2,314.4L465.0,314.0L465.8,312.4L466.7,314.5L467.5,314.4L468.3,313.9L469.1,313.5L470.0,307.0L470.8,313.4L471.6,310.9L472.4,312.4L473.2,313.7L474.1,312.6L474.9,309.1L475.7,313.0L476.5,314.3L477.4,309.7L478.2,312.4L479.0,314.1L479.8,313.1L480.7,311.7L481.5,312.7L482.3,310.1L483.1,311.7L483.9,313.7L484.8,312.1L485.6,311.1L486.4,313.6L487.2,313.8L488.1,308.9L488.9,312.8L489.7,311.7L490.5,313.2L491.4,313.3L492.2,310.9L493.0,313.4L493.8,313.2L494.7,312.3L495.5,312.8L496.3,305.0L497.1,312.9L497.9,313.4L498.8,312.8L499.6,302.6L500.4,311.9L501.2,313.1L502.1,306.7L502.9,311.6L503.7,312.1L504.5,311.8L505.4,311.8L506.2,312.0L507.0,311.5L507.8,311.5L508.6,312.3L509.5,311.8L510.3,311.5L511.1,309.1L511.9,309.6L512.8,306.4L513.6,311.5L514.4,308.9L515.2,312.0L516.1,307.3L516.9,310.1L517.7,310.3L518.5,311.7L519.4,310.4L520.2,309.8L521.0,310.0L521.8,308.8L522.6,309.8L523.5,308.7L524.3,311.0L525.1,306.3L525.9,310.4L526.8,310.4L527.6,310.3L528.4,310.2L529.2,309.9L530.1,305.2L530.9,309.7L531.7,308.2L532.5,305.3L532.5,315.0L531.7,314.2L530.9,314.7L530.1,314.1L529.2,314.7L528.4,314.4L527.6,314.4L526.8,315.4L525.9,314.8L525.1,315.2L524.3,314.9L523.5,315.5L522.6,315.1L521.8,315.5L521.0,315.9L520.2,315.4L519.4,316.3L518.5,315.8L517.7,316.0L516.9,317.3L516.1,316.0L515.2,317.5L514.4,316.9L513.6,316.3L512.8,316.5L511.9,316.5L511.1,316.3L510.3,316.8L509.5,316.7L508.6,316.6L507.8,317.0L507.0,316.7L506.2,317.1L505.4,316.7L504.5,317.3L503.7,317.0L502.9,317.6L502.1,317.1L501.2,317.2L500.4,317.2L499.6,317.2L498.8,317.6L497.9,317.8L497.1,317.6L496.3,317.3L495.5,317.3L494.7,318.4L493.8,317.5L493.0,317.8L492.2,317.5L491.4,318.0L490.5,317.7L489.7,318.0L488.9,317.9L488.1,318.0L487.2,318.5L486.4,318.2L485.6,317.8L484.8,318.1L483.9,318.2L483.1,318.3L482.3,319.0L481.5,318.2L480.7,318.2L479.8,318.7L479.0,318.3L478.2,318.3L477.4,318.2L476.5,318.3L475.7,318.2L474.9,319.0L474.1,318.4L473.2,319.4L472.4,318.6L471.6,319.2L470.8,318.4L470.0,319.1L469.1,318.7L468.3,319.0L467.5,318.6L466.7,319.2L465.8,318.6L465.0,319.3L464.2,318.8L463.4,318.7L462.5,318.7L461.7,318.8L460.9,319.0L460.1,319.0L459.2,319.0L458.4,319.2L457.6,319.3L456.8,319.1L456.0,318.7L455.1,319.7L454.3,319.6L453.5,319.2L452.7,320.1L451.8,319.5L451.0,319.4L450.2,319.3L449.4,319.7L448.5,319.1L447.7,319.3L446.9,319.1L446.1,319.5L445.3,319.1L444.4,319.2L443.6,319.6L442.8,319.2L442.0,319.0L441.1,319.0L440.3,319.3L439.5,319.7L438.7,320.1L437.8,319.2L437.0,319.2L436.2,319.5L435.4,319.6L434.6,319.4L433.7,319.9L432.9,319.4L432.1,319.5L431.3,319.4L430.4,319.8L429.6,319.3L428.8,319.7L428.0,320.2L427.1,319.3L426.3,319.4L425.5,319.4L424.7,320.1L423.8,319.8L423.0,320.0L422.2,319.5L421.4,319.3L420.6,319.9L419.7,320.0L418.9,320.0L418.1,319.7L417.3,320.2L416.4,320.0L415.6,320.5L414.8,319.8L414.0,319.9L413.1,319.5L412.3,319.8L411.5,319.7L410.7,320.0L409.9,320.0L409.0,320.3L408.2,320.5L407.4,321.0L406.6,319.6L405.7,320.2L404.9,320.0L404.1,319.5L403.3,320.1L402.4,320.9L401.6,320.0L400.8,319.9L400.0,320.1L399.1,320.4L398.3,320.3L397.5,319.8Z" fill="#808080" fill-opacity="0.3" stroke="#808080" stroke-opacity="0.3" stroke-width="0.8"/><path d="M533.4,310.5L534.2,308.8L535.0,311.3L535.8,309.5L536.6,309.4L537.5,309.9L538.3,308.9L539.1,309.8L539.9,309.2L540.8,308.6L541.6,307.2L542.4,308.6L543.2,309.0L544.1,308.7L544.9,308.7L545.7,308.2L546.5,308.9L547.3,308.7L548.2,308.6L549.0,308.9L549.8,308.7L550.6,309.0L551.5,307.8L552.3,308.4L553.1,305.9L553.9,308.9L554.8,307.3L555.6,307.5L556.4,309.3L557.2,308.5L558.0,309.0L558.9,308.2L559.7,308.3L560.5,309.4L561.3,308.2L562.2,309.7L563.0,309.8L563.8,309.5L564.6,309.4L565.5,309.8L566.3,308.6L567.1,309.7L567.9,310.2L568.8,310.3L569.6,308.3L570.4,310.5L571.2,310.1L572.0,309.8L572.9,311.5L573.7,311.8L574.5,310.7L575.3,311.1L576.2,311.8L577.0,311.3L577.8,310.7L578.6,309.9L579.5,311.7L580.3,310.4L581.1,311.2L581.9,312.0L582.8,312.3L583.6,311.5L584.4,311.0L585.2,311.1L586.0,312.4L586.9,311.7L587.7,312.3L588.5,311.6L589.3,311.3L590.2,312.2L591.0,312.9L591.8,312.7L592.6,312.6L593.5,311.5L594.3,313.1L595.1,310.1L595.9,310.4L596.7,312.7L597.6,311.3L598.4,311.9L599.2,312.6L600.0,314.3L600.9,313.0L601.7,312.1L602.5,313.2L603.3,313.0L604.2,311.0L605.0,312.7L605.8,312.5L606.6,313.2L607.5,312.4L608.3,314.5L609.1,313.6L609.9,311.8L610.7,313.5L611.6,313.4L612.4,314.1L613.2,313.5L614.0,312.7L614.9,313.1L615.7,314.3L616.5,314.4L617.3,313.7L618.2,313.1L619.0,314.0L619.8,314.2L620.6,313.3L621.4,312.6L622.3,311.3L623.1,314.1L623.9,312.9L624.7,312.2L625.6,310.0L626.4,312.7L627.2,314.1L628.0,314.2L628.9,315.2L629.7,314.0L630.5,314.5L631.3,314.7L632.1,314.2L633.0,313.8L633.8,314.0L634.6,313.7L635.4,314.1L636.3,315.0L637.1,312.8L637.9,314.6L638.7,314.7L639.6,314.4L640.4,314.1L641.2,315.1L642.0,313.6L642.9,313.0L643.7,315.1L644.5,314.9L644.5,320.0L643.7,320.1L642.9,320.1L642.0,320.0L641.2,319.7L640.4,319.8L639.6,320.1L638.7,319.6L637.9,320.1L637.1,319.6L636.3,320.1L635.4,320.1L634.6,320.1L633.8,319.3L633.0,319.8L632.1,320.1L631.3,319.1L630.5,319.2L629.7,319.7L628.9,319.6L628.0,319.1L627.2,319.4L626.4,319.4L625.6,319.5L624.7,319.1L623.9,319.7L623.1,318.5L622.3,318.9L621.4,319.0L620.6,319.0L619.8,320.1L619.0,319.2L618.2,318.6L617.3,319.0L616.5,318.2L615.7,318.8L614.9,318.5L614.0,318.6L613.2,317.9L612.4,317.8L611.6,318.0L610.7,317.8L609.9,318.5L609.1,317.8L608.3,317.8L607.5,318.8L606.6,318.1L605.8,317.7L605.0,317.5L604.2,317.5L603.3,317.4L602.5,317.3L601.7,317.6L600.9,319.1L600.0,317.8L599.2,317.2L598.4,318.0L597.6,317.4L596.7,318.0L595.9,317.4L595.1,317.4L594.3,317.1L593.5,317.1L592.6,315.9L591.8,316.6L591.0,317.3L590.2,317.2L589.3,316.7L588.5,316.6L587.7,316.6L586.9,316.7L586.0,317.5L585.2,317.1L584.4,315.7L583.6,316.4L582.8,316.4L581.9,315.7L581.1,316.1L580.3,315.9L579.5,316.4L578.6,316.2L577.8,315.3L577.0,315.4L576.2,316.2L575.3,315.5L574.5,314.7L573.7,314.3L572.9,314.5L572.0,314.8L571.2,314.7L570.4,315.0L569.6,314.3L568.8,315.1L567.9,315.5L567.1,314.2L566.3,314.2L565.5,314.2L564.6,313.0L563.8,313.4L563.0,313.8L562.2,313.4L561.3,313.0L560.5,313.2L559.7,313.4L558.9,312.5L558.0,311.6L557.2,311.7L556.4,313.0L555.6,312.1L554.8,311.7L553.9,312.0L553.1,311.1L552.3,311.8L551.5,311.0L550.6,312.1L549.8,311.6L549.0,312.4L548.2,312.5L547.3,312.1L546.5,311.9L545.7,311.4L544.9,312.0L544.1,312.1L543.2,312.7L542.4,312.5L541.6,313.2L540.8,312.7L539.9,312.0L539.1,312.9L538.3,313.6L537.5,312.2L536.6,314.1L535.8,313.4L535.0,313.3L534.2,312.7L533.4,313.9Z" fill="#1e90ff" fill-opacity="0.2" stroke="#1e90ff" stroke-opacity="0.2" stroke-width="0.8"/><path d="M533.4,300.3L534.2,301.6L535.0,308.5L535.8,307.2L536.6,309.9L537.5,302.4L538.3,298.8L539.1,311.9L539.9,286.2L540.8,307.1L541.6,311.3L542.4,311.3L543.2,303.1L544.1,306.3L544.9,303.9L545.7,309.8L546.5,303.3L547.3,305.0L548.2,304.1L549.0,303.0L549.8,305.5L550.6,302.7L551.5,301.5L552.3,308.4L553.1,301.4L553.9,301.5L554.8,294.7L555.6,299.8L556.4,302.0L557.2,299.0L558.0,298.8L558.9,304.0L559.7,285.8L560.5,298.8L561.3,295.7L562.2,298.5L563.0,300.0L563.8,299.8L564.6,299.2L565.5,297.2L566.3,297.5L567.1,298.0L567.9,298.5L568.8,293.4L569.6,295.4L570.4,302.1L571.2,298.3L572.0,288.1L572.9,299.7L573.7,299.8L574.5,302.7L575.3,295.8L576.2,293.0L577.0,288.1L577.8,288.3L578.6,286.0L579.5,300.3L580.3,294.7L581.1,302.1L581.9,296.2L582.8,281.2L583.6,291.9L584.4,296.6L585.2,295.9L586.0,296.9L586.9,297.2L587.7,299.1L588.5,294.0L589.3,292.6L590.2,299.3L591.0,281.5L591.8,289.8L592.6,300.0L593.5,296.9L594.3,298.7L595.1,299.5L595.9,289.7L596.7,294.4L597.6,295.4L598.4,299.8L599.2,299.6L600.0,305.3L600.9,298.6L601.7,298.3L602.5,305.0L603.3,303.9L604.2,298.1L605.0,297.7L605.8,296.1L606.6,306.4L607.5,298.0L608.3,300.7L609.1,301.7L609.9,302.4L610.7,297.5L611.6,299.5L612.4,297.6L613.2,297.0L614.0,297.9L614.9,297.6L615.7,298.8L616.5,300.1L617.3,301.5L618.2,301.3L619.0,300.0L619.8,297.1L620.6,299.6L621.4,298.2L622.3,294.2L623.1,296.6L623.9,297.1L624.7,295.4L625.6,284.1L626.4,298.8L627.2,297.8L628.0,291.0L628.9,292.6L629.7,294.0L630.5,295.1L631.3,294.4L632.1,299.1L633.0,298.2L633.8,295.0L634.6,296.3L635.4,295.5L636.3,292.0L637.1,296.9L637.9,287.8L638.7,301.2L639.6,298.2L640.4,296.2L641.2,299.0L642.0,291.0L642.9,293.3L643.7,291.1L644.5,291.4L644.5,312.9L643.7,315.8L642.9,316.8L642.0,314.3L641.2,314.0L640.4,313.6L639.6,313.1L638.7,315.9L637.9,315.0L637.1,313.3L636.3,318.7L635.4,315.4L634.6,314.4L633.8,316.9L633.0,311.6L632.1,316.1L631.3,316.9L630.5,310.8L629.7,315.2L628.9,314.6L628.0,316.1L627.2,314.4L626.4,315.0L625.6,314.9L624.7,314.0L623.9,315.5L623.1,318.0L622.3,315.9L621.4,313.7L620.6,315.7L619.8,313.7L619.0,319.1L618.2,317.8L617.3,313.6L616.5,312.9L615.7,312.7L614.9,315.5L614.0,314.4L613.2,313.9L612.4,315.0L611.6,316.5L610.7,314.9L609.9,312.8L609.1,314.8L608.3,313.7L607.5,313.6L606.6,317.0L605.8,314.0L605.0,315.0L604.2,315.1L603.3,315.3L602.5,316.4L601.7,314.0L600.9,309.0L600.0,310.8L599.2,314.0L598.4,313.4L597.6,316.9L596.7,315.1L595.9,314.2L595.1,315.5L594.3,316.4L593.5,315.7L592.6,308.1L591.8,304.4L591.0,314.0L590.2,315.7L589.3,310.3L588.5,308.5L587.7,315.7L586.9,311.0L586.0,309.9L585.2,306.3L584.4,309.2L583.6,311.2L582.8,305.4L581.9,309.9L581.1,306.7L580.3,307.0L579.5,304.5L578.6,307.4L577.8,307.6L577.0,304.7L576.2,308.5L575.3,305.3L574.5,310.4L573.7,312.1L572.9,308.1L572.0,306.1L571.2,308.8L570.4,303.3L569.6,309.3L568.8,306.0L567.9,307.7L567.1,306.9L566.3,311.1L565.5,308.5L564.6,309.0L563.8,308.7L563.0,308.5L562.2,309.9L561.3,306.3L560.5,312.2L559.7,308.5L558.9,310.4L558.0,308.0L557.2,312.1L556.4,308.4L555.6,309.3L554.8,310.3L553.9,309.9L553.1,316.0L552.3,312.1L551.5,309.3L550.6,310.1L549.8,310.3L549.0,311.9L548.2,306.4L547.3,309.7L546.5,315.0L545.7,311.8L544.9,311.5L544.1,313.3L543.2,312.2L542.4,317.0L541.6,316.3L540.8,310.3L539.9,312.0L539.1,313.4L538.3,314.7L537.5,310.6L536.6,314.7L535.8,316.2L535.0,314.3L534.2,315.6L533.4,317.6Z" fill="#ff00ff" fill-opacity="0.2" stroke="#ff00ff" stroke-opacity="0.2" stroke-width="0.8"/><path d="M533.4,309.0L534.2,294.5L535.0,309.0L535.8,302.8L536.6,304.7L537.5,306.4L538.3,303.8L539.1,305.6L539.9,312.5L540.8,301.7L541.6,305.0L542.4,288.4L543.2,293.0L544.1,306.1L544.9,282.1L545.7,302.8L546.5,299.6L547.3,314.2L548.2,300.2L549.0,299.7L549.8,275.4L550.6,291.0L551.5,296.5L552.3,295.9L553.1,301.8L553.9,305.5L554.8,295.5L555.6,300.0L556.4,304.9L557.2,299.2L558.0,310.5L558.9,292.9L559.7,293.4L560.5,287.4L561.3,298.8L562.2,281.4L563.0,298.6L563.8,295.4L564.6,280.8L565.5,291.9L566.3,294.0L567.1,277.0L567.9,294.1L568.8,281.4L569.6,283.5L570.4,290.2L571.2,285.9L572.0,271.9L572.9,293.6L573.7,286.0L574.5,295.9L575.3,254.1L576.2,278.6L577.0,277.0L577.8,285.7L578.6,274.8L579.5,274.2L580.3,272.6L581.1,241.1L581.9,277.4L582.8,264.3L583.6,267.7L584.4,270.6L585.2,271.9L586.0,270.9L586.9,268.9L587.7,268.2L588.5,267.9L589.3,267.7L590.2,271.1L591.0,269.4L591.8,261.4L592.6,267.9L593.5,252.4L594.3,249.7L595.1,259.5L595.9,257.7L596.7,260.2L597.6,261.4L598.4,252.5L599.2,248.6L600.0,266.0L600.9,252.1L601.7,243.7L602.5,247.2L603.3,252.1L604.2,246.7L605.0,241.3L605.8,241.4L606.6,244.0L607.5,243.4L608.3,238.0L609.1,232.0L609.9,243.3L610.7,239.2L611.6,239.5L612.4,235.3L613.2,232.7L614.0,240.7L614.9,234.4L615.7,232.9L616.5,245.3L617.3,232.6L618.2,236.5L619.0,245.6L619.8,235.5L620.6,236.2L621.4,231.3L622.3,235.7L623.1,241.4L623.9,240.9L624.7,245.1L625.6,241.1L626.4,239.5L627.2,233.4L628.0,237.9L628.9,248.7L629.7,232.8L630.5,240.1L631.3,225.2L632.1,231.8L633.0,223.7L633.8,245.5L634.6,229.1L635.4,220.7L636.3,234.6L637.1,235.9L637.9,226.7L638.7,209.4L639.6,222.7L640.4,227.8L641.2,202.9L642.0,220.9L642.9,222.0L643.7,216.5L644.5,216.7L644.5,286.1L643.7,281.2L642.9,285.5L642.0,285.2L641.2,281.5L640.4,283.4L639.6,286.7L638.7,282.8L637.9,281.5L637.1,286.8L636.3,296.7L635.4,285.5L634.6,283.5L633.8,288.3L633.0,285.5L632.1,291.4L631.3,297.1L630.5,286.6L629.7,289.8L628.9,290.9L628.0,283.0L627.2,290.9L626.4,289.9L625.6,292.8L624.7,294.3L623.9,291.3L623.1,295.2L622.3,289.8L621.4,292.1L620.6,279.8L619.8,290.7L619.0,282.4L618.2,289.0L617.3,287.0L616.5,288.4L615.7,287.7L614.9,286.5L614.0,285.4L613.2,294.5L612.4,294.6L611.6,290.0L610.7,290.1L609.9,290.5L609.1,288.0L608.3,293.2L607.5,281.0L606.6,298.8L605.8,295.8L605.0,291.0L604.2,293.0L603.3,298.7L602.5,291.2L601.7,296.6L600.9,288.9L600.0,300.1L599.2,292.5L598.4,293.4L597.6,287.6L596.7,304.0L595.9,304.1L595.1,300.0L594.3,292.9L593.5,303.1L592.6,298.6L591.8,307.7L591.0,302.0L590.2,308.9L589.3,302.5L588.5,306.4L587.7,309.1L586.9,308.6L586.0,304.8L585.2,313.4L584.4,294.4L583.6,303.0L582.8,310.2L581.9,310.4L581.1,302.0L580.3,307.7L579.5,307.0L578.6,304.0L577.8,310.5L577.0,312.7L576.2,311.3L575.3,318.4L574.5,318.5L573.7,312.8L572.9,319.7L572.0,314.8L571.2,317.3L570.4,320.1L569.6,316.1L568.8,320.1L567.9,318.4L567.1,312.4L566.3,313.7L565.5,314.6L564.6,320.1L563.8,320.1L563.0,317.7L562.2,320.1L561.3,320.1L560.5,320.1L559.7,319.9L558.9,310.9L558.0,320.1L557.2,312.0L556.4,320.1L555.6,318.5L554.8,320.1L553.9,320.1L553.1,314.2L552.3,317.9L551.5,320.1L550.6,320.1L549.8,315.2L549.0,310.3L548.2,320.1L547.3,308.2L546.5,320.1L545.7,312.1L544.9,318.5L544.1,320.1L543.2,316.6L542.4,309.9L541.6,317.3L540.8,320.1L539.9,317.3L539.1,311.4L538.3,311.5L537.5,310.4L536.6,317.2L535.8,313.8L535.0,320.1L534.2,317.2L533.4,315.7Z" fill="#ff6347" fill-opacity="0.2" stroke="#ff6347" stroke-opacity="0.2" stroke-width="0.8"/><path d="M533.4,305.8L534.2,308.9L535.0,315.7L535.8,310.5L536.6,301.8L537.5,302.2L538.3,299.0L539.1,307.1L539.9,298.9L540.8,289.8L541.6,296.1L542.4,305.2L543.2,306.1L544.1,308.2L544.9,307.7L545.7,296.8L546.5,309.8L547.3,292.8L548.2,285.1L549.0,287.6L549.8,288.7L550.6,304.5L551.5,301.6L552.3,302.9L553.1,297.3L553.9,296.4L554.8,300.6L555.6,288.6L556.4,295.6L557.2,284.5L558.0,303.6L558.9,297.4L559.7,303.2L560.5,298.5L561.3,285.0L562.2,269.3L563.0,275.3L563.8,286.2L564.6,279.4L565.5,291.6L566.3,264.8L567.1,280.8L567.9,281.7L568.8,286.1L569.6,272.1L570.4,255.4L571.2,263.1L572.0,276.3L572.9,272.1L573.7,245.4L574.5,244.9L575.3,256.1L576.2,261.1L577.0,262.3L577.8,257.1L578.6,270.6L579.5,253.1L580.3,264.7L581.1,266.1L581.9,253.3L582.8,250.5L583.6,258.5L584.4,246.0L585.2,249.2L586.0,250.1L586.9,259.0L587.7,243.1L588.5,258.0L589.3,249.9L590.2,229.2L591.0,235.8L591.8,239.0L592.6,235.2L593.5,226.6L594.3,226.5L595.1,219.1L595.9,227.3L596.7,232.1L597.6,239.4L598.4,233.8L599.2,222.2L600.0,226.3L600.9,209.3L601.7,227.1L602.5,233.2L603.3,222.9L604.2,226.7L605.0,228.6L605.8,221.7L606.6,214.7L607.5,216.1L608.3,208.3L609.1,216.6L609.9,201.4L610.7,234.6L611.6,226.9L612.4,224.5L613.2,209.5L614.0,221.7L614.9,217.1L615.7,206.1L616.5,210.0L617.3,216.6L618.2,211.9L619.0,209.7L619.8,200.8L620.6,215.4L621.4,210.2L622.3,198.0L623.1,197.4L623.9,196.9L624.7,201.5L625.6,195.4L626.4,204.9L627.2,190.1L628.0,201.4L628.9,206.3L629.7,201.3L630.5,204.7L631.3,188.3L632.1,182.1L633.0,196.6L633.8,192.7L634.6,189.5L635.4,203.1L636.3,185.8L637.1,197.1L637.9,191.4L638.7,199.2L639.6,187.6L640.4,181.6L641.2,179.5L642.0,185.7L642.9,184.9L643.7,179.3L644.5,182.3L644.5,234.0L643.7,240.2L642.9,235.1L642.0,241.0L641.2,253.8L640.4,253.3L639.6,248.1L638.7,246.7L637.9,246.7L637.1,246.1L636.3,243.0L635.4,250.6L634.6,256.3L633.8,244.7L633.0,241.6L632.1,256.8L631.3,259.3L630.5,262.9L629.7,248.6L628.9,245.1L628.0,262.0L627.2,253.1L626.4,258.9L625.6,257.3L624.7,249.0L623.9,253.9L623.1,250.5L622.3,250.9L621.4,249.8L620.6,259.0L619.8,251.3L619.0,257.7L618.2,264.3L617.3,241.5L616.5,267.2L615.7,261.4L614.9,257.5L614.0,250.9L613.2,253.7L612.4,256.6L611.6,258.0L610.7,261.6L609.9,260.9L609.1,264.9L608.3,266.5L607.5,269.0L606.6,268.6L605.8,260.9L605.0,264.3L604.2,262.1L603.3,271.5L602.5,260.9L601.7,275.3L600.9,271.4L600.0,273.6L599.2,266.8L598.4,268.8L597.6,277.7L596.7,272.5L595.9,278.1L595.1,265.5L594.3,272.6L593.5,268.9L592.6,281.0L591.8,273.1L591.0,284.1L590.2,271.7L589.3,288.3L588.5,276.4L587.7,289.6L586.9,283.4L586.0,282.3L585.2,283.5L584.4,284.5L583.6,283.1L582.8,284.5L581.9,293.0L581.1,286.4L580.3,294.6L579.5,287.0L578.6,284.1L577.8,286.6L577.0,308.3L576.2,299.1L575.3,297.5L574.5,295.6L573.7,290.6L572.9,295.6L572.0,300.8L571.2,296.2L570.4,297.4L569.6,303.1L568.8,304.7L567.9,320.1L567.1,313.0L566.3,315.6L565.5,304.4L564.6,310.6L563.8,312.5L563.0,315.5L562.2,309.4L561.3,312.1L560.5,303.3L559.7,319.9L558.9,307.3L558.0,309.6L557.2,311.6L556.4,308.4L555.6,314.1L554.8,315.1L553.9,310.4L553.1,307.3L552.3,320.1L551.5,311.0L550.6,320.1L549.8,309.9L549.0,316.2L548.2,309.0L547.3,303.9L546.5,317.3L545.7,311.0L544.9,312.7L544.1,313.2L543.2,320.1L542.4,311.8L541.6,320.1L540.8,320.1L539.9,320.1L539.1,316.3L538.3,319.4L537.5,316.4L536.6,316.3L535.8,320.1L535.0,320.1L534.2,306.0L533.4,320.1Z" fill="#ffa500" fill-opacity="0.2" stroke="#ffa500" stroke-opacity="0.2" stroke-width="0.8"/><path d="M397.5,318.2L398.3,318.1L399.1,318.4L400.0,318.6L400.8,318.7L401.6,317.6L402.4,317.3L403.3,317.6L404.1,317.7L404.9,317.7L405.7,317.9L406.6,317.3L407.4,318.2L408.2,317.3L409.0,317.9L409.9,317.8L410.7,318.4L411.5,317.7L412.3,316.5L413.1,317.8L414.0,318.0L414.8,317.5L415.6,317.2L416.4,317.2L417.3,318.1L418.1,318.3L418.9,318.3L419.7,317.7L420.6,318.7L421.4,316.9L422.2,318.0L423.0,317.8L423.8,316.8L424.7,318.2L425.5,317.6L426.3,318.0L427.1,317.3L428.0,317.9L428.8,317.4L429.6,318.0L430.4,317.0L431.3,317.8L432.1,318.2L432.9,317.4L433.7,318.6L434.6,316.7L435.4,317.2L436.2,317.3L437.0,317.4L437.8,316.8L438.7,317.4L439.5,317.5L440.3,317.7L441.1,317.3L442.0,316.5L442.8,317.9L443.6,316.9L444.4,317.2L445.3,317.1L446.1,316.5L446.9,316.9L447.7,317.8L448.5,317.3L449.4,318.0L450.2,317.2L451.0,317.8L451.8,316.4L452.7,317.0L453.5,318.5L454.3,316.5L455.1,317.4L456.0,317.5L456.8,316.5L457.6,316.0L458.4,316.0L459.2,317.4L460.1,317.6L460.9,316.3L461.7,316.8L462.5,317.6L463.4,316.1L464.2,317.0L465.0,316.8L465.8,317.6L466.7,316.9L467.5,317.0L468.3,316.9L469.1,317.3L470.0,317.2L470.8,316.6L471.6,316.9L472.4,316.7L473.2,316.6L474.1,316.5L474.9,316.2L475.7,316.4L476.5,315.7L477.4,316.1L478.2,316.9L479.0,316.6L479.8,316.3L480.7,316.6L481.5,315.8L482.3,317.3L483.1,316.1L483.9,316.0L484.8,316.9L485.6,316.9L486.4,315.0L487.2,315.9L488.1,315.9L488.9,316.5L489.7,315.6L490.5,316.2L491.4,316.2L492.2,315.6L493.0,315.2L493.8,315.8L494.7,316.5L495.5,315.7L496.3,316.4L497.1,315.0L497.9,315.8L498.8,316.0L499.6,315.9L500.4,315.5L501.2,315.0L502.1,314.6L502.9,314.9L503.7,315.9L504.5,315.6L505.4,314.8L506.2,315.3L507.0,314.8L507.8,315.5L508.6,315.8L509.5,314.8L510.3,314.5L511.1,313.9L511.9,314.6L512.8,314.3L513.6,313.5L514.4,313.8L515.2,314.3L516.1,314.6L516.9,313.7L517.7,314.3L518.5,313.1L519.4,313.5L520.2,313.4L521.0,312.7L521.8,313.4L522.6,313.1L523.5,313.6L524.3,313.2L525.1,313.0L525.9,313.0L526.8,312.2L527.6,313.0L528.4,312.4L529.2,313.1L530.1,312.7L530.9,313.8L531.7,312.0L532.5,312.2" fill="none" stroke="#000" stroke-width="1.2" stroke-linejoin="round" stroke-linecap="butt"/><path d="M533.4,311.6L534.2,311.1L535.0,312.9L535.8,311.1L536.6,311.5L537.5,310.9L538.3,311.8L539.1,312.3L539.9,310.2L540.8,310.1L541.6,310.9L542.4,310.0L543.2,311.2L544.1,309.7L544.9,310.4L545.7,310.3L546.5,310.1L547.3,310.7L548.2,310.6L549.0,309.0L549.8,310.3L550.6,308.9L551.5,310.9L552.3,309.8L553.1,310.0L553.9,309.6L554.8,310.4L555.6,310.0L556.4,311.4L557.2,310.8L558.0,311.3L558.9,310.9L559.7,309.9L560.5,310.1L561.3,310.5L562.2,312.2L563.0,311.3L563.8,312.2L564.6,311.7L565.5,312.1L566.3,313.1L567.1,312.3L567.9,312.4L568.8,311.6L569.6,313.6L570.4,312.1L571.2,313.6L572.0,312.0L572.9,311.6L573.7,313.8L574.5,314.0L575.3,313.7L576.2,312.6L577.0,313.7L577.8,313.6L578.6,314.4L579.5,311.7L580.3,314.6L581.1,314.1L581.9,313.9L582.8,314.1L583.6,313.5L584.4,313.8L585.2,313.1L586.0,314.1L586.9,314.2L587.7,313.8L588.5,315.1L589.3,314.8L590.2,314.7L591.0,314.6L591.8,314.7L592.6,316.0L593.5,314.5L594.3,315.9L595.1,316.3L595.9,315.0L596.7,314.9L597.6,313.5L598.4,316.4L599.2,315.6L600.0,316.0L600.9,316.2L601.7,316.8L602.5,316.6L603.3,316.4L604.2,314.7L605.0,317.2L605.8,315.3L606.6,316.0L607.5,316.7L608.3,315.6L609.1,316.4L609.9,315.8L610.7,316.9L611.6,316.2L612.4,316.4L613.2,316.0L614.0,317.7L614.9,316.4L615.7,316.9L616.5,317.2L617.3,315.9L618.2,316.7L619.0,316.3L619.8,315.8L620.6,317.0L621.4,317.3L622.3,317.2L623.1,318.0L623.9,316.4L624.7,317.1L625.6,316.7L626.4,317.3L627.2,317.0L628.0,316.0L628.9,316.5L629.7,317.2L630.5,317.2L631.3,317.4L632.1,315.9L633.0,316.9L633.8,315.9L634.6,319.1L635.4,318.0L636.3,318.1L637.1,318.0L637.9,316.9L638.7,317.5L639.6,317.2L640.4,317.5L641.2,318.3L642.0,318.8L642.9,316.9L643.7,316.4L644.5,317.2" fill="none" stroke="#1e90ff" stroke-width="1.5" stroke-linejoin="round" stroke-linecap="butt"/><path d="M533.4,313.1L534.2,311.7L535.0,312.1L535.8,311.4L536.6,311.1L537.5,309.8L538.3,311.8L539.1,309.6L539.9,312.4L540.8,309.9L541.6,312.3L542.4,311.4L543.2,309.3L544.1,310.9L544.9,309.5L545.7,309.7L546.5,307.3L547.3,311.3L548.2,309.6L549.0,308.9L549.8,306.8L550.6,308.3L551.5,308.7L552.3,310.0L553.1,308.4L553.9,308.5L554.8,309.8L555.6,307.2L556.4,307.8L557.2,308.7L558.0,304.9L558.9,304.5L559.7,308.0L560.5,302.9L561.3,304.2L562.2,304.4L563.0,304.6L563.8,304.6L564.6,304.5L565.5,306.1L566.3,306.3L567.1,304.0L567.9,305.0L568.8,302.8L569.6,306.0L570.4,304.4L571.2,306.3L572.0,306.3L572.9,307.0L573.7,303.5L574.5,306.2L575.3,305.8L576.2,306.5L577.0,304.2L577.8,306.3L578.6,306.4L579.5,306.3L580.3,305.5L581.1,303.6L581.9,308.2L582.8,305.2L583.6,305.4L584.4,305.0L585.2,307.0L586.0,308.0L586.9,307.4L587.7,306.5L588.5,307.0L589.3,309.0L590.2,309.2L591.0,308.0L591.8,306.8L592.6,308.8L593.5,307.9L594.3,309.7L595.1,308.7L595.9,310.0L596.7,309.2L597.6,310.6L598.4,308.9L599.2,308.7L600.0,309.7L600.9,311.0L601.7,309.3L602.5,309.5L603.3,309.4L604.2,310.0L605.0,309.0L605.8,312.1L606.6,310.0L607.5,310.9L608.3,309.6L609.1,311.1L609.9,310.9L610.7,311.7L611.6,311.1L612.4,310.3L613.2,310.7L614.0,312.2L614.9,311.6L615.7,310.8L616.5,313.0L617.3,310.6L618.2,309.9L619.0,313.0L619.8,312.4L620.6,311.1L621.4,312.9L622.3,311.7L623.1,311.0L623.9,309.5L624.7,310.8L625.6,309.6L626.4,311.2L627.2,310.4L628.0,310.5L628.9,311.4L629.7,311.0L630.5,311.2L631.3,310.2L632.1,312.1L633.0,311.4L633.8,312.4L634.6,309.8L635.4,310.9L636.3,313.7L637.1,308.9L637.9,311.1L638.7,310.9L639.6,311.7L640.4,312.5L641.2,312.1L642.0,310.7L642.9,312.6L643.7,309.9L644.5,313.9" fill="none" stroke="#ff00ff" stroke-width="1.5" stroke-linejoin="round" stroke-linecap="butt"/><path d="M533.4,315.0L534.2,311.3L535.0,312.0L535.8,310.2L536.6,312.4L537.5,309.9L538.3,314.1L539.1,311.3L539.9,312.3L540.8,314.7L541.6,312.8L542.4,309.9L543.2,308.6L544.1,309.2L544.9,310.6L545.7,312.4L546.5,314.8L547.3,311.1L548.2,307.3L549.0,308.2L549.8,305.8L550.6,310.1L551.5,310.4L552.3,305.6L553.1,308.5L553.9,307.6L554.8,307.5L555.6,305.2L556.4,304.0L557.2,309.2L558.0,309.3L558.9,306.7L559.7,302.2L560.5,304.0L561.3,305.7L562.2,304.7L563.0,302.7L563.8,306.8L564.6,306.3L565.5,305.4L566.3,303.6L567.1,304.7L567.9,302.7L568.8,301.1L569.6,302.5L570.4,300.5L571.2,299.1L572.0,300.9L572.9,302.3L573.7,300.2L574.5,295.7L575.3,297.2L576.2,295.8L577.0,294.3L577.8,297.3L578.6,298.5L579.5,291.8L580.3,294.4L581.1,292.2L581.9,295.0L582.8,286.6L583.6,289.5L584.4,291.1L585.2,293.8L586.0,288.7L586.9,284.9L587.7,286.7L588.5,279.0L589.3,280.8L590.2,280.9L591.0,277.9L591.8,280.0L592.6,278.9L593.5,274.9L594.3,275.2L595.1,274.4L595.9,274.6L596.7,274.0L597.6,270.4L598.4,272.8L599.2,270.3L600.0,270.4L600.9,268.0L601.7,263.9L602.5,269.0L603.3,267.1L604.2,267.1L605.0,268.3L605.8,261.0L606.6,260.4L607.5,262.8L608.3,259.1L609.1,261.2L609.9,259.8L610.7,261.1L611.6,261.5L612.4,259.2L613.2,260.3L614.0,259.6L614.9,253.4L615.7,258.1L616.5,260.3L617.3,260.2L618.2,258.2L619.0,255.6L619.8,261.2L620.6,257.2L621.4,257.2L622.3,257.8L623.1,258.9L623.9,249.7L624.7,256.2L625.6,258.3L626.4,256.2L627.2,251.5L628.0,260.2L628.9,256.1L629.7,255.1L630.5,254.4L631.3,253.7L632.1,254.1L633.0,252.1L633.8,255.5L634.6,252.4L635.4,255.6L636.3,252.2L637.1,257.8L637.9,251.5L638.7,253.7L639.6,253.1L640.4,245.6L641.2,250.7L642.0,246.5L642.9,248.6L643.7,246.7L644.5,243.0" fill="none" stroke="#ff6347" stroke-width="1.5" stroke-linejoin="round" stroke-linecap="butt"/><path d="M533.4,315.8L534.2,315.6L535.0,312.8L535.8,310.5L536.6,307.1L537.5,313.1L538.3,308.3L539.1,308.9L539.9,310.6L540.8,311.4L541.6,316.6L542.4,307.3L543.2,306.5L544.1,313.6L544.9,311.7L545.7,308.2L546.5,310.2L547.3,307.4L548.2,309.1L549.0,312.8L549.8,310.5L550.6,309.0L551.5,308.9L552.3,308.9L553.1,305.8L553.9,300.9L554.8,308.0L555.6,302.9L556.4,305.9L557.2,309.4L558.0,301.7L558.9,301.1L559.7,299.4L560.5,304.8L561.3,297.9L562.2,303.1L563.0,298.4L563.8,294.2L564.6,298.4L565.5,300.1L566.3,295.0L567.1,300.1L567.9,296.8L568.8,288.9L569.6,291.2L570.4,292.9L571.2,293.6L572.0,284.7L572.9,291.8L573.7,290.7L574.5,290.1L575.3,286.8L576.2,287.0L577.0,283.9L577.8,278.5L578.6,285.7L579.5,273.3L580.3,279.2L581.1,277.2L581.9,275.2L582.8,282.6L583.6,274.2L584.4,271.7L585.2,272.7L586.0,270.8L586.9,269.8L587.7,270.2L588.5,265.2L589.3,260.4L590.2,270.1L591.0,267.4L591.8,265.4L592.6,257.6L593.5,265.1L594.3,255.7L595.1,259.8L595.9,254.2L596.7,255.4L597.6,251.0L598.4,260.9L599.2,256.9L600.0,254.9L600.9,252.4L601.7,247.1L602.5,249.4L603.3,248.1L604.2,248.9L605.0,249.5L605.8,246.0L606.6,244.0L607.5,247.6L608.3,246.2L609.1,246.6L609.9,243.2L610.7,243.3L611.6,244.3L612.4,241.5L613.2,242.2L614.0,241.6L614.9,235.5L615.7,242.0L616.5,242.4L617.3,239.4L618.2,241.8L619.0,236.0L619.8,236.8L620.6,241.1L621.4,236.3L622.3,240.8L623.1,236.2L623.9,235.6L624.7,231.0L625.6,233.4L626.4,232.8L627.2,232.6L628.0,234.1L628.9,233.2L629.7,229.4L630.5,230.5L631.3,240.3L632.1,226.6L633.0,230.0L633.8,226.9L634.6,230.8L635.4,233.6L636.3,228.6L637.1,232.6L637.9,236.1L638.7,230.2L639.6,227.3L640.4,224.9L641.2,221.9L642.0,224.2L642.9,219.7L643.7,218.7L644.5,213.3" fill="none" stroke="#ffa500" stroke-width="1.5" stroke-linejoin="round" stroke-linecap="butt"/></g>
<clipPath id="clipg"><rect x="397.5" y="328.7" width="247.0" height="154.8"/></clipPath><g clip-path="url(#clipg)"><path d="M397.5,467.3L398.3,467.1L399.1,465.8L400.0,465.0L400.8,466.0L401.6,463.0L402.4,461.9L403.3,464.4L404.1,464.3L404.9,463.2L405.7,462.6L406.6,463.8L407.4,464.7L408.2,464.0L409.0,464.3L409.9,464.7L410.7,463.8L411.5,462.7L412.3,465.0L413.1,466.3L414.0,464.9L414.8,463.5L415.6,463.2L416.4,463.1L417.3,463.5L418.1,464.7L418.9,464.4L419.7,462.6L420.6,463.4L421.4,465.0L422.2,465.0L423.0,464.7L423.8,463.1L424.7,463.0L425.5,464.1L426.3,464.4L427.1,465.4L428.0,465.2L428.8,466.7L429.6,466.2L430.4,464.1L431.3,463.8L432.1,463.2L432.9,463.7L433.7,464.5L434.6,463.6L435.4,461.9L436.2,463.9L437.0,464.6L437.8,461.9L438.7,461.7L439.5,464.0L440.3,465.8L441.1,463.6L442.0,463.0L442.8,466.0L443.6,463.7L444.4,461.2L445.3,462.0L446.1,462.1L446.9,462.2L447.7,462.0L448.5,461.7L449.4,461.9L450.2,461.8L451.0,461.4L451.8,461.9L452.7,462.2L453.5,463.1L454.3,463.6L455.1,460.7L456.0,460.4L456.8,461.9L457.6,462.1L458.4,460.8L459.2,461.1L460.1,460.1L460.9,459.3L461.7,460.4L462.5,458.4L463.4,456.8L464.2,459.2L465.0,461.6L465.8,461.4L466.7,460.5L467.5,459.0L468.3,459.9L469.1,460.8L470.0,461.2L470.8,459.8L471.6,457.4L472.4,460.8L473.2,461.7L474.1,459.7L474.9,459.6L475.7,459.1L476.5,459.1L477.4,458.8L478.2,458.9L479.0,458.0L479.8,456.7L480.7,460.0L481.5,459.9L482.3,457.5L483.1,459.4L483.9,459.7L484.8,458.0L485.6,456.5L486.4,455.5L487.2,456.8L488.1,457.9L488.9,456.3L489.7,455.8L490.5,457.1L491.4,458.9L492.2,457.8L493.0,455.4L493.8,456.1L494.7,456.2L495.5,457.1L496.3,456.5L497.1,453.5L497.9,452.7L498.8,454.6L499.6,456.1L500.4,455.6L501.2,455.1L502.1,453.9L502.9,452.5L503.7,453.4L504.5,454.5L505.4,454.7L506.2,451.8L507.0,451.5L507.8,452.2L508.6,450.7L509.5,451.4L510.3,450.9L511.1,451.7L511.9,451.0L512.8,451.5L513.6,452.4L514.4,449.6L515.2,448.8L516.1,450.8L516.9,451.4L517.7,450.6L518.5,448.0L519.4,447.2L520.2,448.5L521.0,447.7L521.8,446.4L522.6,446.9L523.5,447.6L524.3,448.3L525.1,448.4L525.9,449.1L526.8,448.6L527.6,446.1L528.4,447.3L529.2,448.5L530.1,448.1L530.9,449.0L531.7,447.5L532.5,446.7L532.5,453.5L531.7,453.1L530.9,453.6L530.1,453.5L529.2,453.2L528.4,453.4L527.6,453.5L526.8,453.6L525.9,453.5L525.1,454.0L524.3,454.6L523.5,454.2L522.6,454.6L521.8,455.0L521.0,455.0L520.2,454.6L519.4,455.2L518.5,455.5L517.7,456.8L516.9,456.8L516.1,456.3L515.2,456.4L514.4,456.6L513.6,456.9L512.8,457.5L511.9,457.8L511.1,458.8L510.3,458.3L509.5,458.2L508.6,458.6L507.8,458.8L507.0,459.2L506.2,459.0L505.4,459.3L504.5,459.3L503.7,460.3L502.9,459.9L502.1,461.6L501.2,460.5L500.4,462.2L499.6,462.3L498.8,462.0L497.9,461.1L497.1,461.6L496.3,461.8L495.5,462.0L494.7,462.0L493.8,462.2L493.0,462.8L492.2,462.4L491.4,462.6L490.5,463.0L489.7,463.1L488.9,464.1L488.1,463.4L487.2,463.9L486.4,464.6L485.6,464.1L484.8,464.3L483.9,464.8L483.1,465.8L482.3,464.6L481.5,466.3L480.7,465.4L479.8,465.3L479.0,465.1L478.2,466.2L477.4,466.3L476.5,466.6L475.7,465.6L474.9,466.3L474.1,467.2L473.2,467.3L472.4,467.2L471.6,466.2L470.8,466.6L470.0,467.0L469.1,466.7L468.3,466.6L467.5,466.5L466.7,467.1L465.8,466.8L465.0,466.5L464.2,466.8L463.4,467.1L462.5,466.7L461.7,467.8L460.9,467.6L460.1,468.3L459.2,468.4L458.4,467.5L457.6,467.7L456.8,468.0L456.0,467.5L455.1,467.8L454.3,467.9L453.5,468.0L452.7,468.2L451.8,469.0L451.0,468.9L450.2,468.0L449.4,469.4L448.5,469.5L447.7,469.0L446.9,469.3L446.1,468.7L445.3,468.6L444.4,469.1L443.6,468.8L442.8,470.1L442.0,470.9L441.1,470.1L440.3,470.1L439.5,469.2L438.7,470.8L437.8,469.8L437.0,470.4L436.2,470.4L435.4,469.6L434.6,469.8L433.7,469.9L432.9,470.1L432.1,469.8L431.3,470.7L430.4,471.4L429.6,470.3L428.8,470.1L428.0,470.6L427.1,470.4L426.3,470.5L425.5,470.1L424.7,470.8L423.8,471.8L423.0,470.6L422.2,470.1L421.4,470.5L420.6,470.3L419.7,470.9L418.9,471.3L418.1,470.1L417.3,470.1L416.4,470.6L415.6,470.9L414.8,470.6L414.0,470.2L413.1,470.5L412.3,470.7L411.5,470.5L410.7,471.7L409.9,471.1L409.0,470.6L408.2,470.3L407.4,470.6L406.6,471.7L405.7,470.7L404.9,470.9L404.1,470.4L403.3,470.7L402.4,471.3L401.6,471.5L400.8,470.9L400.0,470.2L399.1,470.4L398.3,470.3L397.5,470.4Z" fill="#808080" fill-opacity="0.3" stroke="#808080" stroke-opacity="0.3" stroke-width="0.8"/><path d="M533.4,448.4L534.2,448.4L535.0,447.8L535.8,446.5L536.6,446.4L537.5,445.7L538.3,445.3L539.1,445.0L539.9,444.5L540.8,444.7L541.6,444.5L542.4,443.5L543.2,443.9L544.1,442.3L544.9,440.8L545.7,441.2L546.5,440.9L547.3,440.5L548.2,439.3L549.0,438.6L549.8,437.6L550.6,439.5L551.5,437.7L552.3,433.5L553.1,435.3L553.9,436.5L554.8,437.2L555.6,438.6L556.4,436.1L557.2,430.8L558.0,432.2L558.9,433.8L559.7,437.3L560.5,439.0L561.3,434.1L562.2,434.1L563.0,432.3L563.8,430.5L564.6,434.1L565.5,431.6L566.3,431.9L567.1,431.8L567.9,427.2L568.8,428.1L569.6,427.3L570.4,430.5L571.2,433.4L572.0,430.3L572.9,429.3L573.7,427.8L574.5,427.3L575.3,431.4L576.2,434.4L577.0,432.0L577.8,431.7L578.6,433.2L579.5,433.8L580.3,432.8L581.1,430.3L581.9,434.2L582.8,436.3L583.6,434.3L584.4,434.0L585.2,434.0L586.0,434.1L586.9,435.5L587.7,434.7L588.5,434.6L589.3,439.0L590.2,439.0L591.0,435.7L591.8,433.7L592.6,436.2L593.5,437.4L594.3,436.1L595.1,434.4L595.9,434.3L596.7,436.7L597.6,433.9L598.4,436.1L599.2,444.3L600.0,447.0L600.9,445.4L601.7,443.1L602.5,442.7L603.3,440.1L604.2,438.2L605.0,440.0L605.8,440.3L606.6,443.4L607.5,439.2L608.3,434.8L609.1,437.7L609.9,440.2L610.7,444.0L611.6,445.7L612.4,441.6L613.2,438.2L614.0,440.7L614.9,444.0L615.7,443.9L616.5,442.0L617.3,444.0L618.2,445.8L619.0,445.6L619.8,445.7L620.6,447.4L621.4,448.8L622.3,443.6L623.1,439.9L623.9,442.9L624.7,445.6L625.6,447.1L626.4,449.0L627.2,447.6L628.0,447.2L628.9,446.7L629.7,448.4L630.5,450.0L631.3,447.8L632.1,449.5L633.0,449.0L633.8,447.5L634.6,443.6L635.4,444.8L636.3,447.2L637.1,447.6L637.9,450.6L638.7,450.0L639.6,449.7L640.4,451.5L641.2,452.1L642.0,451.6L642.9,447.7L643.7,448.1L644.5,453.9L644.5,463.4L643.7,464.0L642.9,465.6L642.0,471.8L641.2,469.0L640.4,462.6L639.6,462.3L638.7,463.0L637.9,464.1L637.1,463.9L636.3,459.3L635.4,459.9L634.6,461.8L633.8,463.5L633.0,461.3L632.1,458.7L631.3,459.4L630.5,457.7L629.7,455.6L628.9,456.2L628.0,456.3L627.2,458.0L626.4,457.3L625.6,457.5L624.7,458.0L623.9,453.8L623.1,456.0L622.3,458.8L621.4,456.6L620.6,457.1L619.8,458.4L619.0,456.7L618.2,455.4L617.3,458.3L616.5,461.3L615.7,455.0L614.9,455.1L614.0,458.8L613.2,456.6L612.4,458.6L611.6,457.5L610.7,456.2L609.9,455.8L609.1,451.8L608.3,453.1L607.5,457.4L606.6,457.2L605.8,454.5L605.0,452.7L604.2,452.4L603.3,452.1L602.5,449.7L601.7,448.9L600.9,447.7L600.0,450.6L599.2,452.4L598.4,449.9L597.6,448.5L596.7,445.4L595.9,445.6L595.1,450.3L594.3,452.4L593.5,450.3L592.6,446.8L591.8,446.2L591.0,445.6L590.2,445.7L589.3,449.0L588.5,448.5L587.7,447.8L586.9,445.2L586.0,442.2L585.2,443.7L584.4,445.9L583.6,442.5L582.8,441.4L581.9,443.0L581.1,440.3L580.3,439.1L579.5,439.5L578.6,443.6L577.8,446.9L577.0,447.6L576.2,446.4L575.3,445.3L574.5,446.5L573.7,445.2L572.9,441.2L572.0,441.9L571.2,443.8L570.4,442.1L569.6,443.7L568.8,444.7L567.9,443.4L567.1,441.9L566.3,442.7L565.5,442.3L564.6,443.6L563.8,446.7L563.0,444.0L562.2,444.4L561.3,445.9L560.5,442.5L559.7,442.8L558.9,448.2L558.0,447.8L557.2,447.4L556.4,450.3L555.6,447.0L554.8,447.4L553.9,450.7L553.1,447.6L552.3,449.9L551.5,450.9L550.6,447.3L549.8,447.9L549.0,450.1L548.2,449.0L547.3,446.2L546.5,445.9L545.7,448.3L544.9,449.5L544.1,447.7L543.2,447.3L542.4,450.1L541.6,450.3L540.8,449.1L539.9,449.7L539.1,450.7L538.3,452.4L537.5,452.4L536.6,452.6L535.8,453.2L535.0,453.3L534.2,452.2L533.4,452.1Z" fill="#1e90ff" fill-opacity="0.2" stroke="#1e90ff" stroke-opacity="0.2" stroke-width="0.8"/><path d="M533.4,444.9L534.2,444.4L535.0,443.8L535.8,445.1L536.6,443.9L537.5,443.3L538.3,442.9L539.1,442.5L539.9,442.9L540.8,443.1L541.6,443.0L542.4,439.8L543.2,438.7L544.1,439.1L544.9,437.0L545.7,435.5L546.5,433.5L547.3,431.5L548.2,432.5L549.0,432.4L549.8,434.1L550.6,431.6L551.5,425.4L552.3,426.4L553.1,426.5L553.9,423.1L554.8,423.3L555.6,422.8L556.4,422.7L557.2,421.0L558.0,420.0L558.9,423.2L559.7,421.6L560.5,419.2L561.3,415.4L562.2,411.5L563.0,411.3L563.8,414.1L564.6,412.3L565.5,407.2L566.3,406.6L567.1,406.7L567.9,404.3L568.8,406.2L569.6,404.3L570.4,402.3L571.2,401.8L572.0,398.5L572.9,398.5L573.7,399.1L574.5,398.0L575.3,399.1L576.2,395.8L577.0,391.2L577.8,395.8L578.6,395.8L579.5,393.6L580.3,388.3L581.1,386.1L581.9,389.8L582.8,386.0L583.6,383.5L584.4,384.0L585.2,384.6L586.0,381.1L586.9,379.2L587.7,380.3L588.5,381.5L589.3,381.6L590.2,376.8L591.0,374.1L591.8,375.1L592.6,374.2L593.5,371.9L594.3,374.8L595.1,374.1L595.9,369.9L596.7,367.2L597.6,367.3L598.4,368.5L599.2,364.3L600.0,362.8L600.9,363.5L601.7,362.1L602.5,360.0L603.3,360.7L604.2,362.3L605.0,362.0L605.8,364.1L606.6,363.5L607.5,364.9L608.3,361.5L609.1,359.0L609.9,361.5L610.7,360.6L611.6,360.8L612.4,367.2L613.2,367.7L614.0,361.3L614.9,362.5L615.7,367.0L616.5,370.4L617.3,367.8L618.2,369.5L619.0,371.0L619.8,371.2L620.6,375.6L621.4,379.4L622.3,379.3L623.1,379.6L623.9,378.4L624.7,377.5L625.6,384.1L626.4,386.2L627.2,387.2L628.0,390.6L628.9,390.6L629.7,392.5L630.5,394.0L631.3,391.2L632.1,390.8L633.0,394.1L633.8,394.0L634.6,390.6L635.4,391.1L636.3,395.6L637.1,397.3L637.9,398.7L638.7,401.4L639.6,402.6L640.4,400.5L641.2,400.0L642.0,401.5L642.9,400.3L643.7,404.9L644.5,411.7L644.5,440.9L643.7,437.5L642.9,436.7L642.0,440.9L641.2,440.8L640.4,437.0L639.6,433.5L638.7,432.6L637.9,431.3L637.1,434.2L636.3,434.7L635.4,432.2L634.6,431.2L633.8,429.3L633.0,427.2L632.1,427.7L631.3,429.2L630.5,426.5L629.7,423.9L628.9,424.3L628.0,421.5L627.2,421.1L626.4,422.5L625.6,414.5L624.7,416.5L623.9,420.3L623.1,413.9L622.3,407.0L621.4,404.9L620.6,407.9L619.8,406.8L619.0,406.4L618.2,403.2L617.3,402.0L616.5,404.2L615.7,402.9L614.9,401.0L614.0,400.2L613.2,398.8L612.4,394.7L611.6,395.1L610.7,392.4L609.9,387.2L609.1,389.2L608.3,392.8L607.5,395.1L606.6,392.9L605.8,389.1L605.0,390.0L604.2,394.8L603.3,398.6L602.5,397.7L601.7,395.9L600.9,398.5L600.0,397.0L599.2,394.0L598.4,394.5L597.6,396.6L596.7,400.7L595.9,400.7L595.1,401.8L594.3,406.6L593.5,404.4L592.6,405.0L591.8,404.8L591.0,405.0L590.2,412.5L589.3,412.7L588.5,410.0L587.7,410.2L586.9,413.0L586.0,413.1L585.2,414.7L584.4,416.6L583.6,414.7L582.8,417.0L581.9,424.1L581.1,426.9L580.3,424.3L579.5,420.8L578.6,424.3L577.8,430.4L577.0,435.2L576.2,433.9L575.3,427.8L574.5,429.6L573.7,434.0L572.9,434.5L572.0,431.7L571.2,435.1L570.4,436.0L569.6,436.6L568.8,441.0L567.9,440.8L567.1,439.5L566.3,441.6L565.5,441.2L564.6,440.8L563.8,440.6L563.0,441.2L562.2,446.8L561.3,447.8L560.5,449.2L559.7,449.0L558.9,448.7L558.0,451.9L557.2,454.9L556.4,454.9L555.6,452.3L554.8,453.9L553.9,455.8L553.1,454.0L552.3,453.9L551.5,454.5L550.6,453.4L549.8,450.6L549.0,450.9L548.2,450.8L547.3,450.5L546.5,452.2L545.7,453.7L544.9,453.8L544.1,453.1L543.2,453.1L542.4,452.9L541.6,453.0L540.8,453.0L539.9,453.5L539.1,454.3L538.3,455.2L537.5,455.2L536.6,456.2L535.8,456.5L535.0,455.3L534.2,456.5L533.4,457.1Z" fill="#ff00ff" fill-opacity="0.2" stroke="#ff00ff" stroke-opacity="0.2" stroke-width="0.8"/><path d="M533.4,446.6L534.2,446.8L535.0,446.4L535.8,446.1L536.6,445.6L537.5,445.7L538.3,445.0L539.1,444.0L539.9,443.2L540.8,441.4L541.6,441.0L542.4,440.9L543.2,439.8L544.1,438.9L544.9,437.4L545.7,437.4L546.5,438.8L547.3,438.9L548.2,435.5L549.0,432.2L549.8,430.4L550.6,428.7L551.5,429.8L552.3,430.0L553.1,429.7L553.9,428.0L554.8,424.2L555.6,421.6L556.4,420.2L557.2,420.0L558.0,425.7L558.9,424.1L559.7,421.0L560.5,419.2L561.3,413.2L562.2,414.9L563.0,415.5L563.8,407.7L564.6,404.7L565.5,405.8L566.3,405.3L567.1,403.7L567.9,401.6L568.8,399.1L569.6,394.0L570.4,391.3L571.2,388.5L572.0,388.6L572.9,389.7L573.7,385.5L574.5,381.8L575.3,378.0L576.2,375.3L577.0,372.9L577.8,368.8L578.6,365.5L579.5,358.1L580.3,354.5L581.1,352.4L581.9,351.2L582.8,353.7L583.6,349.5L584.4,345.7L585.2,346.7L586.0,349.3L586.9,345.0L587.7,338.6L588.5,341.1L589.3,339.2L590.2,337.4L591.0,335.4L591.8,332.8L592.6,334.0L593.5,333.1L594.3,334.5L595.1,337.0L595.9,341.4L596.7,343.1L597.6,338.7L598.4,337.0L599.2,336.7L600.0,338.1L600.9,341.6L601.7,341.7L602.5,340.9L603.3,340.9L604.2,339.6L605.0,337.8L605.8,343.0L606.6,350.3L607.5,348.9L608.3,349.3L609.1,352.0L609.9,350.2L610.7,355.1L611.6,358.5L612.4,359.1L613.2,366.2L614.0,366.5L614.9,371.6L615.7,377.5L616.5,370.6L617.3,371.4L618.2,375.9L619.0,374.4L619.8,379.0L620.6,385.8L621.4,389.1L622.3,388.4L623.1,391.7L623.9,395.6L624.7,401.7L625.6,406.5L626.4,406.6L627.2,408.2L628.0,404.5L628.9,406.8L629.7,410.3L630.5,407.6L631.3,406.2L632.1,408.0L633.0,405.2L633.8,402.3L634.6,405.2L635.4,404.2L636.3,403.3L637.1,401.4L637.9,400.4L638.7,404.8L639.6,402.2L640.4,398.6L641.2,398.1L642.0,400.5L642.9,401.7L643.7,394.8L644.5,390.4L644.5,416.2L643.7,417.1L642.9,418.3L642.0,416.1L641.2,420.6L640.4,428.1L639.6,424.2L638.7,424.0L637.9,425.4L637.1,419.7L636.3,423.4L635.4,430.4L634.6,431.0L633.8,428.9L633.0,429.9L632.1,434.8L631.3,434.9L630.5,430.7L629.7,430.0L628.9,429.6L628.0,431.3L627.2,434.2L626.4,430.5L625.6,430.5L624.7,428.9L623.9,419.1L623.1,415.1L622.3,411.6L621.4,408.2L620.6,406.0L619.8,405.0L619.0,405.2L618.2,396.3L617.3,394.4L616.5,394.4L615.7,390.8L614.9,390.8L614.0,388.3L613.2,383.4L612.4,386.3L611.6,384.6L610.7,378.1L609.9,379.8L609.1,379.8L608.3,373.9L607.5,366.2L606.6,365.7L605.8,365.6L605.0,367.8L604.2,367.8L603.3,361.5L602.5,358.3L601.7,358.9L600.9,359.2L600.0,360.8L599.2,362.6L598.4,360.5L597.6,360.7L596.7,357.9L595.9,356.8L595.1,360.0L594.3,363.2L593.5,361.0L592.6,356.8L591.8,357.9L591.0,358.4L590.2,359.9L589.3,358.8L588.5,362.2L587.7,364.2L586.9,364.7L586.0,364.7L585.2,364.1L584.4,368.7L583.6,372.0L582.8,373.3L581.9,372.2L581.1,372.5L580.3,375.8L579.5,379.8L578.6,383.1L577.8,390.4L577.0,393.7L576.2,395.1L575.3,400.7L574.5,406.8L573.7,409.4L572.9,409.0L572.0,411.6L571.2,412.8L570.4,413.8L569.6,419.9L568.8,424.4L567.9,426.0L567.1,428.2L566.3,427.0L565.5,430.0L564.6,435.9L563.8,431.3L563.0,432.1L562.2,437.2L561.3,437.3L560.5,438.6L559.7,441.7L558.9,441.3L558.0,445.4L557.2,450.4L556.4,448.4L555.6,448.1L554.8,446.0L553.9,446.0L553.1,447.6L552.3,447.7L551.5,446.6L550.6,447.1L549.8,450.2L549.0,451.3L548.2,449.9L547.3,450.2L546.5,450.1L545.7,448.4L544.9,449.4L544.1,450.5L543.2,449.1L542.4,448.4L541.6,449.7L540.8,450.5L539.9,451.4L539.1,451.9L538.3,453.3L537.5,454.9L536.6,452.8L535.8,452.5L535.0,454.6L534.2,454.6L533.4,455.1Z" fill="#ff6347" fill-opacity="0.2" stroke="#ff6347" stroke-opacity="0.2" stroke-width="0.8"/><path d="M533.4,448.6L534.2,448.4L535.0,448.8L535.8,451.2L536.6,453.6L537.5,453.8L538.3,452.7L539.1,453.3L539.9,453.7L540.8,454.3L541.6,454.1L542.4,453.1L543.2,452.7L544.1,451.9L544.9,451.1L545.7,451.3L546.5,450.1L547.3,449.6L548.2,451.1L549.0,448.2L549.8,446.0L550.6,445.4L551.5,442.9L552.3,443.0L553.1,445.4L553.9,446.9L554.8,443.7L555.6,441.5L556.4,440.3L557.2,437.7L558.0,441.5L558.9,442.9L559.7,441.9L560.5,441.0L561.3,441.9L562.2,444.6L563.0,445.7L563.8,445.3L564.6,446.0L565.5,445.6L566.3,441.3L567.1,441.0L567.9,439.6L568.8,436.8L569.6,438.6L570.4,439.6L571.2,439.6L572.0,437.1L572.9,436.4L573.7,434.7L574.5,432.0L575.3,434.2L576.2,435.4L577.0,431.7L577.8,434.7L578.6,436.7L579.5,433.8L580.3,434.8L581.1,438.3L581.9,436.8L582.8,432.3L583.6,432.8L584.4,434.8L585.2,436.2L586.0,433.7L586.9,431.4L587.7,433.6L588.5,432.8L589.3,429.6L590.2,432.7L591.0,433.3L591.8,429.9L592.6,428.9L593.5,427.3L594.3,429.3L595.1,430.5L595.9,427.6L596.7,424.1L597.6,427.1L598.4,433.0L599.2,433.0L600.0,432.2L600.9,428.5L601.7,425.1L602.5,429.5L603.3,433.7L604.2,435.9L605.0,435.4L605.8,432.3L606.6,432.7L607.5,434.6L608.3,438.9L609.1,442.7L609.9,442.9L610.7,438.4L611.6,441.4L612.4,444.7L613.2,445.4L614.0,448.7L614.9,449.4L615.7,447.7L616.5,447.5L617.3,451.1L618.2,455.5L619.0,459.7L619.8,460.0L620.6,457.6L621.4,457.1L622.3,458.8L623.1,460.8L623.9,461.9L624.7,462.7L625.6,465.1L626.4,463.6L627.2,462.7L628.0,463.6L628.9,461.3L629.7,461.0L630.5,462.8L631.3,459.4L632.1,457.8L633.0,458.7L633.8,460.8L634.6,465.7L635.4,464.8L636.3,463.6L637.1,460.8L637.9,461.2L638.7,461.9L639.6,460.6L640.4,457.3L641.2,456.1L642.0,456.2L642.9,454.2L643.7,455.1L644.5,454.7L644.5,468.1L643.7,470.5L642.9,473.2L642.0,473.2L641.2,470.3L640.4,471.4L639.6,472.8L638.7,472.9L637.9,473.7L637.1,473.2L636.3,470.0L635.4,472.3L634.6,476.5L633.8,472.1L633.0,471.4L632.1,473.8L631.3,468.7L630.5,469.1L629.7,471.9L628.9,471.1L628.0,473.4L627.2,476.1L626.4,476.5L625.6,474.6L624.7,474.4L623.9,470.5L623.1,469.6L622.3,473.0L621.4,473.0L620.6,471.8L619.8,468.2L619.0,467.1L618.2,467.1L617.3,469.4L616.5,468.4L615.7,462.3L614.9,458.1L614.0,461.0L613.2,464.2L612.4,463.3L611.6,461.0L610.7,455.4L609.9,452.8L609.1,451.9L608.3,455.0L607.5,451.6L606.6,448.0L605.8,449.9L605.0,446.7L604.2,447.2L603.3,445.7L602.5,443.7L601.7,444.4L600.9,440.5L600.0,440.8L599.2,445.6L598.4,445.4L597.6,443.7L596.7,441.2L595.9,438.8L595.1,440.2L594.3,442.9L593.5,444.9L592.6,446.6L591.8,445.9L591.0,444.9L590.2,446.1L589.3,450.8L588.5,453.5L587.7,448.7L586.9,446.3L586.0,450.2L585.2,455.0L584.4,454.0L583.6,448.2L582.8,447.3L581.9,448.1L581.1,445.5L580.3,442.0L579.5,444.6L578.6,449.5L577.8,448.7L577.0,449.0L576.2,446.4L575.3,442.2L574.5,444.0L573.7,446.2L572.9,447.2L572.0,449.8L571.2,450.4L570.4,451.8L569.6,451.8L568.8,449.8L567.9,448.0L567.1,446.2L566.3,450.0L565.5,451.7L564.6,451.8L563.8,452.9L563.0,455.8L562.2,457.9L561.3,453.6L560.5,450.5L559.7,454.4L558.9,456.2L558.0,456.2L557.2,461.5L556.4,454.1L555.6,451.3L554.8,455.4L553.9,454.5L553.1,455.8L552.3,453.2L551.5,453.9L550.6,454.7L549.8,453.6L549.0,455.6L548.2,457.5L547.3,458.3L546.5,457.2L545.7,457.3L544.9,457.4L544.1,457.2L543.2,457.6L542.4,457.3L541.6,458.9L540.8,459.7L539.9,458.3L539.1,457.6L538.3,457.8L537.5,458.3L536.6,456.3L535.8,454.6L535.0,455.0L534.2,454.3L533.4,452.3Z" fill="#ffa500" fill-opacity="0.2" stroke="#ffa500" stroke-opacity="0.2" stroke-width="0.8"/><path d="M397.5,466.6L398.3,467.0L399.1,467.7L400.0,467.2L400.8,467.6L401.6,467.1L402.4,467.7L403.3,468.4L404.1,467.8L404.9,466.8L405.7,466.7L406.6,467.0L407.4,467.7L408.2,468.5L409.0,467.4L409.9,467.2L410.7,467.6L411.5,467.1L412.3,467.8L413.1,468.5L414.0,467.7L414.8,467.9L415.6,468.1L416.4,467.5L417.3,467.5L418.1,467.5L418.9,467.3L419.7,466.7L420.6,466.1L421.4,466.7L422.2,467.6L423.0,467.1L423.8,466.6L424.7,466.8L425.5,467.3L426.3,467.1L427.1,466.5L428.0,467.3L428.8,467.3L429.6,466.6L430.4,467.2L431.3,467.8L432.1,467.6L432.9,467.0L433.7,467.0L434.6,467.4L435.4,467.6L436.2,466.9L437.0,466.3L437.8,466.4L438.7,466.1L439.5,465.9L440.3,465.4L441.1,465.6L442.0,466.3L442.8,466.5L443.6,466.2L444.4,465.7L445.3,465.9L446.1,465.9L446.9,465.6L447.7,464.1L448.5,464.2L449.4,465.0L450.2,464.5L451.0,464.9L451.8,464.8L452.7,464.6L453.5,464.6L454.3,464.8L455.1,464.8L456.0,464.8L456.8,464.5L457.6,464.3L458.4,464.0L459.2,463.3L460.1,463.6L460.9,464.2L461.7,463.6L462.5,463.5L463.4,463.8L464.2,463.8L465.0,463.8L465.8,463.1L466.7,462.7L467.5,463.5L468.3,464.1L469.1,463.8L470.0,463.5L470.8,463.0L471.6,463.6L472.4,463.3L473.2,462.8L474.1,462.8L474.9,462.8L475.7,463.1L476.5,462.3L477.4,462.1L478.2,461.9L479.0,460.8L479.8,461.3L480.7,462.5L481.5,462.6L482.3,462.6L483.1,462.2L483.9,462.0L484.8,462.7L485.6,462.2L486.4,460.5L487.2,460.0L488.1,460.9L488.9,461.1L489.7,460.2L490.5,459.6L491.4,459.9L492.2,459.3L493.0,458.9L493.8,459.2L494.7,459.1L495.5,458.7L496.3,458.0L497.1,458.3L497.9,458.6L498.8,458.1L499.6,458.6L500.4,458.5L501.2,458.2L502.1,457.7L502.9,456.9L503.7,456.6L504.5,456.3L505.4,456.7L506.2,456.6L507.0,455.7L507.8,455.1L508.6,455.1L509.5,455.4L510.3,455.1L511.1,454.1L511.9,453.9L512.8,454.7L513.6,454.3L514.4,453.4L515.2,453.3L516.1,453.2L516.9,452.9L517.7,452.4L518.5,452.7L519.4,452.2L520.2,451.5L521.0,451.7L521.8,451.5L522.6,450.7L523.5,450.0L524.3,449.9L525.1,450.2L525.9,451.2L526.8,451.1L527.6,450.1L528.4,449.4L529.2,450.1L530.1,450.0L530.9,450.2L531.7,450.6L532.5,450.0" fill="none" stroke="#000" stroke-width="1.5" stroke-linejoin="round" stroke-linecap="butt"/><path d="M533.4,452.2L534.2,451.1L535.0,449.6L535.8,449.1L536.6,449.4L537.5,449.2L538.3,449.0L539.1,448.0L539.9,446.6L540.8,446.6L541.6,447.4L542.4,447.5L543.2,447.0L544.1,445.6L544.9,444.1L545.7,445.1L546.5,445.7L547.3,445.2L548.2,444.9L549.0,443.9L549.8,442.6L550.6,441.7L551.5,442.5L552.3,442.7L553.1,442.8L553.9,442.1L554.8,440.9L555.6,441.0L556.4,440.7L557.2,440.3L558.0,440.2L558.9,439.8L559.7,438.9L560.5,438.6L561.3,439.0L562.2,439.1L563.0,438.4L563.8,438.3L564.6,438.6L565.5,437.9L566.3,437.4L567.1,436.2L567.9,436.7L568.8,438.9L569.6,438.6L570.4,437.2L571.2,436.4L572.0,436.3L572.9,437.5L573.7,437.6L574.5,437.5L575.3,437.7L576.2,437.4L577.0,438.9L577.8,439.9L578.6,439.2L579.5,438.5L580.3,438.9L581.1,439.3L581.9,439.0L582.8,438.9L583.6,438.6L584.4,439.2L585.2,440.3L586.0,440.4L586.9,440.2L587.7,440.6L588.5,442.0L589.3,441.9L590.2,441.8L591.0,441.6L591.8,440.7L592.6,442.3L593.5,442.9L594.3,442.1L595.1,441.7L595.9,441.7L596.7,443.7L597.6,443.9L598.4,442.4L599.2,443.7L600.0,443.8L600.9,444.3L601.7,445.7L602.5,446.0L603.3,445.4L604.2,444.6L605.0,445.4L605.8,446.4L606.6,447.2L607.5,447.0L608.3,447.3L609.1,447.8L609.9,447.6L610.7,448.2L611.6,448.5L612.4,448.6L613.2,449.7L614.0,448.7L614.9,448.2L615.7,449.5L616.5,449.9L617.3,450.4L618.2,450.7L619.0,449.6L619.8,449.0L620.6,449.9L621.4,449.8L622.3,450.1L623.1,451.0L623.9,451.0L624.7,450.8L625.6,451.7L626.4,452.7L627.2,452.2L628.0,451.1L628.9,451.6L629.7,453.5L630.5,453.4L631.3,453.1L632.1,453.9L633.0,455.2L633.8,454.3L634.6,453.4L635.4,455.4L636.3,457.2L637.1,456.1L637.9,455.7L638.7,457.4L639.6,458.1L640.4,458.3L641.2,457.7L642.0,457.3L642.9,457.5L643.7,457.9L644.5,458.8" fill="none" stroke="#1e90ff" stroke-width="1.5" stroke-linejoin="round" stroke-linecap="butt"/><path d="M533.4,450.5L534.2,449.9L535.0,450.3L535.8,449.9L536.6,449.5L537.5,449.7L538.3,449.1L539.1,447.9L539.9,448.8L540.8,448.4L541.6,447.8L542.4,448.0L543.2,446.7L544.1,445.8L544.9,446.1L545.7,446.6L546.5,445.3L547.3,443.3L548.2,443.1L549.0,443.7L549.8,442.3L550.6,440.7L551.5,439.8L552.3,440.0L553.1,441.2L553.9,440.7L554.8,438.6L555.6,437.5L556.4,438.0L557.2,436.5L558.0,434.1L558.9,432.7L559.7,432.2L560.5,431.8L561.3,430.9L562.2,431.1L563.0,430.9L563.8,430.0L564.6,428.7L565.5,426.5L566.3,426.0L567.1,425.9L567.9,423.9L568.8,421.7L569.6,420.7L570.4,420.7L571.2,419.8L572.0,419.2L572.9,417.2L573.7,414.8L574.5,416.4L575.3,415.8L576.2,412.8L577.0,412.7L577.8,412.0L578.6,410.6L579.5,409.1L580.3,407.4L581.1,406.1L581.9,404.8L582.8,403.8L583.6,401.6L584.4,400.6L585.2,399.4L586.0,397.3L586.9,397.2L587.7,397.3L588.5,397.2L589.3,395.3L590.2,392.4L591.0,392.4L591.8,392.0L592.6,390.3L593.5,389.7L594.3,388.1L595.1,385.9L595.9,386.1L596.7,385.2L597.6,384.0L598.4,383.7L599.2,381.9L600.0,380.4L600.9,379.8L601.7,379.7L602.5,379.2L603.3,378.7L604.2,377.5L605.0,376.0L605.8,375.9L606.6,375.5L607.5,375.2L608.3,375.2L609.1,374.7L609.9,374.1L610.7,374.8L611.6,376.5L612.4,377.6L613.2,378.9L614.0,380.7L614.9,383.5L615.7,385.2L616.5,386.1L617.3,387.2L618.2,388.7L619.0,389.6L619.8,390.3L620.6,392.7L621.4,394.8L622.3,395.8L623.1,397.1L623.9,398.5L624.7,398.2L625.6,399.2L626.4,401.7L627.2,404.1L628.0,405.3L628.9,406.6L629.7,408.0L630.5,408.6L631.3,409.2L632.1,410.9L633.0,412.5L633.8,412.1L634.6,413.2L635.4,413.8L636.3,414.8L637.1,415.8L637.9,416.6L638.7,418.2L639.6,418.1L640.4,419.0L641.2,421.2L642.0,421.7L642.9,422.7L643.7,424.0L644.5,425.4" fill="none" stroke="#ff00ff" stroke-width="1.5" stroke-linejoin="round" stroke-linecap="butt"/><path d="M533.4,451.5L534.2,449.9L535.0,449.2L535.8,450.9L536.6,450.8L537.5,449.4L538.3,448.1L539.1,447.5L539.9,446.8L540.8,446.6L541.6,446.7L542.4,445.4L543.2,445.8L544.1,445.8L544.9,443.9L545.7,443.4L546.5,443.7L547.3,442.6L548.2,439.8L549.0,438.2L549.8,438.9L550.6,438.6L551.5,437.7L552.3,436.8L553.1,436.1L553.9,435.1L554.8,434.1L555.6,432.5L556.4,431.5L557.2,431.6L558.0,431.1L558.9,430.0L559.7,428.5L560.5,426.8L561.3,425.2L562.2,424.7L563.0,424.4L563.8,422.5L564.6,419.7L565.5,417.3L566.3,415.7L567.1,414.6L567.9,412.2L568.8,408.7L569.6,406.4L570.4,404.3L571.2,401.3L572.0,398.9L572.9,396.1L573.7,392.6L574.5,389.6L575.3,387.1L576.2,384.3L577.0,380.7L577.8,376.8L578.6,371.9L579.5,367.3L580.3,364.5L581.1,363.3L581.9,362.1L582.8,360.2L583.6,358.0L584.4,357.2L585.2,355.8L586.0,352.4L586.9,350.7L587.7,350.1L588.5,349.6L589.3,348.9L590.2,347.7L591.0,347.7L591.8,347.6L592.6,347.8L593.5,346.7L594.3,345.6L595.1,346.9L595.9,347.6L596.7,347.7L597.6,348.6L598.4,348.6L599.2,348.4L600.0,349.6L600.9,350.7L601.7,350.7L602.5,350.6L603.3,351.2L604.2,352.0L605.0,352.5L605.8,353.9L606.6,355.6L607.5,357.4L608.3,360.2L609.1,362.3L609.9,364.5L610.7,367.4L611.6,370.6L612.4,372.5L613.2,373.9L614.0,376.9L614.9,379.4L615.7,380.3L616.5,381.3L617.3,382.8L618.2,385.1L619.0,387.8L619.8,390.7L620.6,393.5L621.4,395.9L622.3,398.7L623.1,403.3L623.9,409.1L624.7,414.4L625.6,416.8L626.4,416.8L627.2,416.1L628.0,416.9L628.9,418.7L629.7,417.5L630.5,416.2L631.3,416.2L632.1,416.0L633.0,416.0L633.8,415.3L634.6,414.3L635.4,414.5L636.3,414.2L637.1,413.1L637.9,412.2L638.7,411.3L639.6,409.9L640.4,409.2L641.2,408.9L642.0,408.2L642.9,407.7L643.7,406.6L644.5,404.4" fill="none" stroke="#ff6347" stroke-width="1.5" stroke-linejoin="round" stroke-linecap="butt"/><path d="M533.4,452.5L534.2,453.1L535.0,452.5L535.8,453.4L536.6,456.0L537.5,457.0L538.3,455.9L539.1,456.1L539.9,455.6L540.8,456.8L541.6,457.5L542.4,455.7L543.2,455.8L544.1,454.6L544.9,453.8L545.7,454.0L546.5,453.5L547.3,453.0L548.2,452.5L549.0,452.6L549.8,450.6L550.6,450.2L551.5,450.7L552.3,449.7L553.1,448.9L553.9,448.7L554.8,448.8L555.6,448.0L556.4,448.5L557.2,448.9L558.0,449.0L558.9,448.7L559.7,447.9L560.5,447.6L561.3,447.9L562.2,448.4L563.0,448.3L563.8,447.9L564.6,447.8L565.5,446.4L566.3,446.2L567.1,447.0L567.9,445.1L568.8,443.7L569.6,443.1L570.4,442.8L571.2,443.1L572.0,442.8L572.9,442.2L573.7,441.0L574.5,440.5L575.3,441.5L576.2,442.7L577.0,443.0L577.8,441.6L578.6,441.1L579.5,442.1L580.3,441.7L581.1,441.9L581.9,441.5L582.8,440.6L583.6,440.6L584.4,440.4L585.2,440.9L586.0,442.1L586.9,442.6L587.7,441.6L588.5,441.1L589.3,440.9L590.2,440.2L591.0,440.1L591.8,439.8L592.6,438.2L593.5,437.2L594.3,436.8L595.1,436.6L595.9,435.8L596.7,435.8L597.6,436.9L598.4,436.9L599.2,436.8L600.0,437.2L600.9,437.2L601.7,436.5L602.5,437.3L603.3,439.3L604.2,440.2L605.0,440.1L605.8,441.1L606.6,442.3L607.5,445.1L608.3,447.2L609.1,447.7L609.9,448.5L610.7,449.3L611.6,450.7L612.4,451.8L613.2,453.0L614.0,454.0L614.9,455.3L615.7,457.8L616.5,459.0L617.3,460.6L618.2,461.8L619.0,461.8L619.8,462.0L620.6,463.4L621.4,464.8L622.3,464.2L623.1,465.4L623.9,467.7L624.7,467.3L625.6,466.3L626.4,466.3L627.2,466.5L628.0,468.0L628.9,468.5L629.7,467.8L630.5,467.6L631.3,468.1L632.1,468.6L633.0,468.5L633.8,466.9L634.6,465.5L635.4,466.3L636.3,467.1L637.1,467.7L637.9,466.3L638.7,465.4L639.6,465.3L640.4,464.4L641.2,463.8L642.0,463.4L642.9,462.4L643.7,460.8L644.5,460.8" fill="none" stroke="#ffa500" stroke-width="1.5" stroke-linejoin="round" stroke-linecap="butt"/></g>
<clipPath id="cliph"><rect x="397.5" y="483.5" width="247.0" height="155.0"/></clipPath><g clip-path="url(#cliph)"><path d="M397.5,625.3L398.3,625.1L399.1,623.9L400.0,620.2L400.8,624.4L401.6,624.6L402.4,623.7L403.3,624.7L404.1,625.3L404.9,625.4L405.7,625.4L406.6,624.4L407.4,617.2L408.2,625.2L409.0,624.1L409.9,621.3L410.7,624.5L411.5,610.1L412.3,625.4L413.1,617.5L414.0,625.3L414.8,622.9L415.6,624.6L416.4,625.7L417.3,625.2L418.1,615.3L418.9,625.5L419.7,624.4L420.6,625.6L421.4,619.0L422.2,625.1L423.0,623.3L423.8,624.0L424.7,617.3L425.5,625.3L426.3,624.0L427.1,624.0L428.0,623.2L428.8,622.3L429.6,622.3L430.4,618.6L431.3,625.7L432.1,625.4L432.9,624.9L433.7,621.3L434.6,625.2L435.4,623.8L436.2,624.7L437.0,622.5L437.8,625.5L438.7,623.1L439.5,622.0L440.3,616.2L441.1,624.9L442.0,616.3L442.8,623.7L443.6,625.8L444.4,619.3L445.3,625.5L446.1,616.3L446.9,625.1L447.7,624.8L448.5,623.4L449.4,619.4L450.2,624.0L451.0,624.1L451.8,622.7L452.7,623.1L453.5,625.5L454.3,625.4L455.1,625.7L456.0,625.6L456.8,622.2L457.6,624.9L458.4,624.8L459.2,625.4L460.1,625.3L460.9,623.8L461.7,625.6L462.5,624.6L463.4,625.6L464.2,623.4L465.0,624.0L465.8,625.3L466.7,622.3L467.5,620.7L468.3,624.5L469.1,622.4L470.0,616.5L470.8,624.9L471.6,625.5L472.4,624.9L473.2,624.2L474.1,625.2L474.9,625.3L475.7,625.2L476.5,625.3L477.4,622.6L478.2,625.1L479.0,616.6L479.8,625.3L480.7,621.2L481.5,615.3L482.3,619.6L483.1,621.3L483.9,623.9L484.8,619.7L485.6,623.4L486.4,624.6L487.2,622.2L488.1,615.9L488.9,624.8L489.7,623.5L490.5,624.5L491.4,624.3L492.2,623.3L493.0,625.0L493.8,617.3L494.7,624.8L495.5,624.1L496.3,615.6L497.1,619.2L497.9,616.3L498.8,624.6L499.6,621.2L500.4,622.2L501.2,623.3L502.1,623.8L502.9,621.9L503.7,622.0L504.5,621.3L505.4,623.6L506.2,623.9L507.0,623.0L507.8,622.5L508.6,623.2L509.5,623.2L510.3,623.5L511.1,623.8L511.9,620.8L512.8,622.1L513.6,619.6L514.4,621.0L515.2,619.7L516.1,623.2L516.9,623.1L517.7,622.7L518.5,622.5L519.4,620.0L520.2,623.0L521.0,621.8L521.8,621.9L522.6,610.1L523.5,622.8L524.3,621.9L525.1,622.6L525.9,622.4L526.8,621.1L527.6,622.4L528.4,621.8L529.2,622.4L530.1,621.4L530.9,621.7L531.7,622.1L532.5,621.8L532.5,627.1L531.7,627.3L530.9,626.7L530.1,626.9L529.2,627.5L528.4,626.9L527.6,628.0L526.8,628.1L525.9,627.3L525.1,627.3L524.3,627.9L523.5,627.7L522.6,628.0L521.8,628.5L521.0,628.3L520.2,628.0L519.4,628.0L518.5,628.2L517.7,628.2L516.9,628.3L516.1,628.7L515.2,629.2L514.4,628.7L513.6,628.5L512.8,628.4L511.9,628.8L511.1,629.0L510.3,629.4L509.5,629.2L508.6,629.5L507.8,628.7L507.0,629.2L506.2,629.6L505.4,629.1L504.5,629.9L503.7,629.0L502.9,630.0L502.1,629.5L501.2,629.2L500.4,629.6L499.6,629.5L498.8,629.3L497.9,630.0L497.1,629.4L496.3,629.5L495.5,629.8L494.7,629.6L493.8,629.5L493.0,629.5L492.2,630.1L491.4,629.6L490.5,630.0L489.7,629.8L488.9,630.2L488.1,630.0L487.2,630.4L486.4,630.6L485.6,630.3L484.8,630.0L483.9,630.7L483.1,629.8L482.3,630.9L481.5,630.8L480.7,630.2L479.8,630.3L479.0,630.7L478.2,630.3L477.4,630.1L476.5,630.3L475.7,630.2L474.9,630.1L474.1,630.5L473.2,630.5L472.4,630.5L471.6,630.6L470.8,630.5L470.0,630.2L469.1,630.3L468.3,630.2L467.5,630.4L466.7,630.4L465.8,630.8L465.0,631.1L464.2,630.3L463.4,630.9L462.5,630.5L461.7,630.1L460.9,630.2L460.1,631.5L459.2,631.1L458.4,630.2L457.6,630.7L456.8,630.6L456.0,630.3L455.1,630.6L454.3,630.7L453.5,630.3L452.7,630.5L451.8,630.9L451.0,630.2L450.2,630.6L449.4,630.7L448.5,630.5L447.7,630.8L446.9,630.3L446.1,630.7L445.3,630.3L444.4,630.9L443.6,630.6L442.8,630.2L442.0,630.3L441.1,630.2L440.3,630.2L439.5,631.3L438.7,631.2L437.8,631.1L437.0,630.5L436.2,630.5L435.4,631.3L434.6,631.0L433.7,630.9L432.9,631.0L432.1,631.1L431.3,630.4L430.4,630.3L429.6,630.4L428.8,630.4L428.0,630.2L427.1,630.7L426.3,630.5L425.5,630.2L424.7,630.8L423.8,630.7L423.0,630.6L422.2,630.4L421.4,630.8L420.6,630.9L419.7,631.2L418.9,630.8L418.1,630.2L417.3,630.4L416.4,631.0L415.6,630.2L414.8,630.1L414.0,630.2L413.1,630.6L412.3,630.7L411.5,630.3L410.7,630.5L409.9,630.2L409.0,630.2L408.2,630.4L407.4,630.7L406.6,630.1L405.7,630.7L404.9,630.3L404.1,630.0L403.3,630.2L402.4,630.0L401.6,630.2L400.8,630.0L400.0,630.0L399.1,630.5L398.3,630.2L397.5,630.3Z" fill="#808080" fill-opacity="0.3" stroke="#808080" stroke-opacity="0.3" stroke-width="0.8"/><path d="M533.4,622.8L534.2,622.7L535.0,622.7L535.8,622.8L536.6,623.1L537.5,623.1L538.3,622.5L539.1,623.0L539.9,622.7L540.8,622.9L541.6,622.8L542.4,622.6L543.2,622.3L544.1,622.8L544.9,622.7L545.7,622.5L546.5,622.4L547.3,622.5L548.2,622.3L549.0,622.1L549.8,621.6L550.6,620.5L551.5,622.6L552.3,622.0L553.1,621.9L553.9,621.8L554.8,622.3L555.6,621.4L556.4,622.3L557.2,621.9L558.0,621.7L558.9,622.0L559.7,622.2L560.5,622.0L561.3,621.7L562.2,621.7L563.0,621.3L563.8,621.6L564.6,621.4L565.5,621.8L566.3,621.4L567.1,619.3L567.9,621.6L568.8,621.5L569.6,621.5L570.4,621.4L571.2,621.3L572.0,621.2L572.9,620.8L573.7,620.9L574.5,620.5L575.3,621.0L576.2,618.8L577.0,620.3L577.8,620.7L578.6,619.0L579.5,619.9L580.3,619.7L581.1,619.5L581.9,619.4L582.8,618.7L583.6,617.8L584.4,618.0L585.2,617.9L586.0,618.0L586.9,617.5L587.7,618.3L588.5,619.4L589.3,618.7L590.2,620.1L591.0,618.5L591.8,619.2L592.6,620.0L593.5,620.6L594.3,620.1L595.1,619.8L595.9,620.7L596.7,620.3L597.6,619.7L598.4,620.9L599.2,619.2L600.0,620.7L600.9,620.7L601.7,620.6L602.5,619.9L603.3,619.6L604.2,621.0L605.0,621.0L605.8,620.5L606.6,619.9L607.5,620.4L608.3,620.0L609.1,619.9L609.9,619.1L610.7,619.0L611.6,618.8L612.4,616.5L613.2,618.7L614.0,617.7L614.9,618.0L615.7,616.8L616.5,616.9L617.3,616.0L618.2,615.8L619.0,616.0L619.8,616.9L620.6,617.8L621.4,617.9L622.3,619.4L623.1,618.5L623.9,620.2L624.7,620.6L625.6,620.3L626.4,619.9L627.2,621.1L628.0,620.4L628.9,621.3L629.7,620.5L630.5,621.4L631.3,620.3L632.1,620.2L633.0,622.3L633.8,622.0L634.6,620.2L635.4,621.8L636.3,622.6L637.1,622.3L637.9,622.6L638.7,622.8L639.6,622.0L640.4,621.9L641.2,622.7L642.0,622.0L642.9,622.6L643.7,622.3L644.5,622.3L644.5,629.6L643.7,629.8L642.9,629.9L642.0,630.0L641.2,629.9L640.4,629.9L639.6,630.0L638.7,629.8L637.9,629.4L637.1,629.9L636.3,629.6L635.4,629.3L634.6,629.4L633.8,630.0L633.0,629.3L632.1,629.0L631.3,628.7L630.5,628.6L629.7,629.0L628.9,628.6L628.0,628.0L627.2,628.4L626.4,627.5L625.6,627.8L624.7,627.2L623.9,627.2L623.1,626.6L622.3,626.1L621.4,625.7L620.6,625.2L619.8,624.4L619.0,624.1L618.2,624.5L617.3,624.5L616.5,624.3L615.7,625.3L614.9,624.7L614.0,625.0L613.2,625.6L612.4,625.5L611.6,625.8L610.7,626.1L609.9,626.3L609.1,626.7L608.3,627.9L607.5,627.1L606.6,627.7L605.8,627.4L605.0,628.2L604.2,627.9L603.3,627.8L602.5,627.9L601.7,627.7L600.9,627.7L600.0,628.1L599.2,627.6L598.4,627.8L597.6,627.5L596.7,627.7L595.9,628.2L595.1,627.3L594.3,627.7L593.5,627.4L592.6,627.6L591.8,627.3L591.0,627.5L590.2,627.3L589.3,626.8L588.5,626.1L587.7,625.6L586.9,625.4L586.0,625.8L585.2,624.9L584.4,624.6L583.6,625.2L582.8,625.0L581.9,625.5L581.1,625.7L580.3,625.8L579.5,626.5L578.6,626.4L577.8,626.3L577.0,626.7L576.2,626.2L575.3,626.6L574.5,626.6L573.7,626.8L572.9,626.4L572.0,626.7L571.2,626.4L570.4,626.4L569.6,626.4L568.8,626.7L567.9,626.3L567.1,626.7L566.3,626.5L565.5,626.2L564.6,626.3L563.8,626.7L563.0,626.4L562.2,627.0L561.3,626.5L560.5,626.4L559.7,626.5L558.9,626.2L558.0,626.5L557.2,626.3L556.4,626.3L555.6,626.6L554.8,626.4L553.9,626.5L553.1,626.6L552.3,626.4L551.5,626.8L550.6,626.7L549.8,626.2L549.0,626.5L548.2,626.2L547.3,627.2L546.5,626.6L545.7,626.6L544.9,626.6L544.1,626.5L543.2,626.7L542.4,626.3L541.6,626.7L540.8,626.5L539.9,626.5L539.1,626.7L538.3,626.1L537.5,626.7L536.6,626.1L535.8,626.2L535.0,626.2L534.2,626.3L533.4,626.1Z" fill="#1e90ff" fill-opacity="0.2" stroke="#1e90ff" stroke-opacity="0.2" stroke-width="0.8"/><path d="M533.4,622.0L534.2,620.9L535.0,621.7L535.8,620.5L536.6,620.4L537.5,621.3L538.3,621.1L539.1,620.8L539.9,620.2L540.8,619.1L541.6,620.4L542.4,620.3L543.2,620.8L544.1,620.9L544.9,620.2L545.7,620.6L546.5,619.6L547.3,619.6L548.2,619.6L549.0,619.7L549.8,620.2L550.6,618.4L551.5,619.8L552.3,616.9L553.1,619.2L553.9,618.7L554.8,618.9L555.6,618.1L556.4,616.7L557.2,617.8L558.0,618.1L558.9,617.6L559.7,615.4L560.5,615.5L561.3,616.5L562.2,615.2L563.0,615.4L563.8,614.5L564.6,614.6L565.5,613.2L566.3,614.3L567.1,613.9L567.9,612.6L568.8,612.6L569.6,610.1L570.4,612.8L571.2,611.9L572.0,611.2L572.9,607.2L573.7,607.9L574.5,605.1L575.3,603.6L576.2,600.7L577.0,600.6L577.8,599.6L578.6,599.0L579.5,596.6L580.3,593.7L581.1,597.7L581.9,597.6L582.8,597.3L583.6,596.0L584.4,593.2L585.2,595.3L586.0,595.1L586.9,594.0L587.7,593.7L588.5,593.1L589.3,593.1L590.2,593.1L591.0,591.3L591.8,591.6L592.6,588.2L593.5,588.4L594.3,583.7L595.1,586.0L595.9,584.4L596.7,585.9L597.6,587.5L598.4,586.2L599.2,582.4L600.0,596.5L600.9,598.4L601.7,600.0L602.5,599.9L603.3,601.4L604.2,603.8L605.0,604.1L605.8,602.3L606.6,606.4L607.5,604.9L608.3,603.5L609.1,605.7L609.9,607.3L610.7,607.3L611.6,607.5L612.4,605.8L613.2,608.1L614.0,608.0L614.9,609.0L615.7,606.5L616.5,609.1L617.3,606.8L618.2,609.3L619.0,609.0L619.8,608.2L620.6,607.0L621.4,608.9L622.3,607.3L623.1,608.4L623.9,605.8L624.7,608.2L625.6,607.1L626.4,609.1L627.2,606.5L628.0,606.9L628.9,604.5L629.7,608.1L630.5,605.1L631.3,607.3L632.1,608.1L633.0,603.7L633.8,604.4L634.6,605.5L635.4,606.2L636.3,605.1L637.1,605.4L637.9,596.5L638.7,608.5L639.6,606.7L640.4,605.8L641.2,606.3L642.0,601.1L642.9,605.5L643.7,603.6L644.5,607.3L644.5,621.8L643.7,621.7L642.9,622.6L642.0,623.3L641.2,623.2L640.4,622.5L639.6,623.6L638.7,623.1L637.9,623.6L637.1,623.7L636.3,623.4L635.4,624.5L634.6,623.8L633.8,623.5L633.0,625.1L632.1,624.7L631.3,624.1L630.5,624.2L629.7,624.3L628.9,624.8L628.0,625.1L627.2,624.8L626.4,624.2L625.6,624.3L624.7,624.7L623.9,624.7L623.1,625.4L622.3,624.7L621.4,623.8L620.6,625.0L619.8,624.0L619.0,624.2L618.2,624.4L617.3,624.0L616.5,623.7L615.7,623.4L614.9,625.4L614.0,624.9L613.2,624.0L612.4,623.8L611.6,622.7L610.7,624.5L609.9,621.7L609.1,623.0L608.3,621.5L607.5,622.1L606.6,620.8L605.8,620.6L605.0,620.0L604.2,618.9L603.3,618.3L602.5,616.9L601.7,617.8L600.9,614.3L600.0,611.3L599.2,607.9L598.4,605.0L597.6,602.7L596.7,602.6L595.9,601.9L595.1,602.6L594.3,602.2L593.5,603.4L592.6,605.4L591.8,606.5L591.0,608.6L590.2,608.4L589.3,610.5L588.5,609.4L587.7,610.1L586.9,609.1L586.0,610.7L585.2,609.4L584.4,609.5L583.6,610.2L582.8,610.4L581.9,612.0L581.1,610.2L580.3,610.7L579.5,611.8L578.6,611.3L577.8,610.8L577.0,613.3L576.2,614.2L575.3,616.2L574.5,616.9L573.7,618.3L572.9,619.9L572.0,621.7L571.2,621.6L570.4,623.4L569.6,622.4L568.8,623.2L567.9,624.3L567.1,623.7L566.3,624.2L565.5,623.7L564.6,624.1L563.8,626.0L563.0,625.0L562.2,626.2L561.3,625.9L560.5,624.6L559.7,625.5L558.9,625.4L558.0,626.2L557.2,627.1L556.4,625.5L555.6,625.4L554.8,626.1L553.9,627.9L553.1,626.6L552.3,626.2L551.5,626.0L550.6,626.1L549.8,626.1L549.0,626.3L548.2,626.1L547.3,626.9L546.5,626.9L545.7,626.6L544.9,627.9L544.1,626.3L543.2,626.3L542.4,627.0L541.6,626.7L540.8,628.0L539.9,626.1L539.1,626.9L538.3,626.3L537.5,626.3L536.6,628.3L535.8,626.7L535.0,627.4L534.2,627.1L533.4,626.9Z" fill="#ff00ff" fill-opacity="0.2" stroke="#ff00ff" stroke-opacity="0.2" stroke-width="0.8"/><path d="M533.4,620.9L534.2,620.3L535.0,618.6L535.8,620.8L536.6,617.4L537.5,618.4L538.3,617.7L539.1,619.4L539.9,619.1L540.8,616.4L541.6,614.3L542.4,614.8L543.2,606.6L544.1,614.8L544.9,613.9L545.7,606.5L546.5,612.8L547.3,614.9L548.2,612.7L549.0,614.1L549.8,614.2L550.6,605.2L551.5,613.0L552.3,608.7L553.1,611.4L553.9,610.0L554.8,608.7L555.6,607.2L556.4,606.8L557.2,608.2L558.0,604.8L558.9,600.8L559.7,603.9L560.5,604.5L561.3,604.0L562.2,592.8L563.0,598.5L563.8,601.1L564.6,598.7L565.5,597.4L566.3,598.9L567.1,597.1L567.9,596.5L568.8,593.3L569.6,595.8L570.4,592.1L571.2,588.4L572.0,592.0L572.9,587.0L573.7,585.9L574.5,585.1L575.3,577.4L576.2,580.2L577.0,576.3L577.8,568.7L578.6,571.7L579.5,561.6L580.3,561.0L581.1,563.5L581.9,541.0L582.8,551.3L583.6,544.7L584.4,539.4L585.2,542.5L586.0,540.3L586.9,542.9L587.7,547.0L588.5,545.6L589.3,545.3L590.2,537.4L591.0,549.3L591.8,553.8L592.6,542.7L593.5,552.1L594.3,555.1L595.1,558.3L595.9,549.1L596.7,554.7L597.6,561.2L598.4,551.2L599.2,546.5L600.0,557.7L600.9,554.4L601.7,560.1L602.5,556.1L603.3,555.9L604.2,555.7L605.0,550.6L605.8,549.9L606.6,547.0L607.5,550.1L608.3,542.0L609.1,545.7L609.9,543.8L610.7,544.5L611.6,543.1L612.4,536.3L613.2,539.2L614.0,540.2L614.9,540.4L615.7,539.3L616.5,522.9L617.3,537.9L618.2,533.4L619.0,533.4L619.8,535.2L620.6,533.6L621.4,515.0L622.3,527.4L623.1,532.1L623.9,533.4L624.7,534.7L625.6,527.1L626.4,531.3L627.2,536.0L628.0,514.6L628.9,532.1L629.7,536.1L630.5,535.4L631.3,534.9L632.1,537.2L633.0,531.3L633.8,526.5L634.6,536.1L635.4,531.6L636.3,523.1L637.1,531.0L637.9,534.2L638.7,532.2L639.6,530.2L640.4,526.2L641.2,527.4L642.0,528.8L642.9,527.6L643.7,523.7L644.5,522.5L644.5,577.2L643.7,579.3L642.9,581.3L642.0,583.2L641.2,584.3L640.4,586.4L639.6,587.6L638.7,590.1L637.9,590.3L637.1,590.2L636.3,593.5L635.4,593.5L634.6,590.2L633.8,595.4L633.0,590.6L632.1,591.3L631.3,591.1L630.5,590.0L629.7,593.7L628.9,589.3L628.0,588.8L627.2,592.4L626.4,591.4L625.6,592.3L624.7,590.3L623.9,589.8L623.1,590.0L622.3,590.6L621.4,590.7L620.6,591.9L619.8,589.7L619.0,590.2L618.2,593.6L617.3,592.6L616.5,592.9L615.7,595.8L614.9,595.9L614.0,598.1L613.2,595.6L612.4,596.9L611.6,597.8L610.7,603.1L609.9,601.4L609.1,601.1L608.3,605.0L607.5,606.3L606.6,605.5L605.8,606.6L605.0,611.0L604.2,609.9L603.3,614.6L602.5,612.2L601.7,619.7L600.9,618.5L600.0,620.0L599.2,618.8L598.4,619.8L597.6,615.7L596.7,613.0L595.9,614.5L595.1,612.0L594.3,612.4L593.5,609.1L592.6,611.5L591.8,606.5L591.0,607.4L590.2,604.1L589.3,605.5L588.5,598.8L587.7,599.9L586.9,595.5L586.0,593.8L585.2,593.4L584.4,595.4L583.6,601.2L582.8,599.3L581.9,604.7L581.1,607.4L580.3,610.7L579.5,613.9L578.6,613.6L577.8,616.6L577.0,621.6L576.2,621.9L575.3,623.2L574.5,626.2L573.7,625.4L572.9,624.1L572.0,624.4L571.2,630.8L570.4,624.7L569.6,632.3L568.8,626.7L567.9,626.4L567.1,627.6L566.3,629.2L565.5,626.4L564.6,631.0L563.8,626.6L563.0,627.0L562.2,627.0L561.3,628.5L560.5,630.2L559.7,629.1L558.9,631.2L558.0,628.5L557.2,630.0L556.4,629.4L555.6,632.0L554.8,633.2L553.9,630.6L553.1,627.9L552.3,627.9L551.5,629.9L550.6,631.7L549.8,628.9L549.0,629.8L548.2,631.1L547.3,628.7L546.5,631.2L545.7,627.9L544.9,630.8L544.1,629.7L543.2,629.4L542.4,630.7L541.6,629.6L540.8,630.8L539.9,631.0L539.1,627.6L538.3,630.0L537.5,632.6L536.6,628.2L535.8,629.0L535.0,630.5L534.2,627.2L533.4,630.1Z" fill="#ff6347" fill-opacity="0.2" stroke="#ff6347" stroke-opacity="0.2" stroke-width="0.8"/><path d="M533.4,619.3L534.2,617.7L535.0,619.4L535.8,617.3L536.6,616.9L537.5,617.1L538.3,614.7L539.1,617.5L539.9,616.5L540.8,616.3L541.6,613.3L542.4,608.8L543.2,613.8L544.1,611.3L544.9,611.9L545.7,614.2L546.5,613.5L547.3,599.1L548.2,611.1L549.0,611.4L549.8,612.9L550.6,607.4L551.5,610.8L552.3,606.3L553.1,609.6L553.9,607.5L554.8,607.2L555.6,600.7L556.4,600.3L557.2,599.4L558.0,604.7L558.9,601.7L559.7,599.5L560.5,596.9L561.3,597.8L562.2,597.8L563.0,597.9L563.8,595.6L564.6,592.3L565.5,587.1L566.3,587.7L567.1,590.5L567.9,590.5L568.8,588.2L569.6,565.3L570.4,581.5L571.2,580.9L572.0,581.1L572.9,581.9L573.7,578.1L574.5,576.8L575.3,568.4L576.2,569.1L577.0,570.3L577.8,567.9L578.6,561.6L579.5,561.5L580.3,558.9L581.1,555.5L581.9,560.6L582.8,556.8L583.6,553.3L584.4,541.5L585.2,544.5L586.0,540.6L586.9,539.5L587.7,537.5L588.5,536.5L589.3,515.8L590.2,515.7L591.0,519.8L591.8,519.9L592.6,516.4L593.5,502.5L594.3,503.9L595.1,494.6L595.9,505.2L596.7,503.6L597.6,507.4L598.4,514.8L599.2,513.2L600.0,514.0L600.9,518.9L601.7,515.7L602.5,514.9L603.3,511.6L604.2,509.1L605.0,517.8L605.8,517.5L606.6,519.4L607.5,516.8L608.3,522.0L609.1,518.8L609.9,523.2L610.7,525.8L611.6,518.1L612.4,525.9L613.2,524.1L614.0,525.1L614.9,526.5L615.7,528.3L616.5,518.4L617.3,527.5L618.2,520.5L619.0,512.6L619.8,518.9L620.6,522.3L621.4,522.1L622.3,512.6L623.1,512.2L623.9,512.4L624.7,514.4L625.6,518.4L626.4,512.6L627.2,509.8L628.0,510.3L628.9,507.2L629.7,512.2L630.5,501.8L631.3,507.3L632.1,506.7L633.0,508.4L633.8,488.1L634.6,504.8L635.4,503.3L636.3,499.0L637.1,497.3L637.9,501.0L638.7,497.4L639.6,497.4L640.4,496.6L641.2,499.7L642.0,496.5L642.9,496.9L643.7,499.2L644.5,498.1L644.5,538.3L643.7,543.3L642.9,546.6L642.0,554.3L641.2,553.2L640.4,555.8L639.6,560.3L638.7,561.0L637.9,559.9L637.1,559.8L636.3,566.2L635.4,564.4L634.6,563.3L633.8,563.6L633.0,563.6L632.1,571.1L631.3,567.2L630.5,563.4L629.7,569.4L628.9,571.4L628.0,569.0L627.2,567.4L626.4,568.3L625.6,569.2L624.7,573.0L623.9,572.6L623.1,572.4L622.3,574.9L621.4,573.3L620.6,578.2L619.8,578.4L619.0,577.4L618.2,578.9L617.3,581.3L616.5,578.6L615.7,585.5L614.9,580.8L614.0,580.1L613.2,582.9L612.4,584.8L611.6,578.8L610.7,579.1L609.9,576.1L609.1,576.7L608.3,579.2L607.5,571.1L606.6,574.3L605.8,575.7L605.0,568.7L604.2,569.9L603.3,570.2L602.5,573.0L601.7,571.7L600.9,579.8L600.0,576.0L599.2,571.5L598.4,571.8L597.6,570.0L596.7,566.0L595.9,564.0L595.1,567.3L594.3,561.3L593.5,564.9L592.6,569.0L591.8,575.9L591.0,580.3L590.2,580.3L589.3,582.8L588.5,586.0L587.7,594.9L586.9,592.0L586.0,593.2L585.2,598.5L584.4,600.8L583.6,600.5L582.8,600.0L581.9,602.6L581.1,605.5L580.3,609.0L579.5,610.3L578.6,607.7L577.8,608.4L577.0,611.4L576.2,612.5L575.3,612.8L574.5,614.6L573.7,617.6L572.9,615.5L572.0,620.5L571.2,617.6L570.4,619.9L569.6,621.7L568.8,620.0L567.9,618.2L567.1,620.5L566.3,619.4L565.5,623.7L564.6,624.7L563.8,628.6L563.0,623.1L562.2,623.0L561.3,624.9L560.5,623.0L559.7,628.3L558.9,623.4L558.0,624.8L557.2,630.5L556.4,626.8L555.6,627.1L554.8,625.7L553.9,629.0L553.1,632.8L552.3,627.1L551.5,626.5L550.6,630.9L549.8,629.4L549.0,629.8L548.2,626.5L547.3,627.2L546.5,628.1L545.7,628.5L544.9,628.0L544.1,629.2L543.2,628.9L542.4,635.7L541.6,629.7L540.8,628.9L539.9,631.3L539.1,628.7L538.3,633.5L537.5,626.6L536.6,627.8L535.8,627.5L535.0,626.8L534.2,630.6L533.4,627.5Z" fill="#ffa500" fill-opacity="0.2" stroke="#ffa500" stroke-opacity="0.2" stroke-width="0.8"/><path d="M397.5,628.0L398.3,628.4L399.1,627.2L400.0,627.9L400.8,626.8L401.6,626.8L402.4,628.0L403.3,626.4L404.1,628.5L404.9,628.9L405.7,628.4L406.6,628.1L407.4,627.1L408.2,626.1L409.0,628.1L409.9,627.2L410.7,627.2L411.5,627.1L412.3,627.4L413.1,627.0L414.0,627.8L414.8,627.8L415.6,628.0L416.4,626.8L417.3,628.7L418.1,628.1L418.9,628.9L419.7,628.4L420.6,627.8L421.4,627.1L422.2,628.5L423.0,626.6L423.8,628.3L424.7,627.1L425.5,626.3L426.3,628.0L427.1,626.6L428.0,627.9L428.8,628.2L429.6,628.0L430.4,627.6L431.3,628.3L432.1,626.6L432.9,627.6L433.7,626.7L434.6,628.3L435.4,628.6L436.2,627.6L437.0,628.5L437.8,628.3L438.7,626.8L439.5,627.4L440.3,628.8L441.1,626.6L442.0,628.2L442.8,626.9L443.6,628.0L444.4,628.1L445.3,628.8L446.1,627.7L446.9,627.7L447.7,627.5L448.5,627.1L449.4,629.2L450.2,628.4L451.0,628.0L451.8,626.4L452.7,627.2L453.5,628.0L454.3,627.2L455.1,628.6L456.0,627.3L456.8,627.0L457.6,627.8L458.4,627.6L459.2,627.8L460.1,628.1L460.9,627.6L461.7,627.9L462.5,628.5L463.4,627.9L464.2,628.1L465.0,627.4L465.8,627.3L466.7,628.8L467.5,626.9L468.3,626.8L469.1,626.7L470.0,627.4L470.8,627.7L471.6,626.9L472.4,627.3L473.2,626.9L474.1,628.1L474.9,627.0L475.7,627.3L476.5,627.9L477.4,625.2L478.2,627.7L479.0,627.6L479.8,628.1L480.7,627.4L481.5,628.6L482.3,627.1L483.1,627.0L483.9,626.7L484.8,626.3L485.6,627.4L486.4,627.2L487.2,627.8L488.1,627.8L488.9,627.2L489.7,627.6L490.5,628.2L491.4,628.4L492.2,627.7L493.0,628.3L493.8,627.2L494.7,626.4L495.5,627.6L496.3,626.9L497.1,626.3L497.9,627.9L498.8,626.8L499.6,626.4L500.4,627.2L501.2,627.8L502.1,625.1L502.9,627.7L503.7,627.8L504.5,626.3L505.4,627.0L506.2,626.5L507.0,626.6L507.8,627.0L508.6,626.3L509.5,625.8L510.3,624.7L511.1,626.5L511.9,626.0L512.8,625.2L513.6,627.1L514.4,626.2L515.2,626.5L516.1,626.2L516.9,626.9L517.7,624.4L518.5,625.1L519.4,626.0L520.2,624.8L521.0,626.3L521.8,626.9L522.6,626.4L523.5,624.8L524.3,624.8L525.1,625.5L525.9,622.6L526.8,624.3L527.6,623.7L528.4,624.3L529.2,625.4L530.1,623.6L530.9,623.5L531.7,625.2L532.5,625.0" fill="none" stroke="#000" stroke-width="1.5" stroke-linejoin="round" stroke-linecap="butt"/><path d="M533.4,625.9L534.2,624.6L535.0,624.1L535.8,623.8L536.6,624.4L537.5,624.6L538.3,623.2L539.1,625.3L539.9,624.3L540.8,625.2L541.6,624.3L542.4,624.4L543.2,624.1L544.1,624.1L544.9,625.3L545.7,624.3L546.5,624.1L547.3,624.6L548.2,624.1L549.0,624.4L549.8,623.9L550.6,624.9L551.5,622.8L552.3,623.4L553.1,624.6L553.9,624.0L554.8,624.2L555.6,623.4L556.4,624.0L557.2,624.2L558.0,623.3L558.9,625.5L559.7,623.0L560.5,624.4L561.3,624.7L562.2,622.9L563.0,625.0L563.8,622.8L564.6,623.2L565.5,623.7L566.3,625.8L567.1,623.9L567.9,623.6L568.8,624.0L569.6,624.3L570.4,623.8L571.2,622.8L572.0,623.1L572.9,623.2L573.7,621.9L574.5,625.1L575.3,624.0L576.2,623.2L577.0,623.8L577.8,623.6L578.6,624.0L579.5,622.9L580.3,624.4L581.1,621.1L581.9,620.9L582.8,621.5L583.6,621.6L584.4,622.3L585.2,622.4L586.0,621.9L586.9,621.8L587.7,623.0L588.5,622.7L589.3,623.2L590.2,623.4L591.0,623.9L591.8,624.1L592.6,624.4L593.5,623.2L594.3,624.3L595.1,624.7L595.9,623.7L596.7,623.8L597.6,624.2L598.4,624.9L599.2,623.7L600.0,625.4L600.9,624.7L601.7,624.3L602.5,625.3L603.3,624.0L604.2,623.5L605.0,624.1L605.8,624.4L606.6,624.7L607.5,624.6L608.3,623.7L609.1,625.0L609.9,622.7L610.7,623.6L611.6,623.1L612.4,622.8L613.2,622.5L614.0,623.1L614.9,621.2L615.7,622.2L616.5,622.3L617.3,622.4L618.2,621.4L619.0,621.3L619.8,621.3L620.6,621.0L621.4,622.9L622.3,623.8L623.1,624.3L623.9,624.1L624.7,623.7L625.6,624.0L626.4,625.5L627.2,626.1L628.0,624.1L628.9,624.1L629.7,625.7L630.5,625.9L631.3,625.1L632.1,626.0L633.0,626.2L633.8,626.5L634.6,625.7L635.4,626.2L636.3,626.9L637.1,625.5L637.9,625.3L638.7,626.3L639.6,626.5L640.4,627.8L641.2,626.2L642.0,627.0L642.9,626.9L643.7,626.1L644.5,627.9" fill="none" stroke="#1e90ff" stroke-width="1.5" stroke-linejoin="round" stroke-linecap="butt"/><path d="M533.4,620.9L534.2,623.8L535.0,626.6L535.8,625.7L536.6,624.1L537.5,624.9L538.3,621.9L539.1,622.0L539.9,625.2L540.8,624.5L541.6,623.7L542.4,625.0L543.2,623.8L544.1,625.8L544.9,622.4L545.7,622.6L546.5,622.6L547.3,621.4L548.2,625.1L549.0,624.7L549.8,621.3L550.6,622.4L551.5,622.9L552.3,622.7L553.1,625.2L553.9,624.8L554.8,625.5L555.6,622.9L556.4,619.4L557.2,622.2L558.0,622.9L558.9,623.4L559.7,620.8L560.5,621.4L561.3,622.0L562.2,622.6L563.0,621.3L563.8,621.5L564.6,620.5L565.5,620.8L566.3,621.1L567.1,619.4L567.9,619.8L568.8,617.5L569.6,616.8L570.4,617.6L571.2,617.4L572.0,618.6L572.9,617.3L573.7,611.5L574.5,614.9L575.3,611.9L576.2,608.3L577.0,607.0L577.8,607.2L578.6,606.2L579.5,605.6L580.3,607.2L581.1,604.3L581.9,603.8L582.8,607.2L583.6,604.9L584.4,604.6L585.2,602.5L586.0,603.3L586.9,604.6L587.7,604.0L588.5,604.0L589.3,602.9L590.2,604.1L591.0,601.3L591.8,601.8L592.6,599.7L593.5,596.5L594.3,596.2L595.1,596.4L595.9,594.3L596.7,597.5L597.6,598.1L598.4,597.8L599.2,601.9L600.0,602.7L600.9,606.9L601.7,609.2L602.5,610.8L603.3,615.0L604.2,614.1L605.0,617.7L605.8,614.6L606.6,617.6L607.5,616.5L608.3,617.0L609.1,614.5L609.9,618.8L610.7,617.2L611.6,617.2L612.4,617.7L613.2,617.2L614.0,615.3L614.9,618.7L615.7,618.0L616.5,619.0L617.3,620.3L618.2,616.7L619.0,618.1L619.8,618.6L620.6,617.0L621.4,619.1L622.3,617.5L623.1,620.0L623.9,612.9L624.7,619.8L625.6,616.9L626.4,620.2L627.2,617.5L628.0,617.4L628.9,618.8L629.7,620.5L630.5,617.7L631.3,617.3L632.1,616.8L633.0,619.6L633.8,618.6L634.6,619.4L635.4,619.1L636.3,618.2L637.1,619.5L637.9,621.0L638.7,616.3L639.6,614.2L640.4,616.7L641.2,621.2L642.0,616.4L642.9,614.0L643.7,617.9L644.5,615.5" fill="none" stroke="#ff00ff" stroke-width="1.5" stroke-linejoin="round" stroke-linecap="butt"/><path d="M533.4,621.5L534.2,623.1L535.0,629.4L535.8,625.2L536.6,624.7L537.5,626.7L538.3,622.3L539.1,624.2L539.9,626.0L540.8,623.8L541.6,624.3L542.4,624.7L543.2,622.3L544.1,627.9L544.9,620.9L545.7,619.0L546.5,621.9L547.3,621.8L548.2,622.0L549.0,621.7L549.8,619.7L550.6,621.4L551.5,615.1L552.3,620.1L553.1,615.7L553.9,622.6L554.8,613.0L555.6,618.5L556.4,616.4L557.2,621.8L558.0,615.9L558.9,617.7L559.7,621.1L560.5,618.4L561.3,610.3L562.2,617.5L563.0,617.0L563.8,615.9L564.6,614.3L565.5,619.2L566.3,614.3L567.1,605.7L567.9,613.3L568.8,612.7L569.6,606.9L570.4,605.8L571.2,607.9L572.0,604.7L572.9,609.4L573.7,606.9L574.5,606.2L575.3,601.8L576.2,601.3L577.0,602.5L577.8,594.0L578.6,597.2L579.5,587.6L580.3,589.6L581.1,587.4L581.9,577.8L582.8,576.4L583.6,571.6L584.4,570.2L585.2,564.8L586.0,571.6L586.9,572.1L587.7,572.3L588.5,576.0L589.3,582.3L590.2,582.1L591.0,576.2L591.8,582.1L592.6,579.8L593.5,580.8L594.3,584.8L595.1,586.5L595.9,583.9L596.7,584.7L597.6,590.0L598.4,585.8L599.2,585.3L600.0,590.2L600.9,588.1L601.7,591.0L602.5,586.5L603.3,581.2L604.2,582.3L605.0,581.1L605.8,575.1L606.6,578.3L607.5,571.0L608.3,575.7L609.1,573.7L609.9,579.1L610.7,567.3L611.6,575.5L612.4,566.8L613.2,570.8L614.0,569.3L614.9,568.8L615.7,564.9L616.5,566.4L617.3,567.0L618.2,562.7L619.0,565.8L619.8,563.3L620.6,563.5L621.4,560.2L622.3,559.0L623.1,564.5L623.9,560.0L624.7,562.4L625.6,564.8L626.4,557.9L627.2,558.6L628.0,560.4L628.9,560.4L629.7,559.6L630.5,563.8L631.3,562.9L632.1,565.9L633.0,561.0L633.8,562.7L634.6,565.4L635.4,559.6L636.3,561.2L637.1,562.7L637.9,558.8L638.7,562.9L639.6,561.9L640.4,556.9L641.2,557.7L642.0,554.5L642.9,556.8L643.7,555.6L644.5,548.7" fill="none" stroke="#ff6347" stroke-width="1.5" stroke-linejoin="round" stroke-linecap="butt"/><path d="M533.4,620.9L534.2,624.5L535.0,617.2L535.8,623.5L536.6,625.8L537.5,629.2L538.3,624.9L539.1,620.8L539.9,623.3L540.8,626.0L541.6,620.8L542.4,625.3L543.2,625.8L544.1,622.5L544.9,628.6L545.7,617.7L546.5,623.2L547.3,621.4L548.2,627.1L549.0,618.9L549.8,624.4L550.6,620.1L551.5,624.2L552.3,622.2L553.1,615.8L553.9,619.7L554.8,622.0L555.6,616.9L556.4,611.5L557.2,609.9L558.0,610.2L558.9,611.4L559.7,611.6L560.5,613.1L561.3,618.5L562.2,610.5L563.0,613.9L563.8,613.4L564.6,611.2L565.5,605.7L566.3,608.2L567.1,604.8L567.9,603.2L568.8,603.4L569.6,609.4L570.4,603.0L571.2,604.1L572.0,600.3L572.9,598.1L573.7,602.2L574.5,592.2L575.3,592.4L576.2,597.5L577.0,595.1L577.8,592.9L578.6,590.7L579.5,594.7L580.3,590.1L581.1,588.1L581.9,581.4L582.8,583.1L583.6,582.3L584.4,578.3L585.2,574.3L586.0,575.4L586.9,570.5L587.7,568.7L588.5,567.2L589.3,566.1L590.2,562.4L591.0,559.3L591.8,550.7L592.6,547.6L593.5,542.0L594.3,541.1L595.1,538.6L595.9,539.2L596.7,545.2L597.6,548.4L598.4,549.7L599.2,548.3L600.0,551.9L600.9,551.2L601.7,546.6L602.5,548.6L603.3,552.9L604.2,541.7L605.0,542.8L605.8,550.0L606.6,548.0L607.5,549.6L608.3,553.6L609.1,545.8L609.9,556.2L610.7,554.6L611.6,555.0L612.4,558.3L613.2,557.6L614.0,562.8L614.9,560.0L615.7,555.9L616.5,563.9L617.3,557.4L618.2,554.2L619.0,555.7L619.8,553.3L620.6,554.6L621.4,553.8L622.3,554.6L623.1,554.1L623.9,550.4L624.7,552.5L625.6,548.0L626.4,545.1L627.2,542.9L628.0,541.5L628.9,542.4L629.7,542.8L630.5,541.0L631.3,547.6L632.1,534.5L633.0,544.3L633.8,537.5L634.6,542.9L635.4,535.2L636.3,534.5L637.1,537.6L637.9,533.5L638.7,532.9L639.6,533.0L640.4,534.7L641.2,531.4L642.0,528.0L642.9,526.4L643.7,525.1L644.5,519.9" fill="none" stroke="#ffa500" stroke-width="1.5" stroke-linejoin="round" stroke-linecap="butt"/></g>
<rect x="45.5" y="19.5" width="247.0" height="619.0" fill="none" stroke="#000" stroke-opacity="0.72" stroke-width="1"/>
<line x1="45.50" y1="638.5" x2="45.50" y2="642.0" stroke="#000" stroke-width="0.8"/>
<text x="45.50" y="652.70" font-size="10.7" text-anchor="middle" textLength="25.45" lengthAdjust="spacingAndGlyphs">1850</text>
<line x1="86.67" y1="638.5" x2="86.67" y2="642.0" stroke="#000" stroke-width="0.8"/>
<text x="86.67" y="652.70" font-size="10.7" text-anchor="middle" textLength="25.45" lengthAdjust="spacingAndGlyphs">1900</text>
<line x1="127.83" y1="638.5" x2="127.83" y2="642.0" stroke="#000" stroke-width="0.8"/>
<text x="127.83" y="652.70" font-size="10.7" text-anchor="middle" textLength="25.45" lengthAdjust="spacingAndGlyphs">1950</text>
<line x1="169.00" y1="638.5" x2="169.00" y2="642.0" stroke="#000" stroke-width="0.8"/>
<text x="169.00" y="652.70" font-size="10.7" text-anchor="middle" textLength="25.45" lengthAdjust="spacingAndGlyphs">2000</text>
<line x1="210.17" y1="638.5" x2="210.17" y2="642.0" stroke="#000" stroke-width="0.8"/>
<text x="210.17" y="652.70" font-size="10.7" text-anchor="middle" textLength="25.45" lengthAdjust="spacingAndGlyphs">2050</text>
<line x1="251.33" y1="638.5" x2="251.33" y2="642.0" stroke="#000" stroke-width="0.8"/>
<text x="251.33" y="652.70" font-size="10.7" text-anchor="middle" textLength="25.45" lengthAdjust="spacingAndGlyphs">2100</text>
<line x1="292.50" y1="638.5" x2="292.50" y2="642.0" stroke="#000" stroke-width="0.8"/>
<text x="292.50" y="652.70" font-size="10.7" text-anchor="middle" textLength="25.45" lengthAdjust="spacingAndGlyphs">2150</text>
<text x="169.00" y="667.50" font-size="12.7" text-anchor="middle" textLength="25.41" lengthAdjust="spacingAndGlyphs">Year</text>
<rect x="397.5" y="19.5" width="247.0" height="619.0" fill="none" stroke="#000" stroke-opacity="0.72" stroke-width="1"/>
<line x1="397.50" y1="638.5" x2="397.50" y2="642.0" stroke="#000" stroke-width="0.8"/>
<text x="397.50" y="652.70" font-size="10.7" text-anchor="middle" textLength="25.45" lengthAdjust="spacingAndGlyphs">1850</text>
<line x1="438.67" y1="638.5" x2="438.67" y2="642.0" stroke="#000" stroke-width="0.8"/>
<text x="438.67" y="652.70" font-size="10.7" text-anchor="middle" textLength="25.45" lengthAdjust="spacingAndGlyphs">1900</text>
<line x1="479.83" y1="638.5" x2="479.83" y2="642.0" stroke="#000" stroke-width="0.8"/>
<text x="479.83" y="652.70" font-size="10.7" text-anchor="middle" textLength="25.45" lengthAdjust="spacingAndGlyphs">1950</text>
<line x1="521.00" y1="638.5" x2="521.00" y2="642.0" stroke="#000" stroke-width="0.8"/>
<text x="521.00" y="652.70" font-size="10.7" text-anchor="middle" textLength="25.45" lengthAdjust="spacingAndGlyphs">2000</text>
<line x1="562.17" y1="638.5" x2="562.17" y2="642.0" stroke="#000" stroke-width="0.8"/>
<text x="562.17" y="652.70" font-size="10.7" text-anchor="middle" textLength="25.45" lengthAdjust="spacingAndGlyphs">2050</text>
<line x1="603.33" y1="638.5" x2="603.33" y2="642.0" stroke="#000" stroke-width="0.8"/>
<text x="603.33" y="652.70" font-size="10.7" text-anchor="middle" textLength="25.45" lengthAdjust="spacingAndGlyphs">2100</text>
<line x1="644.50" y1="638.5" x2="644.50" y2="642.0" stroke="#000" stroke-width="0.8"/>
<text x="644.50" y="652.70" font-size="10.7" text-anchor="middle" textLength="25.45" lengthAdjust="spacingAndGlyphs">2150</text>
<text x="521.00" y="667.50" font-size="12.7" text-anchor="middle" textLength="25.41" lengthAdjust="spacingAndGlyphs">Year</text>
<text x="168.70" y="11.50" font-size="15.3" text-anchor="middle" font-weight="bold" textLength="172.27" lengthAdjust="spacingAndGlyphs">Mass balance of GrIS</text>
<text x="520.70" y="11.50" font-size="15.3" text-anchor="middle" font-weight="bold" textLength="164.49" lengthAdjust="spacingAndGlyphs">Mass balance of AIS</text>
<line x1="42.00" y1="150.71" x2="45.50" y2="150.71" stroke="#000" stroke-width="0.8"/><text x="38.50" y="154.39" font-size="10.7" text-anchor="end" textLength="22.27" lengthAdjust="spacingAndGlyphs">0.30</text><line x1="42.00" y1="112.14" x2="45.50" y2="112.14" stroke="#000" stroke-width="0.8"/><text x="38.50" y="115.82" font-size="10.7" text-anchor="end" textLength="22.27" lengthAdjust="spacingAndGlyphs">0.35</text><line x1="42.00" y1="73.57" x2="45.50" y2="73.57" stroke="#000" stroke-width="0.8"/><text x="38.50" y="77.25" font-size="10.7" text-anchor="end" textLength="22.27" lengthAdjust="spacingAndGlyphs">0.40</text><line x1="42.00" y1="35.00" x2="45.50" y2="35.00" stroke="#000" stroke-width="0.8"/><text x="38.50" y="38.68" font-size="10.7" text-anchor="end" textLength="22.27" lengthAdjust="spacingAndGlyphs">0.45</text>
<line x1="292.50" y1="318.30" x2="296.00" y2="318.30" stroke="#000" stroke-width="0.8"/><text x="298.80" y="321.98" font-size="10.7" text-anchor="start" textLength="15.90" lengthAdjust="spacingAndGlyphs">0.0</text><line x1="292.50" y1="292.60" x2="296.00" y2="292.60" stroke="#000" stroke-width="0.8"/><text x="298.80" y="296.28" font-size="10.7" text-anchor="start" textLength="15.90" lengthAdjust="spacingAndGlyphs">0.5</text><line x1="292.50" y1="266.90" x2="296.00" y2="266.90" stroke="#000" stroke-width="0.8"/><text x="298.80" y="270.58" font-size="10.7" text-anchor="start" textLength="15.90" lengthAdjust="spacingAndGlyphs">1.0</text><line x1="292.50" y1="241.20" x2="296.00" y2="241.20" stroke="#000" stroke-width="0.8"/><text x="298.80" y="244.88" font-size="10.7" text-anchor="start" textLength="15.90" lengthAdjust="spacingAndGlyphs">1.5</text><line x1="292.50" y1="215.50" x2="296.00" y2="215.50" stroke="#000" stroke-width="0.8"/><text x="298.80" y="219.18" font-size="10.7" text-anchor="start" textLength="15.90" lengthAdjust="spacingAndGlyphs">2.0</text><line x1="292.50" y1="189.80" x2="296.00" y2="189.80" stroke="#000" stroke-width="0.8"/><text x="298.80" y="193.48" font-size="10.7" text-anchor="start" textLength="15.90" lengthAdjust="spacingAndGlyphs">2.5</text>
<line x1="42.00" y1="467.10" x2="45.50" y2="467.10" stroke="#000" stroke-width="0.8"/><text x="38.50" y="470.78" font-size="10.7" text-anchor="end" textLength="22.27" lengthAdjust="spacingAndGlyphs">0.00</text><line x1="42.00" y1="442.67" x2="45.50" y2="442.67" stroke="#000" stroke-width="0.8"/><text x="38.50" y="446.35" font-size="10.7" text-anchor="end" textLength="22.27" lengthAdjust="spacingAndGlyphs">0.03</text><line x1="42.00" y1="418.24" x2="45.50" y2="418.24" stroke="#000" stroke-width="0.8"/><text x="38.50" y="421.92" font-size="10.7" text-anchor="end" textLength="22.27" lengthAdjust="spacingAndGlyphs">0.06</text><line x1="42.00" y1="393.80" x2="45.50" y2="393.80" stroke="#000" stroke-width="0.8"/><text x="38.50" y="397.48" font-size="10.7" text-anchor="end" textLength="22.27" lengthAdjust="spacingAndGlyphs">0.09</text><line x1="42.00" y1="369.37" x2="45.50" y2="369.37" stroke="#000" stroke-width="0.8"/><text x="38.50" y="373.05" font-size="10.7" text-anchor="end" textLength="22.27" lengthAdjust="spacingAndGlyphs">0.12</text><line x1="42.00" y1="344.94" x2="45.50" y2="344.94" stroke="#000" stroke-width="0.8"/><text x="38.50" y="348.62" font-size="10.7" text-anchor="end" textLength="22.27" lengthAdjust="spacingAndGlyphs">0.15</text>
<line x1="292.50" y1="631.10" x2="296.00" y2="631.10" stroke="#000" stroke-width="0.8"/><text x="298.80" y="634.78" font-size="10.7" text-anchor="start" textLength="28.63" lengthAdjust="spacingAndGlyphs">0.000</text><line x1="292.50" y1="601.94" x2="296.00" y2="601.94" stroke="#000" stroke-width="0.8"/><text x="298.80" y="605.62" font-size="10.7" text-anchor="start" textLength="28.63" lengthAdjust="spacingAndGlyphs">0.005</text><line x1="292.50" y1="572.78" x2="296.00" y2="572.78" stroke="#000" stroke-width="0.8"/><text x="298.80" y="576.46" font-size="10.7" text-anchor="start" textLength="28.63" lengthAdjust="spacingAndGlyphs">0.010</text><line x1="292.50" y1="543.62" x2="296.00" y2="543.62" stroke="#000" stroke-width="0.8"/><text x="298.80" y="547.30" font-size="10.7" text-anchor="start" textLength="28.63" lengthAdjust="spacingAndGlyphs">0.015</text><line x1="292.50" y1="514.46" x2="296.00" y2="514.46" stroke="#000" stroke-width="0.8"/><text x="298.80" y="518.14" font-size="10.7" text-anchor="start" textLength="28.63" lengthAdjust="spacingAndGlyphs">0.020</text><line x1="292.50" y1="485.30" x2="296.00" y2="485.30" stroke="#000" stroke-width="0.8"/><text x="298.80" y="488.98" font-size="10.7" text-anchor="start" textLength="28.63" lengthAdjust="spacingAndGlyphs">0.025</text>
<line x1="394.00" y1="171.19" x2="397.50" y2="171.19" stroke="#000" stroke-width="0.8"/><text x="390.50" y="174.87" font-size="10.7" text-anchor="end" textLength="15.90" lengthAdjust="spacingAndGlyphs">0.6</text><line x1="394.00" y1="127.16" x2="397.50" y2="127.16" stroke="#000" stroke-width="0.8"/><text x="390.50" y="130.84" font-size="10.7" text-anchor="end" textLength="15.90" lengthAdjust="spacingAndGlyphs">0.7</text><line x1="394.00" y1="83.13" x2="397.50" y2="83.13" stroke="#000" stroke-width="0.8"/><text x="390.50" y="86.81" font-size="10.7" text-anchor="end" textLength="15.90" lengthAdjust="spacingAndGlyphs">0.8</text><line x1="394.00" y1="39.10" x2="397.50" y2="39.10" stroke="#000" stroke-width="0.8"/><text x="390.50" y="42.78" font-size="10.7" text-anchor="end" textLength="15.90" lengthAdjust="spacingAndGlyphs">0.9</text>
<line x1="644.50" y1="321.90" x2="648.00" y2="321.90" stroke="#000" stroke-width="0.8"/><text x="650.80" y="325.58" font-size="10.7" text-anchor="start" textLength="15.90" lengthAdjust="spacingAndGlyphs">0.0</text><line x1="644.50" y1="292.10" x2="648.00" y2="292.10" stroke="#000" stroke-width="0.8"/><text x="650.80" y="295.78" font-size="10.7" text-anchor="start" textLength="15.90" lengthAdjust="spacingAndGlyphs">0.2</text><line x1="644.50" y1="262.30" x2="648.00" y2="262.30" stroke="#000" stroke-width="0.8"/><text x="650.80" y="265.98" font-size="10.7" text-anchor="start" textLength="15.90" lengthAdjust="spacingAndGlyphs">0.4</text><line x1="644.50" y1="232.50" x2="648.00" y2="232.50" stroke="#000" stroke-width="0.8"/><text x="650.80" y="236.18" font-size="10.7" text-anchor="start" textLength="15.90" lengthAdjust="spacingAndGlyphs">0.6</text><line x1="644.50" y1="202.70" x2="648.00" y2="202.70" stroke="#000" stroke-width="0.8"/><text x="650.80" y="206.38" font-size="10.7" text-anchor="start" textLength="15.90" lengthAdjust="spacingAndGlyphs">0.8</text>
<line x1="394.00" y1="460.50" x2="397.50" y2="460.50" stroke="#000" stroke-width="0.8"/><text x="390.50" y="464.18" font-size="10.7" text-anchor="end" textLength="15.90" lengthAdjust="spacingAndGlyphs">0.4</text><line x1="394.00" y1="434.94" x2="397.50" y2="434.94" stroke="#000" stroke-width="0.8"/><text x="390.50" y="438.62" font-size="10.7" text-anchor="end" textLength="15.90" lengthAdjust="spacingAndGlyphs">0.6</text><line x1="394.00" y1="409.38" x2="397.50" y2="409.38" stroke="#000" stroke-width="0.8"/><text x="390.50" y="413.06" font-size="10.7" text-anchor="end" textLength="15.90" lengthAdjust="spacingAndGlyphs">0.8</text><line x1="394.00" y1="383.82" x2="397.50" y2="383.82" stroke="#000" stroke-width="0.8"/><text x="390.50" y="387.50" font-size="10.7" text-anchor="end" textLength="15.90" lengthAdjust="spacingAndGlyphs">1.0</text><line x1="394.00" y1="358.26" x2="397.50" y2="358.26" stroke="#000" stroke-width="0.8"/><text x="390.50" y="361.94" font-size="10.7" text-anchor="end" textLength="15.90" lengthAdjust="spacingAndGlyphs">1.2</text><line x1="394.00" y1="332.70" x2="397.50" y2="332.70" stroke="#000" stroke-width="0.8"/><text x="390.50" y="336.38" font-size="10.7" text-anchor="end" textLength="15.90" lengthAdjust="spacingAndGlyphs">1.4</text>
<line x1="644.50" y1="638.60" x2="648.00" y2="638.60" stroke="#000" stroke-width="0.8"/><text x="650.80" y="642.28" font-size="10.7" text-anchor="start" textLength="6.36" lengthAdjust="spacingAndGlyphs">0</text><line x1="644.50" y1="609.50" x2="648.00" y2="609.50" stroke="#000" stroke-width="0.8"/><text x="650.80" y="613.18" font-size="10.7" text-anchor="start" textLength="6.36" lengthAdjust="spacingAndGlyphs">1</text><line x1="644.50" y1="580.40" x2="648.00" y2="580.40" stroke="#000" stroke-width="0.8"/><text x="650.80" y="584.08" font-size="10.7" text-anchor="start" textLength="6.36" lengthAdjust="spacingAndGlyphs">2</text><line x1="644.50" y1="551.30" x2="648.00" y2="551.30" stroke="#000" stroke-width="0.8"/><text x="650.80" y="554.98" font-size="10.7" text-anchor="start" textLength="6.36" lengthAdjust="spacingAndGlyphs">3</text><line x1="644.50" y1="522.20" x2="648.00" y2="522.20" stroke="#000" stroke-width="0.8"/><text x="650.80" y="525.88" font-size="10.7" text-anchor="start" textLength="6.36" lengthAdjust="spacingAndGlyphs">4</text><line x1="644.50" y1="493.10" x2="648.00" y2="493.10" stroke="#000" stroke-width="0.8"/><text x="650.80" y="496.78" font-size="10.7" text-anchor="start" textLength="6.36" lengthAdjust="spacingAndGlyphs">5</text>
<text transform="translate(10.31,96.60) rotate(-90)" x="0" y="0" font-size="12.7" text-anchor="middle" textLength="150.08" lengthAdjust="spacingAndGlyphs">Accumulation (<tspan font-style="italic">cm/y</tspan> SLE)</text>
<text transform="translate(10.31,406.10) rotate(-90)" x="0" y="0" font-size="12.7" text-anchor="middle" textLength="150.32" lengthAdjust="spacingAndGlyphs">Basal melting (<tspan font-style="italic">cm/y</tspan> SLE)</text>
<text transform="translate(324.59,251.35) rotate(90)" x="0" y="0" font-size="12.7" text-anchor="middle" textLength="163.51" lengthAdjust="spacingAndGlyphs">Surface melting (<tspan font-style="italic">cm/y</tspan> SLE)</text>
<text transform="translate(335.99,561.00) rotate(90)" x="0" y="0" font-size="12.7" text-anchor="middle" textLength="132.59" lengthAdjust="spacingAndGlyphs">Ice calving (<tspan font-style="italic">cm/y</tspan> SLE)</text>
<text transform="translate(369.51,96.60) rotate(-90)" x="0" y="0" font-size="12.7" text-anchor="middle" textLength="150.08" lengthAdjust="spacingAndGlyphs">Accumulation (<tspan font-style="italic">cm/y</tspan> SLE)</text>
<text transform="translate(369.51,406.10) rotate(-90)" x="0" y="0" font-size="12.7" text-anchor="middle" textLength="150.32" lengthAdjust="spacingAndGlyphs">Basal melting (<tspan font-style="italic">cm/y</tspan> SLE)</text>
<text transform="translate(675.49,251.35) rotate(90)" x="0" y="0" font-size="12.7" text-anchor="middle" textLength="163.51" lengthAdjust="spacingAndGlyphs">Surface melting (<tspan font-style="italic">cm/y</tspan> SLE)</text>
<text transform="translate(665.49,561.00) rotate(90)" x="0" y="0" font-size="12.7" text-anchor="middle" textLength="132.59" lengthAdjust="spacingAndGlyphs">Ice calving (<tspan font-style="italic">cm/y</tspan> SLE)</text>
<text x="53.00" y="34.90" font-size="14.6" text-anchor="start" font-weight="bold" textLength="8.23" lengthAdjust="spacingAndGlyphs">a</text>
<text x="275.60" y="189.90" font-size="14.6" text-anchor="start" font-weight="bold" textLength="8.73" lengthAdjust="spacingAndGlyphs">b</text>
<text x="53.00" y="344.70" font-size="14.6" text-anchor="start" font-weight="bold" textLength="7.23" lengthAdjust="spacingAndGlyphs">c</text>
<text x="275.60" y="499.00" font-size="14.6" text-anchor="start" font-weight="bold" textLength="8.73" lengthAdjust="spacingAndGlyphs">d</text>
<text x="405.30" y="34.90" font-size="14.6" text-anchor="start" font-weight="bold" textLength="8.28" lengthAdjust="spacingAndGlyphs">e</text>
<text x="628.00" y="189.90" font-size="14.6" text-anchor="start" font-weight="bold" textLength="5.31" lengthAdjust="spacingAndGlyphs">f</text>
<text x="405.30" y="344.70" font-size="14.6" text-anchor="start" font-weight="bold" textLength="8.73" lengthAdjust="spacingAndGlyphs">g</text>
<text x="628.30" y="499.00" font-size="14.6" text-anchor="start" font-weight="bold" textLength="8.68" lengthAdjust="spacingAndGlyphs">h</text>
<rect x="50.50" y="179.6" width="138" height="86.1" rx="2.5" fill="#fff" fill-opacity="0.8" stroke="#cccccc" stroke-width="0.8"/>
<line x1="54.50" y1="188.60" x2="78.00" y2="188.60" stroke="#000" stroke-width="1.5"/>
<text x="86.50" y="192.62" font-size="11.7" text-anchor="start" textLength="51.52" lengthAdjust="spacingAndGlyphs">Historical</text>
<line x1="54.50" y1="205.08" x2="78.00" y2="205.08" stroke="#1e90ff" stroke-width="1.5"/>
<text x="86.50" y="209.10" font-size="11.7" text-anchor="start" textLength="49.06" lengthAdjust="spacingAndGlyphs">SSP1-1.9</text>
<line x1="54.50" y1="221.56" x2="78.00" y2="221.56" stroke="#ff00ff" stroke-width="1.5"/>
<text x="86.50" y="225.58" font-size="11.7" text-anchor="start" textLength="49.06" lengthAdjust="spacingAndGlyphs">SSP2-4.5</text>
<line x1="54.50" y1="238.04" x2="78.00" y2="238.04" stroke="#ff6347" stroke-width="1.5"/>
<text x="86.50" y="242.06" font-size="11.7" text-anchor="start" textLength="49.06" lengthAdjust="spacingAndGlyphs">SSP5-8.5</text>
<line x1="54.50" y1="254.52" x2="78.00" y2="254.52" stroke="#ffa500" stroke-width="1.5"/>
<text x="86.50" y="258.54" font-size="11.7" text-anchor="start" textLength="96.24" lengthAdjust="spacingAndGlyphs">SSP5-8.5_MWOFF</text>
<rect x="402.50" y="179.6" width="138" height="86.1" rx="2.5" fill="#fff" fill-opacity="0.8" stroke="#cccccc" stroke-width="0.8"/>
<line x1="406.50" y1="188.60" x2="430.00" y2="188.60" stroke="#000" stroke-width="1.5"/>
<text x="438.50" y="192.62" font-size="11.7" text-anchor="start" textLength="51.52" lengthAdjust="spacingAndGlyphs">Historical</text>
<line x1="406.50" y1="205.08" x2="430.00" y2="205.08" stroke="#1e90ff" stroke-width="1.5"/>
<text x="438.50" y="209.10" font-size="11.7" text-anchor="start" textLength="49.06" lengthAdjust="spacingAndGlyphs">SSP1-1.9</text>
<line x1="406.50" y1="221.56" x2="430.00" y2="221.56" stroke="#ff00ff" stroke-width="1.5"/>
<text x="438.50" y="225.58" font-size="11.7" text-anchor="start" textLength="49.06" lengthAdjust="spacingAndGlyphs">SSP2-4.5</text>
<line x1="406.50" y1="238.04" x2="430.00" y2="238.04" stroke="#ff6347" stroke-width="1.5"/>
<text x="438.50" y="242.06" font-size="11.7" text-anchor="start" textLength="49.06" lengthAdjust="spacingAndGlyphs">SSP5-8.5</text>
<line x1="406.50" y1="254.52" x2="430.00" y2="254.52" stroke="#ffa500" stroke-width="1.5"/>
<text x="438.50" y="258.54" font-size="11.7" text-anchor="start" textLength="96.24" lengthAdjust="spacingAndGlyphs">SSP5-8.5_MWOFF</text>
</svg></body></html>
